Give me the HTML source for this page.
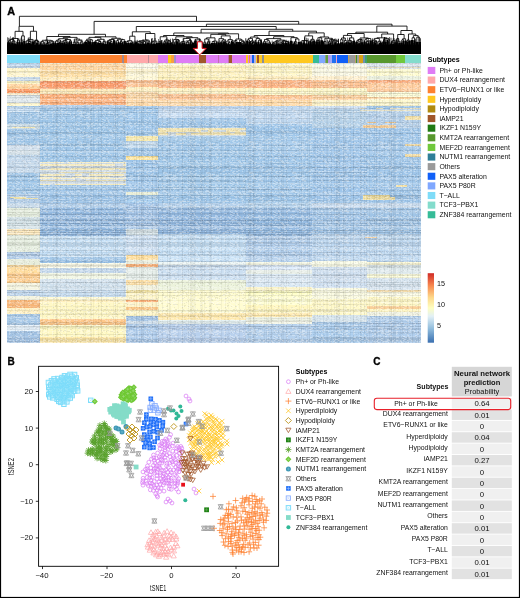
<!DOCTYPE html><html><head><meta charset="utf-8"><style>html,body{margin:0;padding:0;background:#fff}svg{display:block}</style></head><body>
<svg width="520" height="598" viewBox="0 0 520 598">
<defs>
<symbol id="s_ph" overflow="visible"><circle r="1.9" fill="none" stroke="#d878f4" stroke-width="0.7"/></symbol>
<symbol id="s_dux" overflow="visible"><path d="M0,-2.6L2.6,2L-2.6,2Z" fill="none" stroke="#ffa6a8" stroke-width="0.7"/></symbol>
<symbol id="s_etv" overflow="visible"><path d="M-3,0H3M0,-3V3" stroke="#fd8232" stroke-width="0.75"/></symbol>
<symbol id="s_hyp" overflow="visible"><path d="M-2.3,-2.3L2.3,2.3M-2.3,2.3L2.3,-2.3" stroke="#ffc41e" stroke-width="0.75"/></symbol>
<symbol id="s_hypo" overflow="visible"><path d="M0,-3L3,0L0,3L-3,0Z" fill="none" stroke="#be961e" stroke-width="0.9"/></symbol>
<symbol id="s_iamp" overflow="visible"><path d="M-2.6,-2H2.6L0,2.4Z" fill="none" stroke="#a0562a" stroke-width="0.75"/></symbol>
<symbol id="s_ikz" overflow="visible"><rect x="-2.4" y="-2.4" width="4.8" height="4.8" fill="#1e8214"/><path d="M0,-1.6V1.6M-1.6,0H1.6" stroke="#6cb060" stroke-width="0.6"/></symbol>
<symbol id="s_kmt" overflow="visible"><path d="M-3,0H3M0,-3V3M-2.1,-2.1L2.1,2.1M-2.1,2.1L2.1,-2.1" stroke="#58a02c" stroke-width="0.85"/></symbol>
<symbol id="s_mef" overflow="visible"><path d="M0,-3L3,0L0,3L-3,0Z" fill="#6ec832"/><path d="M0,-1.5V1.5M-1.5,0H1.5" stroke="#a8e090" stroke-width="0.5"/></symbol>
<symbol id="s_nut" overflow="visible"><circle r="2.5" fill="#3c96b4"/><path d="M0,-1.5V1.5M-1.5,0H1.5" stroke="#80c0d8" stroke-width="0.5"/></symbol>
<symbol id="s_oth" overflow="visible"><path d="M-2.5,-2.2H2.5L0,2.2ZM-2.5,2.2H2.5L0,-2.2Z" fill="none" stroke="#999" stroke-width="0.8"/></symbol>
<symbol id="s_pax" overflow="visible"><rect x="-2.3" y="-2.3" width="4.6" height="4.6" fill="#1e6ef8"/><path d="M0,-1.8V1.8M-1.8,0H1.8" stroke="#a8c8ff" stroke-width="0.6"/></symbol>
<symbol id="s_p80" overflow="visible"><rect x="-2.2" y="-2.2" width="4.4" height="4.4" fill="none" stroke="#80a8ff" stroke-width="0.8"/><path d="M-2,-2L2,2M-2,2L2,-2" stroke="#a8c4ff" stroke-width="0.5"/></symbol>
<symbol id="s_tall" overflow="visible"><rect x="-2.2" y="-2.2" width="4.4" height="4.4" fill="none" stroke="#7ddcfa" stroke-width="1.0"/><path d="M-2,-2L2,2M-2,2L2,-2" stroke="#a0e6fa" stroke-width="0.5"/></symbol>
<symbol id="s_tcf" overflow="visible"><rect x="-2.4" y="-2.4" width="4.8" height="4.8" fill="#84dcc8"/></symbol>
<symbol id="s_znf" overflow="visible"><circle r="2.0" fill="#30b896"/></symbol>
</defs>
<rect width="520" height="598" fill="#fff"/>
<text x="7.3" y="14.6" font-size="10.8" font-weight="bold" stroke="#000" stroke-width="0.35" font-family="Liberation Sans, sans-serif">A</text>
<text x="7.5" y="364.7" font-size="10" font-weight="bold" stroke="#000" stroke-width="0.3" font-family="Liberation Sans, sans-serif">B</text>
<text x="373.3" y="365.2" font-size="10" font-weight="bold" stroke="#000" stroke-width="0.3" font-family="Liberation Sans, sans-serif">C</text>
<path d="M8.57 42.22V46.00M11.05 42.01V46.00M8.57 42.22V40.87M8.57 40.87H11.05V42.01M12.72 42.39V46.00M14.86 42.50V46.00M12.72 42.39V40.94M12.72 40.94H14.86V42.50M9.81 40.87V39.44M9.81 39.44H13.79V40.94M17.40 41.62V46.00M19.38 41.31V46.00M17.40 41.62V40.15M17.40 40.15H19.38V41.31M11.80 39.44V38.48M11.80 38.48H18.39V40.15M21.65 41.70V46.00M24.33 40.61V46.00M21.65 41.70V35.89M21.65 35.89H24.33V40.61M15.09 38.48V31.33M15.09 31.33H22.99V35.89M26.27 42.29V46.00M28.60 42.24V46.00M30.78 42.74V46.00M28.60 42.24V41.41M28.60 41.41H30.78V42.74M26.27 42.29V40.78M26.27 40.78H29.69V41.41M32.82 40.53V46.00M27.98 40.78V39.43M27.98 39.43H32.82V40.53M35.10 41.67V46.00M37.01 42.13V46.00M39.03 41.84V46.00M37.01 42.13V41.35M37.01 41.35H39.03V41.84M35.10 41.67V40.54M35.10 40.54H38.02V41.35M30.40 39.43V31.25M30.40 31.25H36.56V40.54M19.04 31.33V26.30M19.04 26.30H33.48V31.25M40.75 42.11V46.00M42.90 44.43V46.00M44.83 44.00V46.00M42.90 44.43V43.08M42.90 43.08H44.83V44.00M40.75 42.11V41.67M40.75 41.67H43.86V43.08M46.29 45.06V46.00M48.41 44.51V46.00M46.29 45.06V43.51M46.29 43.51H48.41V44.51M50.93 43.34V46.00M47.35 43.51V42.76M47.35 42.76H50.93V43.34M53.40 42.17V46.00M49.14 42.76V41.19M49.14 41.19H53.40V42.17M42.30 41.67V40.28M42.30 40.28H51.27V41.19M55.49 42.07V46.00M57.97 42.30V46.00M55.49 42.07V41.12M55.49 41.12H57.97V42.30M60.47 42.89V46.00M56.73 41.12V40.02M56.73 40.02H60.47V42.89M62.32 42.54V46.00M64.15 41.88V46.00M62.32 42.54V41.28M62.32 41.28H64.15V41.88M66.08 43.37V46.00M67.85 42.64V46.00M66.08 43.37V42.20M66.08 42.20H67.85V42.64M63.23 41.28V40.68M63.23 40.68H66.96V42.20M69.66 41.45V46.00M71.43 41.72V46.00M69.66 41.45V41.00M69.66 41.00H71.43V41.72M65.10 40.68V39.45M65.10 39.45H70.54V41.00M58.60 40.02V38.70M58.60 38.70H67.82V39.45M73.26 43.67V46.00M75.32 43.07V46.00M73.26 43.67V42.19M73.26 42.19H75.32V43.07M76.96 43.92V46.00M78.66 43.27V46.00M76.96 43.92V42.37M76.96 42.37H78.66V43.27M80.83 43.45V46.00M83.01 43.03V46.00M80.83 43.45V41.90M80.83 41.90H83.01V43.03M77.81 42.37V40.21M77.81 40.21H81.92V41.90M74.29 42.19V39.08M74.29 39.08H79.87V40.21M63.21 38.70V37.39M63.21 37.39H77.08V39.08M46.79 40.28V36.50M46.79 36.50H70.14V37.39M85.60 41.58V46.00M87.75 42.33V46.00M85.60 41.58V40.68M85.60 40.68H87.75V42.33M89.85 41.06V46.00M92.60 41.29V46.00M89.85 41.06V39.89M89.85 39.89H92.60V41.29M86.67 40.68V39.18M86.67 39.18H91.22V39.89M95.40 41.40V46.00M98.53 42.59V46.00M100.97 42.31V46.00M98.53 42.59V41.55M98.53 41.55H100.97V42.31M95.40 41.40V40.43M95.40 40.43H99.75V41.55M103.10 42.63V46.00M105.36 43.14V46.00M103.10 42.63V41.64M103.10 41.64H105.36V43.14M97.57 40.43V39.31M97.57 39.31H104.23V41.64M88.95 39.18V37.37M88.95 37.37H100.90V39.31M107.66 40.87V46.00M110.18 42.19V46.00M112.11 42.68V46.00M110.18 42.19V41.62M110.18 41.62H112.11V42.68M107.66 40.87V40.39M107.66 40.39H111.14V41.62M114.14 40.16V46.00M109.40 40.39V39.52M109.40 39.52H114.14V40.16M116.66 42.20V46.00M118.58 41.06V46.00M116.66 42.20V40.60M116.66 40.60H118.58V41.06M120.45 42.43V46.00M122.47 42.29V46.00M120.45 42.43V41.84M120.45 41.84H122.47V42.29M124.69 40.26V46.00M121.46 41.84V39.68M121.46 39.68H124.69V40.26M117.62 40.60V39.25M117.62 39.25H123.07V39.68M111.77 39.52V38.27M111.77 38.27H120.34V39.25M94.92 37.37V36.80M94.92 36.80H116.06V38.27M58.47 36.50V34.30M58.47 34.30H105.49V36.80M126.61 42.57V46.00M128.49 42.63V46.00M126.61 42.57V41.56M126.61 41.56H128.49V42.63M130.95 42.54V46.00M132.86 42.83V46.00M130.95 42.54V41.98M130.95 41.98H132.86V42.83M127.55 41.56V40.71M127.55 40.71H131.91V41.98M134.08 41.66V46.00M135.79 42.26V46.00M134.08 41.66V41.15M134.08 41.15H135.79V42.26M129.73 40.71V36.20M129.73 36.20H134.94V41.15M138.06 42.50V46.00M140.16 43.15V46.00M141.98 43.25V46.00M140.16 43.15V42.23M140.16 42.23H141.98V43.25M138.06 42.50V41.36M138.06 41.36H141.07V42.23M143.37 42.97V46.00M145.44 43.09V46.00M143.37 42.97V41.62M143.37 41.62H145.44V43.09M139.56 41.36V40.80M139.56 40.80H144.40V41.62M148.18 42.70V46.00M150.04 42.30V46.00M148.18 42.70V41.79M148.18 41.79H150.04V42.30M141.98 40.80V40.13M141.98 40.13H149.11V41.79M151.62 42.81V46.00M154.17 43.34V46.00M151.62 42.81V41.83M151.62 41.83H154.17V43.34M156.86 41.73V46.00M152.89 41.83V41.13M152.89 41.13H156.86V41.73M145.55 40.13V33.50M145.55 33.50H154.87V41.13M132.33 36.20V31.80M132.33 31.80H150.21V33.50M159.04 42.15V46.00M161.34 42.28V46.00M159.04 42.15V41.31M159.04 41.31H161.34V42.28M163.88 42.63V46.00M165.60 42.47V46.00M163.88 42.63V41.58M163.88 41.58H165.60V42.47M167.54 41.48V46.00M170.47 42.45V46.00M167.54 41.48V40.97M167.54 40.97H170.47V42.45M164.74 41.58V40.05M164.74 40.05H169.00V40.97M160.19 41.31V36.73M160.19 36.73H166.87V40.05M172.77 43.24V46.00M174.50 42.98V46.00M172.77 43.24V42.21M172.77 42.21H174.50V42.98M176.76 40.70V46.00M179.31 42.67V46.00M176.76 40.70V40.04M176.76 40.04H179.31V42.67M173.63 42.21V39.43M173.63 39.43H178.03V40.04M180.94 43.19V46.00M182.59 42.58V46.00M180.94 43.19V42.10M180.94 42.10H182.59V42.58M184.61 42.68V46.00M181.77 42.10V41.55M181.77 41.55H184.61V42.68M186.63 43.23V46.00M188.66 43.52V46.00M186.63 43.23V42.14M186.63 42.14H188.66V43.52M190.43 43.17V46.00M192.81 42.79V46.00M190.43 43.17V42.31M190.43 42.31H192.81V42.79M187.65 42.14V40.83M187.65 40.83H191.62V42.31M183.19 41.55V38.43M183.19 38.43H189.63V40.83M195.50 40.21V46.00M197.65 43.17V46.00M199.78 44.14V46.00M197.65 43.17V42.75M197.65 42.75H199.78V44.14M202.00 42.53V46.00M198.72 42.75V41.62M198.72 41.62H202.00V42.53M195.50 40.21V39.14M195.50 39.14H200.36V41.62M186.41 38.43V37.66M186.41 37.66H197.93V39.14M175.83 39.43V36.78M175.83 36.78H192.17V37.66M163.53 36.73V35.50M163.53 35.50H184.00V36.78M203.87 43.05V46.00M205.63 42.91V46.00M203.87 43.05V42.18M203.87 42.18H205.63V42.91M207.30 42.78V46.00M209.37 43.49V46.00M207.30 42.78V42.09M207.30 42.09H209.37V43.49M204.75 42.18V38.95M204.75 38.95H208.33V42.09M212.13 42.17V46.00M214.52 42.32V46.00M212.13 42.17V41.53M212.13 41.53H214.52V42.32M216.66 42.14V46.00M213.33 41.53V41.09M213.33 41.09H216.66V42.14M206.54 38.95V37.84M206.54 37.84H214.99V41.09M218.93 41.78V46.00M221.28 42.25V46.00M223.25 42.16V46.00M221.28 42.25V41.13M221.28 41.13H223.25V42.16M224.96 40.95V46.00M222.27 41.13V39.90M222.27 39.90H224.96V40.95M218.93 41.78V38.66M218.93 38.66H223.62V39.90M226.68 42.34V46.00M228.43 43.26V46.00M230.16 44.09V46.00M228.43 43.26V42.61M228.43 42.61H230.16V44.09M226.68 42.34V41.14M226.68 41.14H229.29V42.61M232.37 41.52V46.00M227.99 41.14V39.62M227.99 39.62H232.37V41.52M221.27 38.66V35.87M221.27 35.87H230.18V39.62M210.77 37.84V34.34M210.77 34.34H225.73V35.87M234.84 42.56V46.00M236.88 41.78V46.00M234.84 42.56V40.52M234.84 40.52H236.88V41.78M239.55 41.65V46.00M241.78 42.76V46.00M243.38 43.40V46.00M245.14 43.76V46.00M243.38 43.40V42.64M243.38 42.64H245.14V43.76M241.78 42.76V41.36M241.78 41.36H244.26V42.64M239.55 41.65V40.18M239.55 40.18H243.02V41.36M235.86 40.52V39.04M235.86 39.04H241.28V40.18M218.25 34.34V33.80M218.25 33.80H238.57V39.04M173.77 35.50V33.00M173.77 33.00H228.41V33.80M247.28 40.57V46.00M249.52 41.31V46.00M247.28 40.57V39.90M247.28 39.90H249.52V41.31M251.16 42.68V46.00M252.91 43.81V46.00M254.53 43.45V46.00M252.91 43.81V42.30M252.91 42.30H254.53V43.45M251.16 42.68V40.99M251.16 40.99H253.72V42.30M248.40 39.90V38.35M248.40 38.35H252.44V40.99M256.16 42.20V46.00M258.44 41.06V46.00M261.14 42.21V46.00M258.44 41.06V40.21M258.44 40.21H261.14V42.21M256.16 42.20V38.43M256.16 38.43H259.79V40.21M250.42 38.35V37.06M250.42 37.06H257.97V38.43M263.61 42.19V46.00M265.45 42.41V46.00M263.61 42.19V41.38M263.61 41.38H265.45V42.41M266.96 42.35V46.00M268.82 43.20V46.00M270.48 42.78V46.00M268.82 43.20V42.37M268.82 42.37H270.48V42.78M266.96 42.35V40.79M266.96 40.79H269.65V42.37M264.53 41.38V39.44M264.53 39.44H268.31V40.79M272.48 44.23V46.00M274.88 44.29V46.00M272.48 44.23V43.12M272.48 43.12H274.88V44.29M276.65 42.98V46.00M273.68 43.12V42.11M273.68 42.11H276.65V42.98M278.72 42.51V46.00M275.17 42.11V41.14M275.17 41.14H278.72V42.51M281.27 43.87V46.00M283.40 42.96V46.00M281.27 43.87V42.30M281.27 42.30H283.40V42.96M285.76 42.18V46.00M288.49 42.06V46.00M285.76 42.18V41.57M285.76 41.57H288.49V42.06M282.34 42.30V41.00M282.34 41.00H287.13V41.57M276.94 41.14V40.12M276.94 40.12H284.73V41.00M266.42 39.44V38.62M266.42 38.62H280.84V40.12M290.97 39.94V46.00M293.59 43.72V46.00M295.32 44.38V46.00M293.59 43.72V43.21M293.59 43.21H295.32V44.38M296.81 42.90V46.00M294.46 43.21V41.88M294.46 41.88H296.81V42.90M298.92 41.49V46.00M295.63 41.88V38.95M295.63 38.95H298.92V41.49M290.97 39.94V37.65M290.97 37.65H297.28V38.95M273.63 38.62V36.70M273.63 36.70H294.12V37.65M254.20 37.06V35.50M254.20 35.50H283.88V36.70M301.13 41.42V46.00M303.69 41.94V46.00M301.13 41.42V41.00M301.13 41.00H303.69V41.94M306.35 42.51V46.00M308.40 41.74V46.00M306.35 42.51V40.97M306.35 40.97H308.40V41.74M302.41 41.00V40.53M302.41 40.53H307.37V40.97M310.19 40.75V46.00M312.06 41.49V46.00M310.19 40.75V40.19M310.19 40.19H312.06V41.49M314.10 40.08V46.00M311.12 40.19V39.32M311.12 39.32H314.10V40.08M304.89 40.53V35.87M304.89 35.87H312.61V39.32M316.66 41.34V46.00M319.13 41.36V46.00M316.66 41.34V40.43M316.66 40.43H319.13V41.36M321.71 39.79V46.00M317.89 40.43V37.69M317.89 37.69H321.71V39.79M323.80 42.14V46.00M325.94 42.73V46.00M323.80 42.14V41.60M323.80 41.60H325.94V42.73M328.42 43.13V46.00M330.33 42.14V46.00M328.42 43.13V41.66M328.42 41.66H330.33V42.14M332.47 41.50V46.00M334.12 42.42V46.00M332.47 41.50V40.92M332.47 40.92H334.12V42.42M335.76 42.17V46.00M338.45 42.44V46.00M335.76 42.17V41.26M335.76 41.26H338.45V42.44M333.30 40.92V40.24M333.30 40.24H337.11V41.26M329.37 41.66V39.76M329.37 39.76H335.20V40.24M324.87 41.60V38.31M324.87 38.31H332.29V39.76M319.80 37.69V36.97M319.80 36.97H328.58V38.31M308.75 35.87V32.90M308.75 32.90H324.19V36.97M269.04 35.50V31.20M269.04 31.20H316.47V32.90M201.09 33.00V29.30M201.09 29.30H292.75V31.20M136.30 31.80V26.50M136.30 26.50H276.20V29.30M340.66 41.69V46.00M342.39 41.49V46.00M340.66 41.69V39.42M340.66 39.42H342.39V41.49M344.31 42.29V46.00M346.35 41.59V46.00M344.31 42.29V40.49M344.31 40.49H346.35V41.59M341.52 39.42V38.01M341.52 38.01H345.33V40.49M348.19 41.30V46.00M350.06 42.35V46.00M351.73 41.54V46.00M350.06 42.35V40.88M350.06 40.88H351.73V41.54M348.19 41.30V40.40M348.19 40.40H350.89V40.88M353.68 40.84V46.00M349.54 40.40V37.88M349.54 37.88H353.68V40.84M343.43 38.01V35.40M343.43 35.40H351.61V37.88M356.56 41.54V46.00M359.27 42.38V46.00M356.56 41.54V40.81M356.56 40.81H359.27V42.38M362.12 41.73V46.00M357.91 40.81V39.49M357.91 39.49H362.12V41.73M364.49 40.81V46.00M366.15 42.06V46.00M368.28 42.66V46.00M366.15 42.06V41.35M366.15 41.35H368.28V42.66M364.49 40.81V39.85M364.49 39.85H367.21V41.35M370.79 40.38V46.00M365.85 39.85V38.48M365.85 38.48H370.79V40.38M360.02 39.49V37.96M360.02 37.96H368.32V38.48M347.52 35.40V33.50M347.52 33.50H364.17V37.96M372.85 40.97V46.00M375.02 42.13V46.00M376.89 41.89V46.00M375.02 42.13V41.33M375.02 41.33H376.89V41.89M372.85 40.97V40.17M372.85 40.17H375.96V41.33M378.16 42.65V46.00M380.47 41.74V46.00M378.16 42.65V41.34M378.16 41.34H380.47V41.74M374.40 40.17V38.42M374.40 38.42H379.32V41.34M383.47 41.01V46.00M385.77 41.12V46.00M383.47 41.01V39.76M383.47 39.76H385.77V41.12M387.71 39.73V46.00M389.37 41.21V46.00M387.71 39.73V39.28M387.71 39.28H389.37V41.21M384.62 39.76V38.35M384.62 38.35H388.54V39.28M376.86 38.42V37.83M376.86 37.83H386.58V38.35M391.14 42.87V46.00M393.18 43.33V46.00M391.14 42.87V42.14M391.14 42.14H393.18V43.33M395.02 41.61V46.00M392.16 42.14V40.75M392.16 40.75H395.02V41.61M381.72 37.83V34.00M381.72 34.00H393.59V40.75M355.84 33.50V32.20M355.84 32.20H387.65V34.00M396.67 41.91V46.00M397.87 42.17V46.00M399.60 42.22V46.00M397.87 42.17V41.24M397.87 41.24H399.60V42.22M396.67 41.91V38.68M396.67 38.68H398.73V41.24M401.77 42.39V46.00M403.51 40.57V46.00M401.77 42.39V39.93M401.77 39.93H403.51V40.57M405.64 40.21V46.00M402.64 39.93V38.79M402.64 38.79H405.64V40.21M397.70 38.68V34.50M397.70 34.50H404.14V38.79M407.59 41.52V46.00M409.35 40.70V46.00M407.59 41.52V40.04M407.59 40.04H409.35V40.70M412.10 39.28V46.00M414.61 39.73V46.00M412.10 39.28V37.78M412.10 37.78H414.61V39.73M416.82 41.46V46.00M419.55 41.08V46.00M416.82 41.46V37.10M416.82 37.10H419.55V41.08M413.36 37.78V35.60M413.36 35.60H418.19V37.10M408.47 40.04V34.00M408.47 34.00H415.77V35.60M400.92 34.50V30.50M400.92 30.50H412.12V34.00M376.80 32.20V26.10M376.80 26.10H407.00V30.50M206.40 26.50V24.20M206.40 24.20H392.00V26.10M94.10 34.30V21.40M94.10 21.40H298.70V24.20M19.40 26.30V16.30M19.40 16.30H196.50V21.40" fill="none" stroke="#000" stroke-width="0.85"/>
<path d="M7.10 42.22H10.04V46.00H7.10ZM10.24 42.22H11.86V46.00H10.24ZM12.06 43.07H13.38V46.00H12.06ZM13.58 43.44H16.13V46.00H13.58ZM16.33 41.76H18.48V46.00H16.33ZM18.68 41.61H20.08V46.00H18.68ZM20.28 42.18H23.03V46.00H20.28ZM23.23 41.09H25.43V46.00H23.23ZM25.63 43.22H26.92V46.00H25.63ZM27.12 42.99H30.07V46.00H27.12ZM30.27 43.60H31.29V46.00H30.27ZM31.49 41.47H34.14V46.00H31.49ZM36.05 42.82H37.96V46.00H36.05ZM40.10 42.84H41.39V46.00H40.10ZM41.59 45.27H44.20V46.00H41.59ZM44.40 44.45H45.27V46.00H44.40ZM45.47 45.15H47.12V46.00H45.47ZM47.32 45.29H49.50V46.00H47.32ZM49.70 43.70H52.15V46.00H49.70ZM52.35 42.95H54.45V46.00H52.35ZM54.65 42.42H56.32V46.00H54.65ZM56.52 43.03H59.42V46.00H56.52ZM59.62 43.24H61.32V46.00H59.62ZM61.52 43.12H63.11V46.00H61.52ZM63.31 42.30H64.99V46.00H63.31ZM65.19 43.81H66.97V46.00H65.19ZM67.17 42.85H68.52V46.00H67.17ZM68.72 41.58H70.61V46.00H68.72ZM70.81 41.90H72.04V46.00H70.81ZM72.24 44.08H74.28V46.00H72.24ZM74.48 43.90H76.15V46.00H74.48ZM76.35 44.56H77.57V46.00H76.35ZM77.77 43.41H79.54V46.00H77.77ZM79.74 44.35H81.93V46.00H79.74ZM82.13 43.14H83.90V46.00H82.13ZM84.10 41.86H87.09V46.00H84.10ZM87.29 42.45H88.21V46.00H87.29ZM88.41 41.59H91.29V46.00H88.41ZM91.49 42.22H93.70V46.00H91.49ZM93.90 41.52H96.90V46.00H93.90ZM97.10 43.06H99.97V46.00H97.10ZM100.17 43.05H101.77V46.00H100.17ZM101.97 43.18H104.23V46.00H101.97ZM104.43 43.92H106.28V46.00H104.43ZM106.48 41.16H108.84V46.00H106.48ZM109.04 42.53H111.32V46.00H109.04ZM111.52 43.27H112.71V46.00H111.52ZM112.91 40.22H115.38V46.00H112.91ZM115.58 42.42H117.73V46.00H115.58ZM117.93 42.01H119.22V46.00H117.93ZM119.42 42.81H121.47V46.00H119.42ZM121.67 42.35H123.27V46.00H121.67ZM123.47 41.00H125.90V46.00H123.47ZM126.10 42.83H127.12V46.00H126.10ZM127.32 42.88H129.65V46.00H127.32ZM129.85 42.72H132.05V46.00H129.85ZM132.25 43.48H133.48V46.00H132.25ZM133.68 42.54H134.48V46.00H133.68ZM134.68 42.59H136.90V46.00H134.68ZM137.10 43.33H139.02V46.00H137.10ZM139.22 43.72H141.11V46.00H139.22ZM141.31 43.64H142.66V46.00H141.31ZM142.86 43.73H143.89V46.00H142.86ZM144.09 43.56H146.78V46.00H144.09ZM146.98 42.86H149.37V46.00H146.98ZM149.57 42.69H150.51V46.00H149.57ZM150.71 43.75H152.52V46.00H150.71ZM152.72 44.02H155.61V46.00H152.72ZM155.81 42.68H157.90V46.00H155.81ZM158.10 42.88H159.98V46.00H158.10ZM160.18 42.44H162.51V46.00H160.18ZM162.71 43.18H165.05V46.00H162.71ZM166.15 42.42H168.93V46.00H166.15ZM169.13 42.69H171.80V46.00H169.13ZM172.00 43.78H173.54V46.00H172.00ZM175.45 41.27H178.06V46.00H175.45ZM178.26 43.30H180.36V46.00H178.26ZM180.56 43.24H181.33V46.00H180.56ZM181.53 42.86H183.66V46.00H181.53ZM183.86 42.78H185.36V46.00H183.86ZM185.56 44.18H187.70V46.00H185.56ZM187.90 44.22H189.42V46.00H187.90ZM189.62 43.43H191.24V46.00H189.62ZM191.44 43.07H194.17V46.00H191.44ZM194.37 40.57H196.63V46.00H194.37ZM196.83 43.26H198.47V46.00H196.83ZM198.67 44.31H200.89V46.00H198.67ZM201.09 42.98H202.90V46.00H201.09ZM203.10 43.61H204.63V46.00H203.10ZM204.83 43.66H206.43V46.00H204.83ZM206.63 43.40H207.96V46.00H206.63ZM208.16 43.64H210.57V46.00H208.16ZM210.77 43.04H213.49V46.00H210.77ZM213.69 43.12H215.36V46.00H213.69ZM215.56 42.15H217.76V46.00H215.56ZM217.96 42.76H219.90V46.00H217.96ZM220.10 42.32H222.46V46.00H220.10ZM222.66 42.52H223.84V46.00H222.66ZM224.04 41.71H225.89V46.00H224.04ZM226.09 43.18H227.27V46.00H226.09ZM227.47 44.24H229.40V46.00H227.47ZM229.60 44.48H230.71V46.00H229.60ZM230.91 41.91H233.83V46.00H230.91ZM234.03 43.44H235.64V46.00H234.03ZM235.84 42.08H237.92V46.00H235.84ZM238.12 41.88H240.98V46.00H238.12ZM241.18 43.18H242.37V46.00H241.18ZM244.38 43.79H245.90V46.00H244.38ZM246.10 40.67H248.46V46.00H246.10ZM248.66 41.46H250.38V46.00H248.66ZM250.58 43.50H251.75V46.00H250.58ZM254.06 43.55H255.00V46.00H254.06ZM255.20 42.29H257.12V46.00H255.20ZM257.32 41.75H259.56V46.00H257.32ZM259.76 43.17H262.52V46.00H259.76ZM262.72 42.61H264.50V46.00H262.72ZM264.70 43.07H266.19V46.00H264.70ZM266.39 42.74H267.53V46.00H266.39ZM267.73 43.56H269.91V46.00H267.73ZM270.11 43.03H270.85V46.00H270.11ZM271.05 44.27H273.92V46.00H271.05ZM274.12 45.06H275.65V46.00H274.12ZM275.85 43.85H277.45V46.00H275.85ZM277.65 43.42H279.80V46.00H277.65ZM280.00 44.14H282.54V46.00H280.00ZM282.74 43.25H284.07V46.00H282.74ZM284.27 43.08H287.25V46.00H284.27ZM287.45 42.26H289.53V46.00H287.45ZM289.73 40.86H292.22V46.00H289.73ZM292.42 44.09H294.77V46.00H292.42ZM294.97 44.97H295.68V46.00H294.97ZM297.94 42.06H299.90V46.00H297.94ZM300.10 42.35H302.16V46.00H300.10ZM302.36 42.47H305.01V46.00H302.36ZM305.21 43.45H307.49V46.00H305.21ZM307.69 42.18H309.10V46.00H307.69ZM309.30 40.96H311.07V46.00H309.30ZM311.27 41.55H312.85V46.00H311.27ZM313.05 40.42H315.16V46.00H313.05ZM315.36 41.52H317.95V46.00H315.36ZM318.15 41.41H320.10V46.00H318.15ZM320.30 40.35H323.12V46.00H320.30ZM323.32 42.36H324.28V46.00H323.32ZM327.60 43.97H329.23V46.00H327.60ZM329.43 42.89H331.22V46.00H329.43ZM333.73 42.50H334.51V46.00H333.73ZM334.71 42.31H336.81V46.00H334.71ZM337.01 43.13H339.90V46.00H337.01ZM340.10 42.65H341.21V46.00H340.10ZM341.41 42.26H343.36V46.00H341.41ZM343.56 43.26H345.06V46.00H343.56ZM345.26 42.23H347.43V46.00H345.26ZM347.63 41.48H348.75V46.00H347.63ZM348.95 42.58H351.16V46.00H348.95ZM351.36 42.11H352.10V46.00H351.36ZM352.30 40.95H355.05V46.00H352.30ZM355.25 41.75H357.87V46.00H355.25ZM358.07 43.30H360.46V46.00H358.07ZM360.66 42.37H363.57V46.00H360.66ZM363.77 41.31H365.21V46.00H363.77ZM365.41 42.20H366.88V46.00H365.41ZM367.08 43.36H369.48V46.00H367.08ZM369.68 40.48H371.90V46.00H369.68ZM372.10 41.84H373.59V46.00H372.10ZM373.79 42.55H376.25V46.00H373.79ZM378.99 42.59H381.96V46.00H378.99ZM382.16 41.51H384.79V46.00H382.16ZM384.99 41.91H386.55V46.00H384.99ZM386.75 39.94H388.66V46.00H386.75ZM390.07 43.61H392.20V46.00H390.07ZM392.40 43.76H393.95V46.00H392.40ZM394.15 42.34H395.90V46.00H394.15ZM396.10 42.67H397.25V46.00H396.10ZM397.45 42.20H398.29V46.00H397.45ZM398.49 42.98H400.70V46.00H398.49ZM400.90 42.73H402.65V46.00H400.90ZM402.85 40.94H404.18V46.00H402.85ZM404.38 40.44H406.90V46.00H404.38ZM407.10 41.97H408.07V46.00H407.10ZM408.27 40.73H410.42V46.00H408.27ZM410.62 39.94H413.58V46.00H410.62ZM413.78 40.45H415.43V46.00H413.78ZM415.63 41.65H418.01V46.00H415.63ZM418.21 41.92H420.90V46.00H418.21Z" fill="#000"/>
<rect x="7" y="44.3" width="414" height="9.7" fill="#000"/>
<path d="M7.20 37.29h0.55V44.5h-0.55ZM8.38 37.80h0.55V44.5h-0.55ZM9.31 37.85h0.35V44.5h-0.35ZM10.36 36.14h0.41V44.5h-0.41ZM11.50 43.35h0.88V44.5h-0.88ZM12.46 37.13h0.86V44.5h-0.86ZM13.28 36.88h0.35V44.5h-0.35ZM14.46 40.71h0.77V44.5h-0.77ZM15.80 43.94h0.60V44.5h-0.60ZM16.99 38.07h0.65V44.5h-0.65ZM18.03 43.27h0.59V44.5h-0.59ZM18.91 43.23h0.51V44.5h-0.51ZM19.67 38.53h0.65V44.5h-0.65ZM20.90 37.29h0.68V44.5h-0.68ZM22.18 39.42h0.57V44.5h-0.57ZM23.57 39.33h0.78V44.5h-0.78ZM24.81 41.03h0.42V44.5h-0.42ZM25.58 43.92h0.70V44.5h-0.70ZM26.79 40.98h0.37V44.5h-0.37ZM27.86 37.87h0.59V44.5h-0.59ZM28.79 37.03h0.60V44.5h-0.60ZM30.03 39.16h0.48V44.5h-0.48ZM30.80 44.03h0.52V44.5h-0.52ZM31.73 39.63h0.40V44.5h-0.40ZM33.19 39.61h0.40V44.5h-0.40ZM34.05 40.58h0.72V44.5h-0.72ZM34.83 39.49h0.82V44.5h-0.82ZM36.08 43.62h0.60V44.5h-0.60ZM36.83 39.12h0.48V44.5h-0.48ZM37.74 40.90h0.80V44.5h-0.80ZM38.72 43.43h0.63V44.5h-0.63ZM39.87 42.07h0.60V44.5h-0.60ZM41.07 41.53h0.57V44.5h-0.57ZM41.87 43.91h0.59V44.5h-0.59ZM42.82 42.50h0.55V44.5h-0.55ZM43.99 41.64h0.45V44.5h-0.45ZM45.27 39.52h0.37V44.5h-0.37ZM46.58 39.19h0.85V44.5h-0.85ZM47.34 40.70h0.69V44.5h-0.69ZM48.57 41.70h0.37V44.5h-0.37ZM49.40 42.98h0.53V44.5h-0.53ZM50.51 43.73h0.82V44.5h-0.82ZM51.70 40.00h0.82V44.5h-0.82ZM52.78 42.62h0.53V44.5h-0.53ZM53.57 41.21h0.84V44.5h-0.84ZM54.90 44.21h0.87V44.5h-0.87ZM55.91 44.49h0.82V44.5h-0.82ZM56.71 43.15h0.76V44.5h-0.76ZM57.78 39.98h0.50V44.5h-0.50ZM58.81 41.39h0.86V44.5h-0.86ZM59.71 41.60h0.69V44.5h-0.69ZM60.91 40.71h0.60V44.5h-0.60ZM61.63 42.80h0.80V44.5h-0.80ZM62.53 42.39h0.62V44.5h-0.62ZM63.63 43.41h0.85V44.5h-0.85ZM64.58 42.55h0.54V44.5h-0.54ZM65.41 39.01h0.86V44.5h-0.86ZM66.51 42.09h0.50V44.5h-0.50ZM67.24 44.45h0.47V44.5h-0.47ZM68.57 41.70h0.47V44.5h-0.47ZM69.30 40.10h0.42V44.5h-0.42ZM70.79 40.46h0.52V44.5h-0.52ZM71.54 44.48h0.41V44.5h-0.41ZM72.83 43.70h0.86V44.5h-0.86ZM74.16 39.95h0.49V44.5h-0.49ZM75.07 39.99h0.39V44.5h-0.39ZM76.35 38.66h0.62V44.5h-0.62ZM77.29 43.77h0.82V44.5h-0.82ZM78.58 44.07h0.75V44.5h-0.75ZM79.72 42.34h0.56V44.5h-0.56ZM80.65 40.54h0.37V44.5h-0.37ZM81.71 39.30h0.42V44.5h-0.42ZM82.61 44.29h0.55V44.5h-0.55ZM83.70 43.24h0.81V44.5h-0.81ZM84.88 41.34h0.53V44.5h-0.53ZM85.83 43.79h0.70V44.5h-0.70ZM87.16 39.81h0.51V44.5h-0.51ZM87.87 40.34h0.67V44.5h-0.67ZM88.57 40.34h0.52V44.5h-0.52ZM89.44 42.40h0.72V44.5h-0.72ZM90.36 40.20h0.75V44.5h-0.75ZM91.80 42.44h0.42V44.5h-0.42ZM93.06 41.88h0.75V44.5h-0.75ZM94.46 42.96h0.70V44.5h-0.70ZM95.22 41.76h0.45V44.5h-0.45ZM96.36 43.22h0.40V44.5h-0.40ZM97.34 42.07h0.61V44.5h-0.61ZM98.71 42.27h0.52V44.5h-0.52ZM99.89 40.86h0.71V44.5h-0.71ZM100.82 42.49h0.61V44.5h-0.61ZM102.03 41.65h0.42V44.5h-0.42ZM103.18 39.47h0.46V44.5h-0.46ZM104.62 41.94h0.36V44.5h-0.36ZM105.56 40.60h0.37V44.5h-0.37ZM106.39 44.06h0.57V44.5h-0.57ZM107.15 42.98h0.54V44.5h-0.54ZM108.35 40.34h0.36V44.5h-0.36ZM109.28 41.62h0.84V44.5h-0.84ZM110.18 41.86h0.61V44.5h-0.61ZM111.00 43.12h0.72V44.5h-0.72ZM112.08 43.37h0.65V44.5h-0.65ZM113.55 39.00h0.69V44.5h-0.69ZM114.65 40.98h0.71V44.5h-0.71ZM115.90 42.57h0.55V44.5h-0.55ZM117.09 44.14h0.72V44.5h-0.72ZM118.36 43.03h0.74V44.5h-0.74ZM119.24 42.60h0.69V44.5h-0.69ZM119.99 40.33h0.76V44.5h-0.76ZM121.08 43.12h0.64V44.5h-0.64ZM122.40 44.21h0.61V44.5h-0.61ZM123.45 44.46h0.66V44.5h-0.66ZM124.41 44.29h0.74V44.5h-0.74ZM125.18 42.76h0.78V44.5h-0.78ZM126.31 43.76h0.78V44.5h-0.78ZM127.13 42.41h0.62V44.5h-0.62ZM128.39 43.45h0.88V44.5h-0.88ZM129.75 41.29h0.39V44.5h-0.39ZM131.18 43.20h0.87V44.5h-0.87ZM132.15 41.92h0.77V44.5h-0.77ZM133.38 43.79h0.70V44.5h-0.70ZM134.65 41.69h0.88V44.5h-0.88ZM135.75 42.10h0.71V44.5h-0.71ZM136.49 40.60h0.88V44.5h-0.88ZM137.59 39.72h0.37V44.5h-0.37ZM139.03 40.47h0.50V44.5h-0.50ZM140.38 42.70h0.48V44.5h-0.48ZM141.53 41.59h0.84V44.5h-0.84ZM142.50 40.89h0.49V44.5h-0.49ZM143.20 39.42h0.42V44.5h-0.42ZM144.15 44.20h0.77V44.5h-0.77ZM145.13 40.44h0.49V44.5h-0.49ZM146.33 39.17h0.61V44.5h-0.61ZM147.45 39.38h0.50V44.5h-0.50ZM148.78 41.37h0.41V44.5h-0.41ZM150.09 43.83h0.65V44.5h-0.65ZM151.05 38.53h0.87V44.5h-0.87ZM152.46 38.06h0.58V44.5h-0.58ZM153.37 42.98h0.89V44.5h-0.89ZM154.66 38.11h0.80V44.5h-0.80ZM155.61 44.02h0.61V44.5h-0.61ZM157.03 44.43h0.43V44.5h-0.43ZM158.18 38.88h0.52V44.5h-0.52ZM159.22 41.45h0.64V44.5h-0.64ZM160.17 41.59h0.87V44.5h-0.87ZM161.11 40.10h0.78V44.5h-0.78ZM162.15 40.06h0.41V44.5h-0.41ZM163.65 41.87h0.69V44.5h-0.69ZM164.89 41.86h0.72V44.5h-0.72ZM165.88 38.39h0.43V44.5h-0.43ZM166.68 38.17h0.57V44.5h-0.57ZM167.92 40.03h0.54V44.5h-0.54ZM168.87 39.86h0.62V44.5h-0.62ZM170.25 38.76h0.62V44.5h-0.62ZM171.02 42.19h0.84V44.5h-0.84ZM171.95 38.55h0.74V44.5h-0.74ZM173.36 42.69h0.87V44.5h-0.87ZM174.10 43.64h0.58V44.5h-0.58ZM175.28 40.04h0.46V44.5h-0.46ZM176.03 39.66h0.64V44.5h-0.64ZM177.08 43.98h0.84V44.5h-0.84ZM178.18 39.30h0.78V44.5h-0.78ZM179.64 41.63h0.83V44.5h-0.83ZM181.05 44.40h0.51V44.5h-0.51ZM182.00 43.64h0.86V44.5h-0.86ZM183.45 38.80h0.75V44.5h-0.75ZM184.37 44.02h0.71V44.5h-0.71ZM185.62 40.79h0.37V44.5h-0.37ZM186.60 39.97h0.44V44.5h-0.44ZM187.71 40.26h0.56V44.5h-0.56ZM188.74 42.30h0.87V44.5h-0.87ZM190.04 38.40h0.86V44.5h-0.86ZM191.44 39.77h0.40V44.5h-0.40ZM192.74 42.40h0.76V44.5h-0.76ZM193.82 41.30h0.75V44.5h-0.75ZM194.67 39.13h0.47V44.5h-0.47ZM195.40 44.24h0.87V44.5h-0.87ZM196.38 40.34h0.58V44.5h-0.58ZM197.71 39.58h0.62V44.5h-0.62ZM199.11 38.56h0.86V44.5h-0.86ZM200.18 42.54h0.47V44.5h-0.47ZM201.17 40.50h0.51V44.5h-0.51ZM202.35 41.66h0.63V44.5h-0.63ZM203.60 44.22h0.61V44.5h-0.61ZM204.65 44.14h0.79V44.5h-0.79ZM205.85 43.38h0.67V44.5h-0.67ZM207.11 41.23h0.46V44.5h-0.46ZM207.94 42.82h0.36V44.5h-0.36ZM208.90 38.35h0.49V44.5h-0.49ZM209.62 40.86h0.72V44.5h-0.72ZM210.67 44.01h0.72V44.5h-0.72ZM211.93 44.44h0.47V44.5h-0.47ZM212.78 42.57h0.67V44.5h-0.67ZM213.71 42.38h0.84V44.5h-0.84ZM214.98 43.61h0.43V44.5h-0.43ZM215.91 43.09h0.69V44.5h-0.69ZM216.86 40.68h0.50V44.5h-0.50ZM218.35 41.56h0.71V44.5h-0.71ZM219.50 40.23h0.71V44.5h-0.71ZM220.26 42.22h0.41V44.5h-0.41ZM221.44 42.44h0.89V44.5h-0.89ZM222.82 41.71h0.89V44.5h-0.89ZM223.86 40.94h0.61V44.5h-0.61ZM225.16 39.21h0.67V44.5h-0.67ZM226.63 43.16h0.64V44.5h-0.64ZM227.77 42.18h0.67V44.5h-0.67ZM228.56 43.06h0.42V44.5h-0.42ZM229.54 43.52h0.42V44.5h-0.42ZM230.84 41.04h0.77V44.5h-0.77ZM231.64 39.90h0.77V44.5h-0.77ZM232.88 40.30h0.73V44.5h-0.73ZM233.58 43.38h0.67V44.5h-0.67ZM234.75 40.00h0.89V44.5h-0.89ZM236.03 42.21h0.59V44.5h-0.59ZM236.97 42.02h0.48V44.5h-0.48ZM238.16 42.34h0.85V44.5h-0.85ZM239.26 42.48h0.71V44.5h-0.71ZM240.29 42.79h0.50V44.5h-0.50ZM241.30 39.57h0.37V44.5h-0.37ZM242.28 42.64h0.73V44.5h-0.73ZM243.38 40.65h0.80V44.5h-0.80ZM244.36 42.77h0.76V44.5h-0.76ZM245.40 38.35h0.84V44.5h-0.84ZM246.53 43.86h0.82V44.5h-0.82ZM247.38 41.93h0.79V44.5h-0.79ZM248.83 42.69h0.53V44.5h-0.53ZM250.04 41.03h0.89V44.5h-0.89ZM251.05 42.93h0.42V44.5h-0.42ZM251.81 39.79h0.82V44.5h-0.82ZM252.66 41.94h0.87V44.5h-0.87ZM253.97 40.43h0.54V44.5h-0.54ZM254.96 40.10h0.89V44.5h-0.89ZM256.38 42.91h0.84V44.5h-0.84ZM257.30 44.04h0.75V44.5h-0.75ZM258.47 42.54h0.47V44.5h-0.47ZM259.94 39.81h0.67V44.5h-0.67ZM260.80 39.03h0.70V44.5h-0.70ZM261.50 40.53h0.56V44.5h-0.56ZM262.59 42.27h0.39V44.5h-0.39ZM263.84 42.39h0.52V44.5h-0.52ZM264.96 42.36h0.78V44.5h-0.78ZM266.17 43.63h0.66V44.5h-0.66ZM266.94 43.85h0.41V44.5h-0.41ZM268.31 43.99h0.35V44.5h-0.35ZM269.50 43.02h0.82V44.5h-0.82ZM270.50 43.34h0.41V44.5h-0.41ZM271.77 40.61h0.61V44.5h-0.61ZM272.76 41.74h0.86V44.5h-0.86ZM273.63 44.40h0.89V44.5h-0.89ZM274.47 43.16h0.46V44.5h-0.46ZM275.48 42.93h0.61V44.5h-0.61ZM276.40 40.18h0.68V44.5h-0.68ZM277.27 41.54h0.65V44.5h-0.65ZM278.69 44.09h0.43V44.5h-0.43ZM279.60 39.50h0.54V44.5h-0.54ZM280.55 41.16h0.89V44.5h-0.89ZM281.92 42.99h0.89V44.5h-0.89ZM282.77 39.93h0.59V44.5h-0.59ZM283.67 39.93h0.53V44.5h-0.53ZM284.91 40.73h0.64V44.5h-0.64ZM285.82 39.56h0.43V44.5h-0.43ZM286.87 42.07h0.39V44.5h-0.39ZM287.77 40.59h0.77V44.5h-0.77ZM289.16 44.16h0.87V44.5h-0.87ZM290.04 41.79h0.86V44.5h-0.86ZM291.45 42.17h0.61V44.5h-0.61ZM292.35 41.20h0.77V44.5h-0.77ZM293.76 41.55h0.74V44.5h-0.74ZM294.48 41.48h0.50V44.5h-0.50ZM295.48 38.59h0.67V44.5h-0.67ZM296.55 44.27h0.84V44.5h-0.84ZM297.81 42.50h0.73V44.5h-0.73ZM299.30 41.72h0.78V44.5h-0.78ZM300.40 41.47h0.87V44.5h-0.87ZM301.58 42.27h0.52V44.5h-0.52ZM302.67 44.50h0.87V44.5h-0.87ZM304.17 37.15h0.87V44.5h-0.87ZM304.93 43.37h0.54V44.5h-0.54ZM306.07 37.77h0.49V44.5h-0.49ZM306.97 38.19h0.42V44.5h-0.42ZM308.27 38.41h0.46V44.5h-0.46ZM309.46 43.41h0.42V44.5h-0.42ZM310.68 42.69h0.83V44.5h-0.83ZM311.97 40.52h0.50V44.5h-0.50ZM312.97 43.93h0.57V44.5h-0.57ZM314.02 42.03h0.79V44.5h-0.79ZM314.79 41.66h0.47V44.5h-0.47ZM316.12 39.14h0.48V44.5h-0.48ZM317.12 40.50h0.60V44.5h-0.60ZM318.56 39.37h0.68V44.5h-0.68ZM319.54 38.35h0.63V44.5h-0.63ZM320.55 42.21h0.39V44.5h-0.39ZM321.94 41.80h0.84V44.5h-0.84ZM322.95 41.50h0.66V44.5h-0.66ZM323.79 41.07h0.65V44.5h-0.65ZM324.65 43.43h0.59V44.5h-0.59ZM325.86 39.04h0.53V44.5h-0.53ZM327.07 39.54h0.65V44.5h-0.65ZM328.14 42.01h0.57V44.5h-0.57ZM329.55 41.37h0.56V44.5h-0.56ZM330.70 39.08h0.72V44.5h-0.72ZM331.59 38.21h0.86V44.5h-0.86ZM332.84 41.03h0.49V44.5h-0.49ZM333.90 38.49h0.48V44.5h-0.48ZM335.37 38.18h0.37V44.5h-0.37ZM336.66 38.66h0.55V44.5h-0.55ZM337.98 38.77h0.89V44.5h-0.89ZM339.24 44.49h0.57V44.5h-0.57ZM340.42 42.26h0.84V44.5h-0.84ZM341.23 42.55h0.59V44.5h-0.59ZM342.05 44.44h0.40V44.5h-0.40ZM343.49 37.38h0.71V44.5h-0.71ZM344.75 43.07h0.89V44.5h-0.89ZM346.02 42.04h0.59V44.5h-0.59ZM347.46 37.50h0.62V44.5h-0.62ZM348.28 42.58h0.87V44.5h-0.87ZM349.73 37.82h0.43V44.5h-0.43ZM350.97 40.82h0.59V44.5h-0.59ZM351.86 43.07h0.77V44.5h-0.77ZM353.14 41.03h0.59V44.5h-0.59ZM354.16 39.76h0.61V44.5h-0.61ZM355.23 43.20h0.88V44.5h-0.88ZM356.04 43.32h0.72V44.5h-0.72ZM357.02 44.12h0.84V44.5h-0.84ZM357.77 40.19h0.69V44.5h-0.69ZM358.85 43.59h0.65V44.5h-0.65ZM360.05 39.13h0.84V44.5h-0.84ZM361.39 38.55h0.57V44.5h-0.57ZM362.73 38.93h0.67V44.5h-0.67ZM364.14 42.33h0.62V44.5h-0.62ZM365.63 41.41h0.53V44.5h-0.53ZM366.77 41.34h0.51V44.5h-0.51ZM368.24 39.27h0.73V44.5h-0.73ZM369.49 40.10h0.69V44.5h-0.69ZM370.73 43.07h0.56V44.5h-0.56ZM371.74 39.53h0.80V44.5h-0.80ZM372.57 38.02h0.53V44.5h-0.53ZM373.97 40.47h0.90V44.5h-0.90ZM374.87 43.53h0.84V44.5h-0.84ZM375.76 41.08h0.52V44.5h-0.52ZM376.57 40.32h0.47V44.5h-0.47ZM377.36 41.85h0.43V44.5h-0.43ZM378.30 44.25h0.85V44.5h-0.85ZM379.54 42.92h0.50V44.5h-0.50ZM380.51 40.52h0.83V44.5h-0.83ZM381.76 42.53h0.76V44.5h-0.76ZM383.07 38.27h0.54V44.5h-0.54ZM384.06 37.07h0.88V44.5h-0.88ZM384.99 40.65h0.52V44.5h-0.52ZM386.38 37.81h0.44V44.5h-0.44ZM387.10 42.70h0.54V44.5h-0.54ZM388.16 41.19h0.71V44.5h-0.71ZM389.15 37.12h0.57V44.5h-0.57ZM390.61 37.74h0.75V44.5h-0.75ZM391.47 41.15h0.78V44.5h-0.78ZM392.77 38.21h0.76V44.5h-0.76ZM394.13 38.14h0.46V44.5h-0.46ZM395.43 39.58h0.80V44.5h-0.80ZM396.44 39.51h0.75V44.5h-0.75ZM397.49 38.06h0.90V44.5h-0.90ZM398.95 44.48h0.84V44.5h-0.84ZM399.84 40.63h0.46V44.5h-0.46ZM400.68 41.61h0.86V44.5h-0.86ZM402.05 41.08h0.62V44.5h-0.62ZM403.52 38.93h0.42V44.5h-0.42ZM404.90 43.07h0.67V44.5h-0.67ZM406.40 41.89h0.77V44.5h-0.77ZM407.70 38.87h0.64V44.5h-0.64ZM408.66 41.29h0.86V44.5h-0.86ZM409.38 44.46h0.70V44.5h-0.70ZM410.59 40.77h0.62V44.5h-0.62ZM411.79 41.01h0.69V44.5h-0.69ZM413.21 43.07h0.84V44.5h-0.84ZM414.49 38.68h0.75V44.5h-0.75ZM415.59 38.75h0.50V44.5h-0.50ZM417.05 43.29h0.48V44.5h-0.48ZM418.41 36.91h0.57V44.5h-0.57ZM419.25 42.58h0.70V44.5h-0.70ZM420.24 38.37h0.68V44.5h-0.68Z" fill="#000"/>
<g shape-rendering="crispEdges">
<rect x="7" y="55" width="33" height="8" fill="#7fdcf8"/>
<rect x="40" y="55" width="82" height="8" fill="#fd8230"/>
<rect x="122" y="55" width="1.5" height="8" fill="#a08890"/>
<rect x="123.5" y="55" width="3" height="8" fill="#fd8230"/>
<rect x="126.5" y="55" width="21.5" height="8" fill="#ffa8aa"/>
<rect x="148" y="55" width="1" height="8" fill="#c09098"/>
<rect x="149" y="55" width="9" height="8" fill="#ffa8aa"/>
<rect x="158" y="55" width="10" height="8" fill="#df7cf5"/>
<rect x="168" y="55" width="3" height="8" fill="#ffc820"/>
<rect x="171" y="55" width="2.5" height="8" fill="#f8a040"/>
<rect x="173.5" y="55" width="2" height="8" fill="#a090c8"/>
<rect x="175.5" y="55" width="23.5" height="8" fill="#df7cf5"/>
<rect x="199" y="55" width="7" height="8" fill="#a0562a"/>
<rect x="206" y="55" width="12" height="8" fill="#df7cf5"/>
<rect x="218" y="55" width="1" height="8" fill="#c070b0"/>
<rect x="219" y="55" width="9" height="8" fill="#df7cf5"/>
<rect x="228" y="55" width="1" height="8" fill="#c070b0"/>
<rect x="229" y="55" width="3" height="8" fill="#a0562a"/>
<rect x="232" y="55" width="14" height="8" fill="#df7cf5"/>
<rect x="246" y="55" width="1.5" height="8" fill="#ffc820"/>
<rect x="247.5" y="55" width="1.5" height="8" fill="#df7cf5"/>
<rect x="249" y="55" width="1" height="8" fill="#f89040"/>
<rect x="250" y="55" width="2" height="8" fill="#c0a8f0"/>
<rect x="252" y="55" width="2" height="8" fill="#1060f0"/>
<rect x="254" y="55" width="2" height="8" fill="#b0b0e0"/>
<rect x="256" y="55" width="1" height="8" fill="#ffc820"/>
<rect x="257" y="55" width="2" height="8" fill="#a0562a"/>
<rect x="259" y="55" width="3.3" height="8" fill="#ffc820"/>
<rect x="262.3" y="55" width="1.2" height="8" fill="#909090"/>
<rect x="263.5" y="55" width="49" height="8" fill="#ffc820"/>
<rect x="312.5" y="55" width="6.25" height="8" fill="#36bc98"/>
<rect x="318.75" y="55" width="5.75" height="8" fill="#80a8ff"/>
<rect x="324.5" y="55" width="1.5" height="8" fill="#8ca080"/>
<rect x="326" y="55" width="1.5" height="8" fill="#60a040"/>
<rect x="327.5" y="55" width="2.5" height="8" fill="#b090f0"/>
<rect x="330" y="55" width="1.5" height="8" fill="#a0a8f8"/>
<rect x="331.5" y="55" width="4.5" height="8" fill="#2070f0"/>
<rect x="336" y="55" width="1" height="8" fill="#f0a0c0"/>
<rect x="337" y="55" width="10.5" height="8" fill="#1060f8"/>
<rect x="347.5" y="55" width="1" height="8" fill="#c0a060"/>
<rect x="348.5" y="55" width="6.5" height="8" fill="#9a9a9a"/>
<rect x="355" y="55" width="1" height="8" fill="#c0a060"/>
<rect x="356" y="55" width="1" height="8" fill="#409030"/>
<rect x="357" y="55" width="2" height="8" fill="#a0a0a0"/>
<rect x="359" y="55" width="4" height="8" fill="#d8a018"/>
<rect x="363" y="55" width="2" height="8" fill="#7090b0"/>
<rect x="365" y="55" width="2" height="8" fill="#40a070"/>
<rect x="367" y="55" width="28.6" height="8" fill="#58982e"/>
<rect x="395.6" y="55" width="9.8" height="8" fill="#70c83c"/>
<rect x="405.4" y="55" width="15.6" height="8" fill="#84dccc"/>
</g>
<g shape-rendering="crispEdges">
<rect x="7" y="63" width="33" height="5.4" fill="#bed6ed"/>
<rect x="7" y="68.4" width="33" height="8.3" fill="#fff6cc"/>
<rect x="7" y="76.7" width="33" height="4.3" fill="#c9dced"/>
<rect x="7" y="81" width="33" height="3" fill="#fff6c3"/>
<rect x="7" y="84" width="33" height="5" fill="#ffd299"/>
<rect x="7" y="89" width="33" height="3.5" fill="#fc975f"/>
<rect x="7" y="92.5" width="33" height="2.5" fill="#fff0ce"/>
<rect x="7" y="95" width="33" height="7.7" fill="#dce6eb"/>
<rect x="7" y="102.7" width="33" height="2.9" fill="#fff9ce"/>
<rect x="7" y="105.6" width="33" height="1.4" fill="#99c0e3"/>
<rect x="7" y="107" width="33" height="5" fill="#c1dcf5"/>
<rect x="7" y="112" width="33" height="12" fill="#9cc3e5"/>
<rect x="7" y="124" width="33" height="5" fill="#c4d8e4"/>
<rect x="7" y="129" width="33" height="16" fill="#9bc3e6"/>
<rect x="7" y="145" width="33" height="5" fill="#ccdceb"/>
<rect x="7" y="150" width="33" height="5" fill="#ccdbe4"/>
<rect x="7" y="155" width="33" height="5" fill="#bdd5eb"/>
<rect x="7" y="160" width="33" height="13" fill="#c2d7eb"/>
<rect x="7" y="173" width="33" height="21" fill="#9cc4e7"/>
<rect x="7" y="194" width="33" height="9" fill="#adc9e5"/>
<rect x="7" y="203" width="33" height="5" fill="#c5d9ea"/>
<rect x="7" y="208" width="33" height="9" fill="#e3ecdc"/>
<rect x="7" y="217" width="33" height="12" fill="#cfdfe5"/>
<rect x="7" y="229" width="33" height="6" fill="#ffeabd"/>
<rect x="7" y="235" width="33" height="17" fill="#e4edde"/>
<rect x="7" y="252" width="33" height="7" fill="#b1cdea"/>
<rect x="7" y="259" width="33" height="6" fill="#e7eddb"/>
<rect x="7" y="265" width="33" height="8" fill="#ffdd9e"/>
<rect x="7" y="273" width="33" height="9.7" fill="#fecd8c"/>
<rect x="7" y="282.7" width="33" height="7.7" fill="#f5f5df"/>
<rect x="7" y="290.4" width="33" height="5.6" fill="#bed6ed"/>
<rect x="7" y="296" width="33" height="4" fill="#f4f4df"/>
<rect x="7" y="300" width="33" height="7.7" fill="#f6b476"/>
<rect x="7" y="307.7" width="33" height="5.8" fill="#fff1c1"/>
<rect x="7" y="313.5" width="33" height="11.5" fill="#a5c7e7"/>
<rect x="7" y="325" width="33" height="5.8" fill="#e6f3fd"/>
<rect x="7" y="330.8" width="33" height="12.2" fill="#a3c3e4"/>
<rect x="40" y="63" width="86" height="1.2" fill="#fff6d8"/>
<rect x="40" y="64.2" width="86" height="5.8" fill="#ffd8a2"/>
<rect x="40" y="70" width="86" height="1.3" fill="#fee3b3"/>
<rect x="40" y="71.3" width="86" height="5.4" fill="#ffdfa3"/>
<rect x="40" y="76.7" width="86" height="4.3" fill="#ffebb8"/>
<rect x="40" y="81" width="86" height="5.8" fill="#ff9f6f"/>
<rect x="40" y="86.8" width="86" height="2.2" fill="#ffae7d"/>
<rect x="40" y="89" width="86" height="5.3" fill="#ffeab8"/>
<rect x="40" y="94.3" width="86" height="11.1" fill="#ffb27d"/>
<rect x="40" y="105.4" width="86" height="2.6" fill="#b5d1ed"/>
<rect x="40" y="108" width="86" height="53.5" fill="#9ec6e9"/>
<rect x="40" y="161.5" width="86" height="23.5" fill="#ccdae4"/>
<rect x="40" y="185" width="86" height="18" fill="#9ec5e9"/>
<rect x="40" y="203" width="86" height="5" fill="#afcdea"/>
<rect x="40" y="208" width="86" height="28" fill="#94bbe3"/>
<rect x="40" y="236" width="86" height="21" fill="#c5e0f7"/>
<rect x="40" y="257" width="86" height="5.5" fill="#97c0e6"/>
<rect x="40" y="262.5" width="86" height="5" fill="#ffffec"/>
<rect x="40" y="267.5" width="86" height="5.5" fill="#bdd3e9"/>
<rect x="40" y="273" width="86" height="5.8" fill="#f3f8e5"/>
<rect x="40" y="278.8" width="86" height="11.6" fill="#d1e2ef"/>
<rect x="40" y="290.4" width="86" height="6.6" fill="#c8def1"/>
<rect x="40" y="297" width="86" height="3" fill="#fffad0"/>
<rect x="40" y="300" width="86" height="2" fill="#ffefbb"/>
<rect x="40" y="302" width="86" height="17" fill="#fff8c4"/>
<rect x="40" y="319" width="86" height="6" fill="#ffc88a"/>
<rect x="40" y="325" width="86" height="11.5" fill="#fff9c3"/>
<rect x="40" y="336.5" width="86" height="6.5" fill="#ffeaaa"/>
<rect x="126" y="63" width="32" height="5.7" fill="#fdfceb"/>
<rect x="126" y="68.7" width="32" height="2.8" fill="#fcf2ca"/>
<rect x="126" y="71.5" width="32" height="8.7" fill="#fff9d6"/>
<rect x="126" y="80.2" width="32" height="2.8" fill="#ffc291"/>
<rect x="126" y="83" width="32" height="4.1" fill="#fdc596"/>
<rect x="126" y="87.1" width="32" height="5.2" fill="#fff2c3"/>
<rect x="126" y="92.3" width="32" height="13.2" fill="#ffdbaa"/>
<rect x="126" y="105.5" width="32" height="30" fill="#a0c8ec"/>
<rect x="126" y="135.5" width="32" height="5" fill="#f7e7a1"/>
<rect x="126" y="140.5" width="32" height="7" fill="#bdd7ed"/>
<rect x="126" y="147.5" width="32" height="8" fill="#98c1e6"/>
<rect x="126" y="155.5" width="32" height="4.5" fill="#fee599"/>
<rect x="126" y="160" width="32" height="32" fill="#9ec6eb"/>
<rect x="126" y="192" width="32" height="3" fill="#e6ecd2"/>
<rect x="126" y="195" width="32" height="8" fill="#a8cff1"/>
<rect x="126" y="203" width="32" height="26" fill="#a4c5e8"/>
<rect x="126" y="229" width="32" height="6" fill="#d9e7ec"/>
<rect x="126" y="235" width="32" height="20" fill="#cee2f6"/>
<rect x="126" y="255" width="32" height="4.6" fill="#ffdc92"/>
<rect x="126" y="259.6" width="32" height="4.6" fill="#fcffef"/>
<rect x="126" y="264.2" width="32" height="2.3" fill="#ffb77f"/>
<rect x="126" y="266.5" width="32" height="13.9" fill="#e4ede8"/>
<rect x="126" y="280.4" width="32" height="4.6" fill="#ffe2a9"/>
<rect x="126" y="285" width="32" height="4.6" fill="#f2f2dc"/>
<rect x="126" y="289.6" width="32" height="3.4" fill="#ffefab"/>
<rect x="126" y="293" width="32" height="7" fill="#fff7c9"/>
<rect x="126" y="300" width="32" height="2.3" fill="#ffb177"/>
<rect x="126" y="302.3" width="32" height="4.7" fill="#fef3c4"/>
<rect x="126" y="307" width="32" height="3.4" fill="#fbc889"/>
<rect x="126" y="310.4" width="32" height="5.8" fill="#fff7c8"/>
<rect x="126" y="316.2" width="32" height="4.6" fill="#a5c5e6"/>
<rect x="126" y="320.8" width="32" height="3.5" fill="#ddeefd"/>
<rect x="126" y="324.3" width="32" height="18.7" fill="#afcded"/>
<rect x="158" y="63" width="88" height="2.2" fill="#ffffec"/>
<rect x="158" y="65.2" width="88" height="8.6" fill="#fff2bd"/>
<rect x="158" y="73.8" width="88" height="6.4" fill="#fff3bb"/>
<rect x="158" y="80.2" width="88" height="7.5" fill="#ffbc8c"/>
<rect x="158" y="87.7" width="88" height="6.3" fill="#fff3c5"/>
<rect x="158" y="94" width="88" height="5.8" fill="#ffc696"/>
<rect x="158" y="99.8" width="88" height="5.7" fill="#ffdbaa"/>
<rect x="158" y="105.5" width="88" height="2.5" fill="#b1cce9"/>
<rect x="158" y="108" width="88" height="10" fill="#c6ddf4"/>
<rect x="158" y="118" width="88" height="9.5" fill="#9dc4e7"/>
<rect x="158" y="127.5" width="88" height="8" fill="#ccd8de"/>
<rect x="158" y="135.5" width="88" height="67.5" fill="#9ec6e9"/>
<rect x="158" y="203" width="88" height="5" fill="#b5d1ec"/>
<rect x="158" y="208" width="88" height="25.5" fill="#93b9e1"/>
<rect x="158" y="233.5" width="88" height="28.5" fill="#c5e0f7"/>
<rect x="158" y="262" width="88" height="3.4" fill="#eef7f7"/>
<rect x="158" y="265.4" width="88" height="15" fill="#cbdff2"/>
<rect x="158" y="280.4" width="88" height="9.2" fill="#ecf3db"/>
<rect x="158" y="289.6" width="88" height="23.1" fill="#fffcd0"/>
<rect x="158" y="312.7" width="88" height="7" fill="#ffeaad"/>
<rect x="158" y="319.7" width="88" height="4.6" fill="#e6f3f5"/>
<rect x="158" y="324.3" width="88" height="18.7" fill="#b8d0ed"/>
<rect x="246" y="63" width="66" height="2.2" fill="#fffce6"/>
<rect x="246" y="65.2" width="66" height="10.9" fill="#fff7c7"/>
<rect x="246" y="76.1" width="66" height="4.1" fill="#ffedba"/>
<rect x="246" y="80.2" width="66" height="7.5" fill="#ffb889"/>
<rect x="246" y="87.7" width="66" height="6.9" fill="#fff9c7"/>
<rect x="246" y="94.6" width="66" height="5.8" fill="#ffc796"/>
<rect x="246" y="100.4" width="66" height="5.1" fill="#ffd9a4"/>
<rect x="246" y="105.5" width="66" height="18.5" fill="#bfd8f0"/>
<rect x="246" y="124" width="66" height="79" fill="#a0c7ea"/>
<rect x="246" y="203" width="66" height="5" fill="#b7d6f1"/>
<rect x="246" y="208" width="66" height="28" fill="#96bce3"/>
<rect x="246" y="236" width="66" height="25.7" fill="#b2cfed"/>
<rect x="246" y="261.7" width="66" height="2.9" fill="#f8fae8"/>
<rect x="246" y="264.6" width="66" height="5.8" fill="#deedfd"/>
<rect x="246" y="270.4" width="66" height="3.8" fill="#e4ece4"/>
<rect x="246" y="274.2" width="66" height="12.5" fill="#d9e8f4"/>
<rect x="246" y="286.7" width="66" height="3.9" fill="#faf3c6"/>
<rect x="246" y="290.6" width="66" height="2.9" fill="#ffffc5"/>
<rect x="246" y="293.5" width="66" height="11.5" fill="#fffecf"/>
<rect x="246" y="305" width="66" height="7.7" fill="#fff7c0"/>
<rect x="246" y="312.7" width="66" height="3.8" fill="#ffebb1"/>
<rect x="246" y="316.5" width="66" height="4.8" fill="#eef3e4"/>
<rect x="246" y="321.3" width="66" height="2.9" fill="#f4f6e8"/>
<rect x="246" y="324.2" width="66" height="18.8" fill="#b5d1ee"/>
<rect x="312" y="63" width="55" height="2.2" fill="#f1f6f1"/>
<rect x="312" y="65.2" width="55" height="10.9" fill="#fcfae4"/>
<rect x="312" y="76.1" width="55" height="4.1" fill="#fff1cf"/>
<rect x="312" y="80.2" width="55" height="7.5" fill="#ffc494"/>
<rect x="312" y="87.7" width="55" height="6.9" fill="#fff8c5"/>
<rect x="312" y="94.6" width="55" height="5.8" fill="#ffd29f"/>
<rect x="312" y="100.4" width="55" height="5.1" fill="#fff5cb"/>
<rect x="312" y="105.5" width="55" height="3.5" fill="#cfe2f6"/>
<rect x="312" y="109" width="55" height="18.5" fill="#b3d0e9"/>
<rect x="312" y="127.5" width="55" height="75.5" fill="#9fc6eb"/>
<rect x="312" y="203" width="55" height="5" fill="#cde1f5"/>
<rect x="312" y="208" width="55" height="25.5" fill="#a1c5e8"/>
<rect x="312" y="233.5" width="55" height="27.3" fill="#bdd8f2"/>
<rect x="312" y="260.8" width="55" height="5.7" fill="#fafce8"/>
<rect x="312" y="266.5" width="55" height="21.2" fill="#d0e1f2"/>
<rect x="312" y="287.7" width="55" height="11.5" fill="#fbfbe1"/>
<rect x="312" y="299.2" width="55" height="15.4" fill="#fff9c8"/>
<rect x="312" y="314.6" width="55" height="7.4" fill="#d5e4ed"/>
<rect x="312" y="322" width="55" height="21" fill="#acceef"/>
<rect x="367" y="63" width="54" height="3.9" fill="#dfe9f2"/>
<rect x="367" y="66.9" width="54" height="0.6" fill="#fbf0cc"/>
<rect x="367" y="67.5" width="54" height="1.7" fill="#edf9ff"/>
<rect x="367" y="69.2" width="54" height="6.9" fill="#fffccf"/>
<rect x="367" y="76.1" width="54" height="4.1" fill="#ebf0dd"/>
<rect x="367" y="80.2" width="54" height="2.8" fill="#fcaf81"/>
<rect x="367" y="83" width="54" height="9.3" fill="#ffcea0"/>
<rect x="367" y="92.3" width="54" height="4.6" fill="#ffffda"/>
<rect x="367" y="96.9" width="54" height="2.3" fill="#ffd6a2"/>
<rect x="367" y="99.2" width="54" height="6.3" fill="#fffacf"/>
<rect x="367" y="105.5" width="54" height="3.5" fill="#96c0e5"/>
<rect x="367" y="109" width="54" height="18.5" fill="#b4cfe9"/>
<rect x="367" y="127.5" width="54" height="75.5" fill="#9fc6ea"/>
<rect x="367" y="203" width="54" height="5" fill="#c6d9ec"/>
<rect x="367" y="208" width="54" height="25.5" fill="#a0c4e6"/>
<rect x="367" y="233.5" width="54" height="28.4" fill="#bdd8f1"/>
<rect x="367" y="261.9" width="54" height="3.5" fill="#fffcdb"/>
<rect x="367" y="265.4" width="54" height="8.6" fill="#dde9ec"/>
<rect x="367" y="274" width="54" height="3.5" fill="#ffffdf"/>
<rect x="367" y="277.5" width="54" height="12.1" fill="#d5e4f0"/>
<rect x="367" y="289.6" width="54" height="2.6" fill="#ffe6b3"/>
<rect x="367" y="292.2" width="54" height="4.3" fill="#fefee8"/>
<rect x="367" y="296.5" width="54" height="9.5" fill="#fff8c4"/>
<rect x="367" y="306" width="54" height="2.6" fill="#f9cf98"/>
<rect x="367" y="308.6" width="54" height="3.4" fill="#fff7c6"/>
<rect x="367" y="312" width="54" height="3.5" fill="#f1f3e2"/>
<rect x="367" y="315.5" width="54" height="27.5" fill="#b1cfee"/>
<rect x="367.4" y="121.5" width="8.2" height="1" fill="#f6cc94"/>
<rect x="385.3" y="121.5" width="8.2" height="1" fill="#f6cc94"/>
<rect x="393.5" y="121.5" width="2.5" height="1" fill="#f6cc94"/>
<rect x="363.0" y="124.5" width="12.5" height="1" fill="#f6cc94"/>
<rect x="380.1" y="124.5" width="7.3" height="1" fill="#f6cc94"/>
<rect x="387.4" y="124.5" width="8.6" height="1" fill="#f6cc94"/>
<rect x="363.0" y="125.5" width="11.6" height="2" fill="#f6cc94"/>
<rect x="374.6" y="125.5" width="6.0" height="2" fill="#f6cc94"/>
<rect x="380.5" y="125.5" width="13.1" height="2" fill="#f6cc94"/>
<rect x="393.7" y="125.5" width="2.3" height="2" fill="#f6cc94"/>
<rect x="405.0" y="144" width="8.4" height="1" fill="#f6e0a8"/>
<rect x="413.4" y="144" width="7.6" height="1" fill="#f6e0a8"/>
<rect x="405.0" y="145" width="12.2" height="1" fill="#f6e0a8"/>
<rect x="417.2" y="145" width="3.8" height="1" fill="#f6e0a8"/>
<rect x="405.0" y="154" width="10.9" height="2" fill="#f6e0a8"/>
<rect x="415.9" y="154" width="5.1" height="2" fill="#f6e0a8"/>
<rect x="405.0" y="156" width="8.3" height="1" fill="#f6e0a8"/>
<rect x="413.3" y="156" width="7.7" height="1" fill="#f6e0a8"/>
<rect x="360.0" y="108" width="4.7" height="1" fill="#ece6c8"/>
<rect x="376.1" y="108" width="3.5" height="1" fill="#ece6c8"/>
<rect x="379.6" y="108" width="3.5" height="1" fill="#ece6c8"/>
<rect x="389.7" y="108" width="13.8" height="1" fill="#ece6c8"/>
<rect x="403.5" y="108" width="14.0" height="1" fill="#ece6c8"/>
<rect x="417.5" y="108" width="3.5" height="1" fill="#ece6c8"/>
<rect x="360.0" y="110" width="5.9" height="1" fill="#ece6c8"/>
<rect x="365.9" y="110" width="13.8" height="1" fill="#ece6c8"/>
<rect x="379.7" y="110" width="7.0" height="1" fill="#ece6c8"/>
<rect x="386.6" y="110" width="12.5" height="1" fill="#ece6c8"/>
<rect x="399.1" y="110" width="12.6" height="1" fill="#ece6c8"/>
<rect x="411.7" y="110" width="9.3" height="1" fill="#ece6c8"/>
<rect x="405.0" y="116" width="10.0" height="2" fill="#f4e2a8"/>
<rect x="415.0" y="116" width="6.0" height="2" fill="#f4e2a8"/>
<rect x="405.0" y="118" width="9.0" height="1" fill="#f4e2a8"/>
<rect x="414.0" y="118" width="7.0" height="1" fill="#f4e2a8"/>
<rect x="405.0" y="119" width="9.5" height="1" fill="#f4e2a8"/>
<rect x="414.5" y="119" width="6.5" height="1" fill="#f4e2a8"/>
<rect x="158.0" y="127.5" width="6.9" height="1" fill="#f2e4b0"/>
<rect x="164.9" y="127.5" width="11.1" height="1" fill="#f2e4b0"/>
<rect x="176.0" y="127.5" width="3.7" height="1" fill="#f2e4b0"/>
<rect x="179.7" y="127.5" width="13.6" height="1" fill="#f2e4b0"/>
<rect x="193.3" y="127.5" width="8.0" height="1" fill="#f2e4b0"/>
<rect x="201.3" y="127.5" width="6.5" height="1" fill="#f2e4b0"/>
<rect x="207.8" y="127.5" width="6.4" height="1" fill="#f2e4b0"/>
<rect x="214.2" y="127.5" width="9.6" height="1" fill="#f2e4b0"/>
<rect x="223.8" y="127.5" width="7.1" height="1" fill="#f2e4b0"/>
<rect x="230.9" y="127.5" width="3.3" height="1" fill="#f2e4b0"/>
<rect x="234.2" y="127.5" width="11.1" height="1" fill="#f2e4b0"/>
<rect x="245.3" y="127.5" width="0.7" height="1" fill="#f2e4b0"/>
<rect x="158.0" y="128.5" width="10.5" height="1" fill="#f2e4b0"/>
<rect x="168.5" y="128.5" width="4.1" height="1" fill="#f2e4b0"/>
<rect x="172.5" y="128.5" width="13.4" height="1" fill="#f2e4b0"/>
<rect x="186.0" y="128.5" width="5.5" height="1" fill="#f2e4b0"/>
<rect x="191.4" y="128.5" width="13.6" height="1" fill="#f2e4b0"/>
<rect x="205.0" y="128.5" width="11.2" height="1" fill="#f2e4b0"/>
<rect x="216.2" y="128.5" width="9.3" height="1" fill="#f2e4b0"/>
<rect x="225.4" y="128.5" width="11.7" height="1" fill="#f2e4b0"/>
<rect x="237.1" y="128.5" width="8.9" height="1" fill="#f2e4b0"/>
<rect x="158.0" y="129.5" width="6.1" height="2" fill="#f2e4b0"/>
<rect x="164.1" y="129.5" width="10.1" height="2" fill="#f2e4b0"/>
<rect x="174.1" y="129.5" width="6.8" height="2" fill="#f2e4b0"/>
<rect x="180.9" y="129.5" width="6.2" height="2" fill="#f2e4b0"/>
<rect x="187.1" y="129.5" width="6.0" height="2" fill="#f2e4b0"/>
<rect x="193.1" y="129.5" width="7.6" height="2" fill="#f2e4b0"/>
<rect x="208.2" y="129.5" width="4.7" height="2" fill="#f2e4b0"/>
<rect x="226.3" y="129.5" width="13.9" height="2" fill="#f2e4b0"/>
<rect x="158.0" y="131.5" width="8.0" height="1" fill="#f2e4b0"/>
<rect x="198.7" y="131.5" width="13.7" height="1" fill="#f2e4b0"/>
<rect x="212.4" y="131.5" width="5.7" height="1" fill="#f2e4b0"/>
<rect x="218.1" y="131.5" width="11.8" height="1" fill="#f2e4b0"/>
<rect x="235.1" y="131.5" width="7.7" height="1" fill="#f2e4b0"/>
<rect x="242.8" y="131.5" width="3.2" height="1" fill="#f2e4b0"/>
<rect x="158.0" y="132.5" width="10.3" height="2" fill="#f2e4b0"/>
<rect x="175.8" y="132.5" width="9.7" height="2" fill="#f2e4b0"/>
<rect x="191.4" y="132.5" width="8.2" height="2" fill="#f2e4b0"/>
<rect x="199.6" y="132.5" width="6.9" height="2" fill="#f2e4b0"/>
<rect x="206.5" y="132.5" width="8.9" height="2" fill="#f2e4b0"/>
<rect x="215.4" y="132.5" width="4.9" height="2" fill="#f2e4b0"/>
<rect x="220.2" y="132.5" width="13.1" height="2" fill="#f2e4b0"/>
<rect x="233.4" y="132.5" width="12.1" height="2" fill="#f2e4b0"/>
<rect x="40.0" y="161.5" width="8.8" height="1" fill="#f4eabc"/>
<rect x="48.8" y="161.5" width="8.2" height="1" fill="#f4eabc"/>
<rect x="57.0" y="161.5" width="3.0" height="1" fill="#f4eabc"/>
<rect x="60.0" y="161.5" width="4.4" height="1" fill="#f4eabc"/>
<rect x="68.2" y="161.5" width="12.4" height="1" fill="#f4eabc"/>
<rect x="80.6" y="161.5" width="8.5" height="1" fill="#f4eabc"/>
<rect x="89.1" y="161.5" width="6.5" height="1" fill="#f4eabc"/>
<rect x="95.6" y="161.5" width="10.1" height="1" fill="#f4eabc"/>
<rect x="105.7" y="161.5" width="7.0" height="1" fill="#f4eabc"/>
<rect x="112.6" y="161.5" width="6.6" height="1" fill="#f4eabc"/>
<rect x="119.3" y="161.5" width="6.7" height="1" fill="#f4eabc"/>
<rect x="40.0" y="163.5" width="7.1" height="2" fill="#f4eabc"/>
<rect x="47.1" y="163.5" width="11.6" height="2" fill="#f4eabc"/>
<rect x="58.7" y="163.5" width="11.8" height="2" fill="#f4eabc"/>
<rect x="70.5" y="163.5" width="7.7" height="2" fill="#f4eabc"/>
<rect x="78.3" y="163.5" width="8.5" height="2" fill="#f4eabc"/>
<rect x="86.7" y="163.5" width="7.6" height="2" fill="#f4eabc"/>
<rect x="94.4" y="163.5" width="8.1" height="2" fill="#f4eabc"/>
<rect x="102.4" y="163.5" width="8.9" height="2" fill="#f4eabc"/>
<rect x="111.3" y="163.5" width="3.8" height="2" fill="#f4eabc"/>
<rect x="122.8" y="163.5" width="3.2" height="2" fill="#f4eabc"/>
<rect x="50.6" y="167.5" width="11.0" height="1" fill="#f4eabc"/>
<rect x="61.6" y="167.5" width="8.8" height="1" fill="#f4eabc"/>
<rect x="70.5" y="167.5" width="4.2" height="1" fill="#f4eabc"/>
<rect x="74.7" y="167.5" width="8.9" height="1" fill="#f4eabc"/>
<rect x="83.5" y="167.5" width="10.9" height="1" fill="#f4eabc"/>
<rect x="94.4" y="167.5" width="5.6" height="1" fill="#f4eabc"/>
<rect x="100.0" y="167.5" width="8.8" height="1" fill="#f4eabc"/>
<rect x="108.8" y="167.5" width="10.3" height="1" fill="#f4eabc"/>
<rect x="119.1" y="167.5" width="6.9" height="1" fill="#f4eabc"/>
<rect x="40.0" y="168.5" width="4.3" height="1" fill="#f4eabc"/>
<rect x="44.3" y="168.5" width="10.7" height="1" fill="#f4eabc"/>
<rect x="54.9" y="168.5" width="6.3" height="1" fill="#f4eabc"/>
<rect x="61.2" y="168.5" width="14.0" height="1" fill="#f4eabc"/>
<rect x="75.2" y="168.5" width="8.8" height="1" fill="#f4eabc"/>
<rect x="84.0" y="168.5" width="9.1" height="1" fill="#f4eabc"/>
<rect x="93.1" y="168.5" width="9.1" height="1" fill="#f4eabc"/>
<rect x="102.2" y="168.5" width="12.6" height="1" fill="#f4eabc"/>
<rect x="118.6" y="168.5" width="7.4" height="1" fill="#f4eabc"/>
<rect x="58.7" y="171.5" width="7.1" height="1" fill="#f4eabc"/>
<rect x="65.8" y="171.5" width="13.2" height="1" fill="#f4eabc"/>
<rect x="79.1" y="171.5" width="13.6" height="1" fill="#f4eabc"/>
<rect x="92.7" y="171.5" width="9.3" height="1" fill="#f4eabc"/>
<rect x="102.0" y="171.5" width="13.2" height="1" fill="#f4eabc"/>
<rect x="115.1" y="171.5" width="4.7" height="1" fill="#f4eabc"/>
<rect x="119.8" y="171.5" width="6.2" height="1" fill="#f4eabc"/>
<rect x="40.0" y="173.5" width="7.9" height="2" fill="#f4eabc"/>
<rect x="47.9" y="173.5" width="5.0" height="2" fill="#f4eabc"/>
<rect x="52.9" y="173.5" width="5.2" height="2" fill="#f4eabc"/>
<rect x="58.1" y="173.5" width="6.5" height="2" fill="#f4eabc"/>
<rect x="75.2" y="173.5" width="6.3" height="2" fill="#f4eabc"/>
<rect x="89.0" y="173.5" width="9.4" height="2" fill="#f4eabc"/>
<rect x="98.4" y="173.5" width="5.4" height="2" fill="#f4eabc"/>
<rect x="103.8" y="173.5" width="8.3" height="2" fill="#f4eabc"/>
<rect x="112.1" y="173.5" width="4.9" height="2" fill="#f4eabc"/>
<rect x="117.0" y="173.5" width="6.5" height="2" fill="#f4eabc"/>
<rect x="40.0" y="176.5" width="12.2" height="1" fill="#f4eabc"/>
<rect x="52.2" y="176.5" width="9.1" height="1" fill="#f4eabc"/>
<rect x="72.2" y="176.5" width="7.4" height="1" fill="#f4eabc"/>
<rect x="79.6" y="176.5" width="13.6" height="1" fill="#f4eabc"/>
<rect x="93.2" y="176.5" width="5.5" height="1" fill="#f4eabc"/>
<rect x="98.7" y="176.5" width="10.9" height="1" fill="#f4eabc"/>
<rect x="123.2" y="176.5" width="2.8" height="1" fill="#f4eabc"/>
<rect x="40.0" y="177.5" width="9.8" height="1" fill="#f4eabc"/>
<rect x="53.2" y="177.5" width="4.9" height="1" fill="#f4eabc"/>
<rect x="58.1" y="177.5" width="5.0" height="1" fill="#f4eabc"/>
<rect x="63.1" y="177.5" width="11.8" height="1" fill="#f4eabc"/>
<rect x="80.8" y="177.5" width="3.4" height="1" fill="#f4eabc"/>
<rect x="84.2" y="177.5" width="11.1" height="1" fill="#f4eabc"/>
<rect x="95.3" y="177.5" width="3.3" height="1" fill="#f4eabc"/>
<rect x="98.6" y="177.5" width="7.2" height="1" fill="#f4eabc"/>
<rect x="105.8" y="177.5" width="10.1" height="1" fill="#f4eabc"/>
<rect x="115.9" y="177.5" width="8.4" height="1" fill="#f4eabc"/>
<rect x="40.0" y="179.5" width="8.8" height="1" fill="#f4eabc"/>
<rect x="48.8" y="179.5" width="8.8" height="1" fill="#f4eabc"/>
<rect x="57.6" y="179.5" width="10.5" height="1" fill="#f4eabc"/>
<rect x="68.1" y="179.5" width="8.0" height="1" fill="#f4eabc"/>
<rect x="86.4" y="179.5" width="12.0" height="1" fill="#f4eabc"/>
<rect x="98.4" y="179.5" width="13.4" height="1" fill="#f4eabc"/>
<rect x="111.8" y="179.5" width="9.2" height="1" fill="#f4eabc"/>
<rect x="121.0" y="179.5" width="5.0" height="1" fill="#f4eabc"/>
<rect x="40.0" y="183.5" width="10.1" height="1.5" fill="#f4eabc"/>
<rect x="55.1" y="183.5" width="10.2" height="1.5" fill="#f4eabc"/>
<rect x="65.3" y="183.5" width="13.3" height="1.5" fill="#f4eabc"/>
<rect x="78.5" y="183.5" width="6.6" height="1.5" fill="#f4eabc"/>
<rect x="85.2" y="183.5" width="9.6" height="1.5" fill="#f4eabc"/>
<rect x="94.8" y="183.5" width="10.1" height="1.5" fill="#f4eabc"/>
<rect x="104.9" y="183.5" width="6.4" height="1.5" fill="#f4eabc"/>
<rect x="111.3" y="183.5" width="3.8" height="1.5" fill="#f4eabc"/>
<rect x="115.1" y="183.5" width="10.9" height="1.5" fill="#f4eabc"/>
<rect x="363.0" y="195" width="4.1" height="2" fill="#f4e2a0"/>
<rect x="367.1" y="195" width="3.6" height="2" fill="#f4e2a0"/>
<rect x="370.7" y="195" width="8.3" height="2" fill="#f4e2a0"/>
<rect x="379.0" y="195" width="10.6" height="2" fill="#f4e2a0"/>
<rect x="363.0" y="197" width="11.5" height="1" fill="#f4e2a0"/>
<rect x="374.5" y="197" width="12.3" height="1" fill="#f4e2a0"/>
<rect x="386.8" y="197" width="6.0" height="1" fill="#f4e2a0"/>
<rect x="392.8" y="197" width="2.2" height="1" fill="#f4e2a0"/>
<rect x="363.0" y="198" width="10.7" height="2" fill="#f4e2a0"/>
<rect x="373.7" y="198" width="10.4" height="2" fill="#f4e2a0"/>
<rect x="384.1" y="198" width="10.9" height="2" fill="#f4e2a0"/>
<rect x="396.0" y="184.5" width="7.4" height="2" fill="#f4e0a0"/>
<rect x="403.4" y="184.5" width="3.6" height="2" fill="#f4e0a0"/>
<rect x="365.0" y="237" width="12.0" height="0.5" fill="#f4c890"/>
<rect x="12.0" y="127" width="9.6" height="1" fill="#f2e4a8"/>
<rect x="21.6" y="127" width="3.0" height="1" fill="#f2e4a8"/>
<rect x="24.6" y="127" width="10.3" height="1" fill="#f2e4a8"/>
<rect x="34.9" y="127" width="0.1" height="1" fill="#f2e4a8"/>
<rect x="10.0" y="197" width="8.5" height="1" fill="#f2e4a8"/>
<rect x="18.5" y="197" width="7.9" height="1" fill="#f2e4a8"/>
<rect x="14.0" y="198" width="3.3" height="1" fill="#f2e4a8"/>
<rect x="17.3" y="198" width="8.6" height="1" fill="#f2e4a8"/>
<rect x="25.8" y="198" width="3.2" height="1" fill="#f2e4a8"/>
<rect x="29.0" y="198" width="6.6" height="1" fill="#f2e4a8"/>
<rect x="35.6" y="198" width="2.4" height="1" fill="#f2e4a8"/>
</g>
<g shape-rendering="crispEdges">
<path fill="#fff" fill-opacity="0.07" d="M7 88h33v1h-33zM7 89h33v1h-33zM7 106h33v1h-33zM7 118h33v1h-33zM7 121h33v1h-33zM7 123h33v1h-33zM7 135h33v1h-33zM7 142h33v1h-33zM7 148h33v1h-33zM7 153h33v1h-33zM7 160h33v1h-33zM7 179h33v1h-33zM7 185h33v1h-33zM7 199h33v1h-33zM7 200h33v1h-33zM7 205h33v1h-33zM7 206h33v1h-33zM7 229h33v1h-33zM7 253h33v1h-33zM7 270h33v1h-33zM7 276h33v1h-33zM7 284h33v1h-33zM7 289h33v1h-33zM7 313h33v1h-33zM7 319h33v1h-33zM7 320h33v1h-33zM7 331h33v1h-33zM40 89h86v1h-86zM40 100h86v1h-86zM40 109h86v1h-86zM40 130h86v1h-86zM40 138h86v1h-86zM40 160h86v1h-86zM40 182h86v1h-86zM40 206h86v1h-86zM40 216h86v1h-86zM40 236h86v1h-86zM40 260h86v1h-86zM40 283h86v1h-86zM40 288h86v1h-86zM40 289h86v1h-86zM40 291h86v1h-86zM40 304h86v1h-86zM40 316h86v1h-86zM126 89h32v1h-32zM126 90h32v1h-32zM126 101h32v1h-32zM126 106h32v1h-32zM126 127h32v1h-32zM126 128h32v1h-32zM126 130h32v1h-32zM126 137h32v1h-32zM126 142h32v1h-32zM126 148h32v1h-32zM126 149h32v1h-32zM126 154h32v1h-32zM126 165h32v1h-32zM126 174h32v1h-32zM126 204h32v1h-32zM126 205h32v1h-32zM126 251h32v1h-32zM126 271h32v1h-32zM126 283h32v1h-32zM126 287h32v1h-32zM126 297h32v1h-32zM126 298h32v1h-32zM126 301h32v1h-32zM126 302h32v1h-32zM126 304h32v1h-32zM126 305h32v1h-32zM126 313h32v1h-32zM126 320h32v1h-32zM126 332h32v1h-32zM126 333h32v1h-32zM158 69h88v1h-88zM158 70h88v1h-88zM158 80h88v1h-88zM158 86h88v1h-88zM158 117h88v1h-88zM158 129h88v1h-88zM158 141h88v1h-88zM158 155h88v1h-88zM158 159h88v1h-88zM158 175h88v1h-88zM158 185h88v1h-88zM158 218h88v1h-88zM158 241h88v1h-88zM158 250h88v1h-88zM158 281h88v1h-88zM158 289h88v1h-88zM158 303h88v1h-88zM158 306h88v1h-88zM158 307h88v1h-88zM158 314h88v1h-88zM158 325h88v1h-88zM158 332h88v1h-88zM246 64h66v1h-66zM246 70h66v1h-66zM246 90h66v1h-66zM246 98h66v1h-66zM246 109h66v1h-66zM246 113h66v1h-66zM246 115h66v1h-66zM246 119h66v1h-66zM246 137h66v1h-66zM246 138h66v1h-66zM246 147h66v1h-66zM246 161h66v1h-66zM246 169h66v1h-66zM246 174h66v1h-66zM246 177h66v1h-66zM246 182h66v1h-66zM246 184h66v1h-66zM246 185h66v1h-66zM246 201h66v1h-66zM246 233h66v1h-66zM246 260h66v1h-66zM246 288h66v1h-66zM246 325h66v1h-66zM312 69h55v1h-55zM312 76h55v1h-55zM312 86h55v1h-55zM312 96h55v1h-55zM312 101h55v1h-55zM312 106h55v1h-55zM312 109h55v1h-55zM312 113h55v1h-55zM312 121h55v1h-55zM312 134h55v1h-55zM312 137h55v1h-55zM312 138h55v1h-55zM312 140h55v1h-55zM312 149h55v1h-55zM312 158h55v1h-55zM312 173h55v1h-55zM312 174h55v1h-55zM312 179h55v1h-55zM312 184h55v1h-55zM312 185h55v1h-55zM312 199h55v1h-55zM312 202h55v1h-55zM312 213h55v1h-55zM312 215h55v1h-55zM312 224h55v1h-55zM312 227h55v1h-55zM312 228h55v1h-55zM312 233h55v1h-55zM312 240h55v1h-55zM312 248h55v1h-55zM312 250h55v1h-55zM312 256h55v1h-55zM312 259h55v1h-55zM312 268h55v1h-55zM312 270h55v1h-55zM312 289h55v1h-55zM312 306h55v1h-55zM312 333h55v1h-55zM312 335h55v1h-55zM312 342h55v1h-55zM367 69h54v1h-54zM367 73h54v1h-54zM367 96h54v1h-54zM367 104h54v1h-54zM367 127h54v1h-54zM367 138h54v1h-54zM367 154h54v1h-54zM367 182h54v1h-54zM367 193h54v1h-54zM367 204h54v1h-54zM367 213h54v1h-54zM367 228h54v1h-54zM367 229h54v1h-54zM367 241h54v1h-54zM367 248h54v1h-54zM367 287h54v1h-54zM367 294h54v1h-54zM367 314h54v1h-54zM367 317h54v1h-54zM367 320h54v1h-54zM367 325h54v1h-54z"/>
<path fill="#fff" fill-opacity="0.13" d="M7 73h33v1h-33zM7 76h33v1h-33zM7 84h33v1h-33zM7 85h33v1h-33zM7 90h33v1h-33zM7 101h33v1h-33zM7 104h33v1h-33zM7 109h33v1h-33zM7 113h33v1h-33zM7 115h33v1h-33zM7 117h33v1h-33zM7 119h33v1h-33zM7 124h33v1h-33zM7 127h33v1h-33zM7 128h33v1h-33zM7 129h33v1h-33zM7 136h33v1h-33zM7 138h33v1h-33zM7 140h33v1h-33zM7 147h33v1h-33zM7 149h33v1h-33zM7 158h33v1h-33zM7 159h33v1h-33zM7 162h33v1h-33zM7 164h33v1h-33zM7 165h33v1h-33zM7 169h33v1h-33zM7 170h33v1h-33zM7 174h33v1h-33zM7 182h33v1h-33zM7 186h33v1h-33zM7 191h33v1h-33zM7 192h33v1h-33zM7 194h33v1h-33zM7 196h33v1h-33zM7 201h33v1h-33zM7 211h33v1h-33zM7 217h33v1h-33zM7 221h33v1h-33zM7 227h33v1h-33zM7 228h33v1h-33zM7 236h33v1h-33zM7 237h33v1h-33zM7 240h33v1h-33zM7 241h33v1h-33zM7 247h33v1h-33zM7 257h33v1h-33zM7 259h33v1h-33zM7 273h33v1h-33zM7 279h33v1h-33zM7 280h33v1h-33zM7 283h33v1h-33zM7 303h33v1h-33zM7 306h33v1h-33zM7 325h33v1h-33zM7 336h33v1h-33zM40 70h86v1h-86zM40 75h86v1h-86zM40 77h86v1h-86zM40 88h86v1h-86zM40 101h86v1h-86zM40 104h86v1h-86zM40 112h86v1h-86zM40 115h86v1h-86zM40 117h86v1h-86zM40 119h86v1h-86zM40 123h86v1h-86zM40 124h86v1h-86zM40 125h86v1h-86zM40 128h86v1h-86zM40 135h86v1h-86zM40 136h86v1h-86zM40 137h86v1h-86zM40 140h86v1h-86zM40 143h86v1h-86zM40 154h86v1h-86zM40 159h86v1h-86zM40 164h86v1h-86zM40 165h86v1h-86zM40 170h86v1h-86zM40 171h86v1h-86zM40 175h86v1h-86zM40 177h86v1h-86zM40 179h86v1h-86zM40 191h86v1h-86zM40 193h86v1h-86zM40 199h86v1h-86zM40 201h86v1h-86zM40 205h86v1h-86zM40 210h86v1h-86zM40 215h86v1h-86zM40 218h86v1h-86zM40 222h86v1h-86zM40 233h86v1h-86zM40 247h86v1h-86zM40 248h86v1h-86zM40 258h86v1h-86zM40 272h86v1h-86zM40 273h86v1h-86zM40 276h86v1h-86zM40 281h86v1h-86zM40 312h86v1h-86zM40 317h86v1h-86zM40 319h86v1h-86zM40 325h86v1h-86zM40 331h86v1h-86zM40 336h86v1h-86zM126 64h32v1h-32zM126 65h32v1h-32zM126 74h32v1h-32zM126 92h32v1h-32zM126 109h32v1h-32zM126 113h32v1h-32zM126 115h32v1h-32zM126 117h32v1h-32zM126 123h32v1h-32zM126 125h32v1h-32zM126 131h32v1h-32zM126 135h32v1h-32zM126 139h32v1h-32zM126 140h32v1h-32zM126 147h32v1h-32zM126 153h32v1h-32zM126 159h32v1h-32zM126 166h32v1h-32zM126 169h32v1h-32zM126 178h32v1h-32zM126 179h32v1h-32zM126 182h32v1h-32zM126 191h32v1h-32zM126 192h32v1h-32zM126 201h32v1h-32zM126 206h32v1h-32zM126 211h32v1h-32zM126 221h32v1h-32zM126 241h32v1h-32zM126 248h32v1h-32zM126 249h32v1h-32zM126 256h32v1h-32zM126 257h32v1h-32zM126 258h32v1h-32zM126 272h32v1h-32zM126 273h32v1h-32zM126 276h32v1h-32zM126 278h32v1h-32zM126 279h32v1h-32zM126 288h32v1h-32zM126 303h32v1h-32zM126 306h32v1h-32zM126 312h32v1h-32zM126 331h32v1h-32zM126 337h32v1h-32zM126 342h32v1h-32zM158 65h88v1h-88zM158 73h88v1h-88zM158 74h88v1h-88zM158 76h88v1h-88zM158 101h88v1h-88zM158 104h88v1h-88zM158 106h88v1h-88zM158 111h88v1h-88zM158 113h88v1h-88zM158 119h88v1h-88zM158 121h88v1h-88zM158 127h88v1h-88zM158 128h88v1h-88zM158 135h88v1h-88zM158 137h88v1h-88zM158 138h88v1h-88zM158 139h88v1h-88zM158 140h88v1h-88zM158 148h88v1h-88zM158 154h88v1h-88zM158 160h88v1h-88zM158 162h88v1h-88zM158 163h88v1h-88zM158 164h88v1h-88zM158 165h88v1h-88zM158 174h88v1h-88zM158 177h88v1h-88zM158 179h88v1h-88zM158 182h88v1h-88zM158 186h88v1h-88zM158 191h88v1h-88zM158 193h88v1h-88zM158 194h88v1h-88zM158 206h88v1h-88zM158 221h88v1h-88zM158 228h88v1h-88zM158 236h88v1h-88zM158 237h88v1h-88zM158 240h88v1h-88zM158 247h88v1h-88zM158 248h88v1h-88zM158 256h88v1h-88zM158 257h88v1h-88zM158 258h88v1h-88zM158 268h88v1h-88zM158 273h88v1h-88zM158 276h88v1h-88zM158 278h88v1h-88zM158 287h88v1h-88zM158 288h88v1h-88zM158 298h88v1h-88zM158 313h88v1h-88zM158 319h88v1h-88zM158 336h88v1h-88zM158 342h88v1h-88zM246 74h66v1h-66zM246 75h66v1h-66zM246 89h66v1h-66zM246 92h66v1h-66zM246 101h66v1h-66zM246 123h66v1h-66zM246 136h66v1h-66zM246 141h66v1h-66zM246 142h66v1h-66zM246 148h66v1h-66zM246 149h66v1h-66zM246 154h66v1h-66zM246 158h66v1h-66zM246 162h66v1h-66zM246 165h66v1h-66zM246 171h66v1h-66zM246 179h66v1h-66zM246 186h66v1h-66zM246 191h66v1h-66zM246 202h66v1h-66zM246 203h66v1h-66zM246 206h66v1h-66zM246 216h66v1h-66zM246 236h66v1h-66zM246 237h66v1h-66zM246 240h66v1h-66zM246 258h66v1h-66zM246 259h66v1h-66zM246 268h66v1h-66zM246 271h66v1h-66zM246 276h66v1h-66zM246 278h66v1h-66zM246 281h66v1h-66zM246 283h66v1h-66zM246 289h66v1h-66zM246 297h66v1h-66zM246 302h66v1h-66zM246 303h66v1h-66zM246 312h66v1h-66zM246 313h66v1h-66zM246 331h66v1h-66zM246 342h66v1h-66zM312 64h55v1h-55zM312 90h55v1h-55zM312 92h55v1h-55zM312 117h55v1h-55zM312 119h55v1h-55zM312 120h55v1h-55zM312 124h55v1h-55zM312 125h55v1h-55zM312 130h55v1h-55zM312 139h55v1h-55zM312 148h55v1h-55zM312 152h55v1h-55zM312 154h55v1h-55zM312 162h55v1h-55zM312 164h55v1h-55zM312 181h55v1h-55zM312 186h55v1h-55zM312 193h55v1h-55zM312 201h55v1h-55zM312 217h55v1h-55zM312 221h55v1h-55zM312 222h55v1h-55zM312 236h55v1h-55zM312 241h55v1h-55zM312 247h55v1h-55zM312 257h55v1h-55zM312 271h55v1h-55zM312 276h55v1h-55zM312 278h55v1h-55zM312 280h55v1h-55zM312 287h55v1h-55zM312 288h55v1h-55zM312 294h55v1h-55zM312 330h55v1h-55zM312 331h55v1h-55zM312 336h55v1h-55zM367 65h54v1h-54zM367 70h54v1h-54zM367 75h54v1h-54zM367 76h54v1h-54zM367 92h54v1h-54zM367 106h54v1h-54zM367 107h54v1h-54zM367 109h54v1h-54zM367 113h54v1h-54zM367 123h54v1h-54zM367 125h54v1h-54zM367 128h54v1h-54zM367 131h54v1h-54zM367 139h54v1h-54zM367 142h54v1h-54zM367 147h54v1h-54zM367 148h54v1h-54zM367 153h54v1h-54zM367 159h54v1h-54zM367 160h54v1h-54zM367 162h54v1h-54zM367 169h54v1h-54zM367 171h54v1h-54zM367 179h54v1h-54zM367 184h54v1h-54zM367 192h54v1h-54zM367 202h54v1h-54zM367 206h54v1h-54zM367 210h54v1h-54zM367 212h54v1h-54zM367 236h54v1h-54zM367 237h54v1h-54zM367 240h54v1h-54zM367 253h54v1h-54zM367 270h54v1h-54zM367 271h54v1h-54zM367 273h54v1h-54zM367 278h54v1h-54zM367 281h54v1h-54zM367 283h54v1h-54zM367 288h54v1h-54zM367 303h54v1h-54zM367 306h54v1h-54zM367 319h54v1h-54zM367 327h54v1h-54zM367 331h54v1h-54zM367 336h54v1h-54zM367 342h54v1h-54z"/>
<path fill="#fff" fill-opacity="0.19" d="M7 65h33v1h-33zM7 75h33v1h-33zM7 125h33v1h-33zM7 137h33v1h-33zM7 143h33v1h-33zM7 146h33v1h-33zM7 152h33v1h-33zM7 171h33v1h-33zM7 183h33v1h-33zM7 188h33v1h-33zM7 210h33v1h-33zM7 233h33v1h-33zM7 249h33v1h-33zM7 278h33v1h-33zM7 302h33v1h-33zM7 312h33v1h-33zM7 317h33v1h-33zM7 342h33v1h-33zM40 65h86v1h-86zM40 111h86v1h-86zM40 113h86v1h-86zM40 162h86v1h-86zM40 178h86v1h-86zM40 186h86v1h-86zM40 188h86v1h-86zM40 192h86v1h-86zM40 211h86v1h-86zM40 221h86v1h-86zM40 227h86v1h-86zM40 237h86v1h-86zM40 241h86v1h-86zM40 249h86v1h-86zM40 256h86v1h-86zM40 257h86v1h-86zM40 259h86v1h-86zM40 270h86v1h-86zM40 278h86v1h-86zM40 280h86v1h-86zM40 302h86v1h-86zM40 342h86v1h-86zM126 70h32v1h-32zM126 75h32v1h-32zM126 83h32v1h-32zM126 111h32v1h-32zM126 119h32v1h-32zM126 136h32v1h-32zM126 138h32v1h-32zM126 143h32v1h-32zM126 158h32v1h-32zM126 162h32v1h-32zM126 170h32v1h-32zM126 177h32v1h-32zM126 183h32v1h-32zM126 184h32v1h-32zM126 186h32v1h-32zM126 188h32v1h-32zM126 193h32v1h-32zM126 210h32v1h-32zM126 227h32v1h-32zM126 236h32v1h-32zM126 237h32v1h-32zM126 247h32v1h-32zM126 270h32v1h-32zM126 294h32v1h-32zM126 336h32v1h-32zM158 75h88v1h-88zM158 79h88v1h-88zM158 115h88v1h-88zM158 120h88v1h-88zM158 125h88v1h-88zM158 136h88v1h-88zM158 143h88v1h-88zM158 146h88v1h-88zM158 152h88v1h-88zM158 192h88v1h-88zM158 201h88v1h-88zM158 210h88v1h-88zM158 211h88v1h-88zM158 217h88v1h-88zM158 227h88v1h-88zM158 249h88v1h-88zM158 259h88v1h-88zM158 280h88v1h-88zM158 302h88v1h-88zM158 331h88v1h-88zM246 76h66v1h-66zM246 104h66v1h-66zM246 111h66v1h-66zM246 117h66v1h-66zM246 125h66v1h-66zM246 139h66v1h-66zM246 143h66v1h-66zM246 151h66v1h-66zM246 152h66v1h-66zM246 178h66v1h-66zM246 188h66v1h-66zM246 210h66v1h-66zM246 211h66v1h-66zM246 227h66v1h-66zM246 247h66v1h-66zM246 257h66v1h-66zM246 270h66v1h-66zM246 272h66v1h-66zM246 280h66v1h-66zM246 298h66v1h-66zM312 65h55v1h-55zM312 70h55v1h-55zM312 75h55v1h-55zM312 115h55v1h-55zM312 143h55v1h-55zM312 146h55v1h-55zM312 151h55v1h-55zM312 159h55v1h-55zM312 165h55v1h-55zM312 192h55v1h-55zM312 194h55v1h-55zM312 206h55v1h-55zM312 210h55v1h-55zM312 237h55v1h-55zM312 258h55v1h-55zM312 302h55v1h-55zM312 312h55v1h-55zM312 325h55v1h-55zM367 88h54v1h-54zM367 111h54v1h-54zM367 119h54v1h-54zM367 136h54v1h-54zM367 143h54v1h-54zM367 151h54v1h-54zM367 152h54v1h-54zM367 165h54v1h-54zM367 178h54v1h-54zM367 186h54v1h-54zM367 188h54v1h-54zM367 199h54v1h-54zM367 211h54v1h-54zM367 221h54v1h-54zM367 227h54v1h-54zM367 247h54v1h-54zM367 257h54v1h-54zM367 259h54v1h-54zM367 289h54v1h-54zM367 298h54v1h-54zM367 312h54v1h-54z"/>
<path fill="#fff" fill-opacity="0.25" d="M7 79h33v1h-33zM7 111h33v1h-33zM7 151h33v1h-33zM7 178h33v1h-33zM40 79h86v1h-86zM40 146h86v1h-86zM40 152h86v1h-86zM40 217h86v1h-86zM40 298h86v1h-86zM126 79h32v1h-32zM126 146h32v1h-32zM126 151h32v1h-32zM126 152h32v1h-32zM126 171h32v1h-32zM126 217h32v1h-32zM126 259h32v1h-32zM126 289h32v1h-32zM158 99h88v1h-88zM158 151h88v1h-88zM158 178h88v1h-88zM158 183h88v1h-88zM158 188h88v1h-88zM158 312h88v1h-88zM246 146h66v1h-66zM246 183h66v1h-66zM246 192h66v1h-66zM246 217h66v1h-66zM246 249h66v1h-66zM312 79h55v1h-55zM312 89h55v1h-55zM312 99h55v1h-55zM312 111h55v1h-55zM312 136h55v1h-55zM312 171h55v1h-55zM312 178h55v1h-55zM312 183h55v1h-55zM312 211h55v1h-55zM312 249h55v1h-55zM367 79h54v1h-54zM367 99h54v1h-54zM367 146h54v1h-54zM367 183h54v1h-54zM367 217h54v1h-54zM367 249h54v1h-54zM367 302h54v1h-54z"/>
<path fill="#fff" fill-opacity="0.31" d="M7 99h33v1h-33zM7 226h33v1h-33zM40 99h86v1h-86zM40 151h86v1h-86zM40 183h86v1h-86zM40 226h86v1h-86zM126 99h32v1h-32zM126 226h32v1h-32zM158 226h88v1h-88zM246 79h66v1h-66zM246 99h66v1h-66zM246 226h66v1h-66zM312 226h55v1h-55zM367 226h54v1h-54z"/>
<path fill="#f4f4f4" style="mix-blend-mode:multiply" d="M7 78h33v1h-33zM7 87h33v1h-33zM7 107h33v1h-33zM7 112h33v1h-33zM7 132h33v1h-33zM7 134h33v1h-33zM7 144h33v1h-33zM7 150h33v1h-33zM7 163h33v1h-33zM7 166h33v1h-33zM7 172h33v1h-33zM7 175h33v1h-33zM7 189h33v1h-33zM7 198h33v1h-33zM7 215h33v1h-33zM7 219h33v1h-33zM7 238h33v1h-33zM7 295h33v1h-33zM7 328h33v1h-33zM7 332h33v1h-33zM7 339h33v1h-33zM40 66h86v1h-86zM40 73h86v1h-86zM40 85h86v1h-86zM40 87h86v1h-86zM40 103h86v1h-86zM40 107h86v1h-86zM40 114h86v1h-86zM40 116h86v1h-86zM40 126h86v1h-86zM40 168h86v1h-86zM40 181h86v1h-86zM40 200h86v1h-86zM40 213h86v1h-86zM40 235h86v1h-86zM40 252h86v1h-86zM40 261h86v1h-86zM40 286h86v1h-86zM40 287h86v1h-86zM40 306h86v1h-86zM40 309h86v1h-86zM40 313h86v1h-86zM40 323h86v1h-86zM40 328h86v1h-86zM126 73h32v1h-32zM126 80h32v1h-32zM126 121h32v1h-32zM126 124h32v1h-32zM126 132h32v1h-32zM126 141h32v1h-32zM126 150h32v1h-32zM126 173h32v1h-32zM126 175h32v1h-32zM126 190h32v1h-32zM126 213h32v1h-32zM126 224h32v1h-32zM126 229h32v1h-32zM126 243h32v1h-32zM126 252h32v1h-32zM126 253h32v1h-32zM126 260h32v1h-32zM126 264h32v1h-32zM126 266h32v1h-32zM126 284h32v1h-32zM126 295h32v1h-32zM126 315h32v1h-32zM126 318h32v1h-32zM126 324h32v1h-32zM158 72h88v1h-88zM158 83h88v1h-88zM158 116h88v1h-88zM158 126h88v1h-88zM158 153h88v1h-88zM158 168h88v1h-88zM158 172h88v1h-88zM158 197h88v1h-88zM158 207h88v1h-88zM158 208h88v1h-88zM158 214h88v1h-88zM158 222h88v1h-88zM158 229h88v1h-88zM158 235h88v1h-88zM158 251h88v1h-88zM158 252h88v1h-88zM158 300h88v1h-88zM158 311h88v1h-88zM158 324h88v1h-88zM158 329h88v1h-88zM158 341h88v1h-88zM246 66h66v1h-66zM246 69h66v1h-66zM246 71h66v1h-66zM246 80h66v1h-66zM246 82h66v1h-66zM246 83h66v1h-66zM246 85h66v1h-66zM246 114h66v1h-66zM246 133h66v1h-66zM246 166h66v1h-66zM246 168h66v1h-66zM246 181h66v1h-66zM246 205h66v1h-66zM246 207h66v1h-66zM246 208h66v1h-66zM246 214h66v1h-66zM246 219h66v1h-66zM246 224h66v1h-66zM246 263h66v1h-66zM246 309h66v1h-66zM246 332h66v1h-66zM246 334h66v1h-66zM312 68h55v1h-55zM312 71h55v1h-55zM312 87h55v1h-55zM312 110h55v1h-55zM312 116h55v1h-55zM312 118h55v1h-55zM312 127h55v1h-55zM312 157h55v1h-55zM312 161h55v1h-55zM312 175h55v1h-55zM312 187h55v1h-55zM312 200h55v1h-55zM312 204h55v1h-55zM312 207h55v1h-55zM312 254h55v1h-55zM312 260h55v1h-55zM312 266h55v1h-55zM312 277h55v1h-55zM312 291h55v1h-55zM312 301h55v1h-55zM312 332h55v1h-55zM312 341h55v1h-55zM367 80h54v1h-54zM367 95h54v1h-54zM367 108h54v1h-54zM367 126h54v1h-54zM367 144h54v1h-54zM367 163h54v1h-54zM367 180h54v1h-54zM367 197h54v1h-54zM367 244h54v1h-54zM367 246h54v1h-54zM367 251h54v1h-54zM367 255h54v1h-54zM367 285h54v1h-54zM367 291h54v1h-54zM367 293h54v1h-54zM367 299h54v1h-54zM367 300h54v1h-54zM367 304h54v1h-54zM367 311h54v1h-54zM367 316h54v1h-54zM367 321h54v1h-54zM367 333h54v1h-54zM367 341h54v1h-54z"/>
<path fill="#ececec" style="mix-blend-mode:multiply" d="M7 63h33v1h-33zM7 66h33v1h-33zM7 67h33v1h-33zM7 72h33v1h-33zM7 80h33v1h-33zM7 81h33v1h-33zM7 91h33v1h-33zM7 93h33v1h-33zM7 97h33v1h-33zM7 103h33v1h-33zM7 108h33v1h-33zM7 110h33v1h-33zM7 122h33v1h-33zM7 126h33v1h-33zM7 145h33v1h-33zM7 156h33v1h-33zM7 180h33v1h-33zM7 190h33v1h-33zM7 195h33v1h-33zM7 207h33v1h-33zM7 209h33v1h-33zM7 212h33v1h-33zM7 214h33v1h-33zM7 242h33v1h-33zM7 243h33v1h-33zM7 245h33v1h-33zM7 252h33v1h-33zM7 274h33v1h-33zM7 277h33v1h-33zM7 285h33v1h-33zM7 286h33v1h-33zM7 299h33v1h-33zM7 310h33v1h-33zM7 315h33v1h-33zM7 323h33v1h-33zM7 324h33v1h-33zM7 327h33v1h-33zM7 329h33v1h-33zM7 338h33v1h-33zM40 63h86v1h-86zM40 71h86v1h-86zM40 72h86v1h-86zM40 81h86v1h-86zM40 93h86v1h-86zM40 94h86v1h-86zM40 97h86v1h-86zM40 108h86v1h-86zM40 110h86v1h-86zM40 122h86v1h-86zM40 133h86v1h-86zM40 145h86v1h-86zM40 150h86v1h-86zM40 156h86v1h-86zM40 166h86v1h-86zM40 172h86v1h-86zM40 180h86v1h-86zM40 189h86v1h-86zM40 195h86v1h-86zM40 196h86v1h-86zM40 203h86v1h-86zM40 219h86v1h-86zM40 229h86v1h-86zM40 239h86v1h-86zM40 242h86v1h-86zM40 243h86v1h-86zM40 244h86v1h-86zM40 245h86v1h-86zM40 246h86v1h-86zM40 254h86v1h-86zM40 264h86v1h-86zM40 274h86v1h-86zM40 295h86v1h-86zM40 299h86v1h-86zM40 300h86v1h-86zM40 310h86v1h-86zM40 314h86v1h-86zM40 324h86v1h-86zM40 327h86v1h-86zM40 334h86v1h-86zM40 338h86v1h-86zM40 340h86v1h-86zM40 341h86v1h-86zM126 63h32v1h-32zM126 71h32v1h-32zM126 72h32v1h-32zM126 81h32v1h-32zM126 82h32v1h-32zM126 95h32v1h-32zM126 97h32v1h-32zM126 112h32v1h-32zM126 122h32v1h-32zM126 133h32v1h-32zM126 134h32v1h-32zM126 144h32v1h-32zM126 163h32v1h-32zM126 189h32v1h-32zM126 196h32v1h-32zM126 197h32v1h-32zM126 198h32v1h-32zM126 207h32v1h-32zM126 214h32v1h-32zM126 219h32v1h-32zM126 231h32v1h-32zM126 238h32v1h-32zM126 244h32v1h-32zM126 245h32v1h-32zM126 246h32v1h-32zM126 254h32v1h-32zM126 261h32v1h-32zM126 262h32v1h-32zM126 263h32v1h-32zM126 265h32v1h-32zM126 267h32v1h-32zM126 274h32v1h-32zM126 277h32v1h-32zM126 291h32v1h-32zM126 299h32v1h-32zM126 300h32v1h-32zM126 316h32v1h-32zM126 321h32v1h-32zM126 322h32v1h-32zM126 323h32v1h-32zM126 327h32v1h-32zM126 334h32v1h-32zM126 340h32v1h-32zM158 67h88v1h-88zM158 71h88v1h-88zM158 77h88v1h-88zM158 81h88v1h-88zM158 82h88v1h-88zM158 85h88v1h-88zM158 93h88v1h-88zM158 95h88v1h-88zM158 97h88v1h-88zM158 108h88v1h-88zM158 110h88v1h-88zM158 112h88v1h-88zM158 132h88v1h-88zM158 133h88v1h-88zM158 145h88v1h-88zM158 150h88v1h-88zM158 156h88v1h-88zM158 166h88v1h-88zM158 180h88v1h-88zM158 181h88v1h-88zM158 187h88v1h-88zM158 189h88v1h-88zM158 209h88v1h-88zM158 213h88v1h-88zM158 223h88v1h-88zM158 230h88v1h-88zM158 238h88v1h-88zM158 242h88v1h-88zM158 243h88v1h-88zM158 244h88v1h-88zM158 245h88v1h-88zM158 246h88v1h-88zM158 264h88v1h-88zM158 269h88v1h-88zM158 274h88v1h-88zM158 290h88v1h-88zM158 295h88v1h-88zM158 315h88v1h-88zM158 316h88v1h-88zM158 321h88v1h-88zM158 322h88v1h-88zM158 323h88v1h-88zM158 326h88v1h-88zM158 328h88v1h-88zM158 338h88v1h-88zM158 339h88v1h-88zM158 340h88v1h-88zM246 63h66v1h-66zM246 72h66v1h-66zM246 78h66v1h-66zM246 95h66v1h-66zM246 110h66v1h-66zM246 112h66v1h-66zM246 118h66v1h-66zM246 122h66v1h-66zM246 131h66v1h-66zM246 132h66v1h-66zM246 145h66v1h-66zM246 150h66v1h-66zM246 163h66v1h-66zM246 172h66v1h-66zM246 196h66v1h-66zM246 200h66v1h-66zM246 204h66v1h-66zM246 209h66v1h-66zM246 213h66v1h-66zM246 223h66v1h-66zM246 235h66v1h-66zM246 238h66v1h-66zM246 243h66v1h-66zM246 245h66v1h-66zM246 252h66v1h-66zM246 264h66v1h-66zM246 269h66v1h-66zM246 277h66v1h-66zM246 291h66v1h-66zM246 295h66v1h-66zM246 299h66v1h-66zM246 300h66v1h-66zM246 301h66v1h-66zM246 311h66v1h-66zM246 318h66v1h-66zM246 320h66v1h-66zM246 328h66v1h-66zM246 340h66v1h-66zM246 341h66v1h-66zM312 63h55v1h-55zM312 67h55v1h-55zM312 85h55v1h-55zM312 93h55v1h-55zM312 94h55v1h-55zM312 95h55v1h-55zM312 97h55v1h-55zM312 103h55v1h-55zM312 112h55v1h-55zM312 133h55v1h-55zM312 145h55v1h-55zM312 147h55v1h-55zM312 156h55v1h-55zM312 203h55v1h-55zM312 208h55v1h-55zM312 209h55v1h-55zM312 223h55v1h-55zM312 225h55v1h-55zM312 232h55v1h-55zM312 235h55v1h-55zM312 238h55v1h-55zM312 239h55v1h-55zM312 242h55v1h-55zM312 243h55v1h-55zM312 255h55v1h-55zM312 264h55v1h-55zM312 265h55v1h-55zM312 269h55v1h-55zM312 274h55v1h-55zM312 295h55v1h-55zM312 300h55v1h-55zM312 304h55v1h-55zM312 309h55v1h-55zM312 311h55v1h-55zM312 322h55v1h-55zM312 323h55v1h-55zM312 328h55v1h-55zM312 329h55v1h-55zM312 339h55v1h-55zM312 340h55v1h-55zM367 63h54v1h-54zM367 66h54v1h-54zM367 68h54v1h-54zM367 71h54v1h-54zM367 97h54v1h-54zM367 103h54v1h-54zM367 105h54v1h-54zM367 116h54v1h-54zM367 122h54v1h-54zM367 145h54v1h-54zM367 150h54v1h-54zM367 156h54v1h-54zM367 166h54v1h-54zM367 168h54v1h-54zM367 190h54v1h-54zM367 198h54v1h-54zM367 219h54v1h-54zM367 223h54v1h-54zM367 235h54v1h-54zM367 238h54v1h-54zM367 242h54v1h-54zM367 243h54v1h-54zM367 261h54v1h-54zM367 263h54v1h-54zM367 265h54v1h-54zM367 267h54v1h-54zM367 274h54v1h-54zM367 277h54v1h-54zM367 286h54v1h-54zM367 295h54v1h-54zM367 301h54v1h-54zM367 318h54v1h-54zM367 328h54v1h-54zM367 329h54v1h-54zM367 332h54v1h-54zM367 337h54v1h-54zM367 340h54v1h-54z"/>
<path fill="#e4e4e4" style="mix-blend-mode:multiply" d="M7 71h33v1h-33zM7 82h33v1h-33zM7 102h33v1h-33zM7 133h33v1h-33zM7 167h33v1h-33zM7 220h33v1h-33zM7 223h33v1h-33zM7 225h33v1h-33zM7 232h33v1h-33zM7 234h33v1h-33zM7 235h33v1h-33zM7 239h33v1h-33zM7 244h33v1h-33zM7 254h33v1h-33zM7 255h33v1h-33zM7 265h33v1h-33zM7 275h33v1h-33zM7 290h33v1h-33zM7 341h33v1h-33zM40 82h86v1h-86zM40 91h86v1h-86zM40 102h86v1h-86zM40 132h86v1h-86zM40 144h86v1h-86zM40 167h86v1h-86zM40 209h86v1h-86zM40 225h86v1h-86zM40 230h86v1h-86zM40 238h86v1h-86zM40 250h86v1h-86zM40 255h86v1h-86zM40 266h86v1h-86zM40 275h86v1h-86zM40 290h86v1h-86zM40 292h86v1h-86zM40 322h86v1h-86zM40 339h86v1h-86zM126 67h32v1h-32zM126 91h32v1h-32zM126 93h32v1h-32zM126 102h32v1h-32zM126 108h32v1h-32zM126 156h32v1h-32zM126 167h32v1h-32zM126 180h32v1h-32zM126 195h32v1h-32zM126 209h32v1h-32zM126 223h32v1h-32zM126 230h32v1h-32zM126 232h32v1h-32zM126 234h32v1h-32zM126 235h32v1h-32zM126 239h32v1h-32zM126 242h32v1h-32zM126 255h32v1h-32zM126 275h32v1h-32zM126 282h32v1h-32zM126 290h32v1h-32zM126 310h32v1h-32zM126 339h32v1h-32zM126 341h32v1h-32zM158 63h88v1h-88zM158 91h88v1h-88zM158 102h88v1h-88zM158 167h88v1h-88zM158 195h88v1h-88zM158 225h88v1h-88zM158 232h88v1h-88zM158 234h88v1h-88zM158 239h88v1h-88zM158 254h88v1h-88zM158 255h88v1h-88zM158 261h88v1h-88zM158 265h88v1h-88zM158 282h88v1h-88zM158 292h88v1h-88zM158 310h88v1h-88zM246 67h66v1h-66zM246 91h66v1h-66zM246 93h66v1h-66zM246 102h66v1h-66zM246 156h66v1h-66zM246 167h66v1h-66zM246 195h66v1h-66zM246 230h66v1h-66zM246 232h66v1h-66zM246 239h66v1h-66zM246 242h66v1h-66zM246 254h66v1h-66zM246 255h66v1h-66zM246 266h66v1h-66zM246 275h66v1h-66zM246 282h66v1h-66zM246 290h66v1h-66zM246 310h66v1h-66zM246 315h66v1h-66zM246 321h66v1h-66zM246 339h66v1h-66zM312 72h55v1h-55zM312 82h55v1h-55zM312 91h55v1h-55zM312 102h55v1h-55zM312 108h55v1h-55zM312 172h55v1h-55zM312 176h55v1h-55zM312 180h55v1h-55zM312 195h55v1h-55zM312 214h55v1h-55zM312 220h55v1h-55zM312 234h55v1h-55zM312 246h55v1h-55zM312 252h55v1h-55zM312 282h55v1h-55zM312 290h55v1h-55zM312 292h55v1h-55zM312 310h55v1h-55zM312 326h55v1h-55zM312 337h55v1h-55zM312 338h55v1h-55zM367 67h54v1h-54zM367 72h54v1h-54zM367 91h54v1h-54zM367 133h54v1h-54zM367 167h54v1h-54zM367 176h54v1h-54zM367 196h54v1h-54zM367 209h54v1h-54zM367 225h54v1h-54zM367 230h54v1h-54zM367 232h54v1h-54zM367 234h54v1h-54zM367 239h54v1h-54zM367 245h54v1h-54zM367 254h54v1h-54zM367 264h54v1h-54zM367 266h54v1h-54zM367 275h54v1h-54zM367 282h54v1h-54zM367 284h54v1h-54zM367 290h54v1h-54zM367 292h54v1h-54zM367 326h54v1h-54zM367 338h54v1h-54zM367 339h54v1h-54z"/>
<path fill="#dcdcdc" style="mix-blend-mode:multiply" d="M7 95h33v1h-33zM7 176h33v1h-33zM7 266h33v1h-33zM7 282h33v1h-33zM7 292h33v1h-33zM7 326h33v1h-33zM40 176h86v1h-86zM40 214h86v1h-86zM40 220h86v1h-86zM40 223h86v1h-86zM40 232h86v1h-86zM40 234h86v1h-86zM40 265h86v1h-86zM40 282h86v1h-86zM40 326h86v1h-86zM126 176h32v1h-32zM126 220h32v1h-32zM126 292h32v1h-32zM158 176h88v1h-88zM158 220h88v1h-88zM158 266h88v1h-88zM158 275h88v1h-88zM246 176h66v1h-66zM246 189h66v1h-66zM246 220h66v1h-66zM246 225h66v1h-66zM246 234h66v1h-66zM246 265h66v1h-66zM246 326h66v1h-66zM312 167h55v1h-55zM312 230h55v1h-55zM312 275h55v1h-55zM367 93h54v1h-54zM367 102h54v1h-54zM367 195h54v1h-54zM367 220h54v1h-54zM367 323h54v1h-54z"/>
<path fill="#d4d4d4" style="mix-blend-mode:multiply" d="M7 230h33v1h-33zM126 225h32v1h-32zM126 326h32v1h-32zM246 292h66v1h-66z"/>
<path fill="#fff" fill-opacity="0.03" d="M19 63h1v280h-1zM52 63h1v280h-1zM55 63h1v280h-1zM59 63h1v280h-1zM69 63h1v280h-1zM81 63h1v280h-1zM92 63h1v280h-1zM95 63h1v280h-1zM126 63h1v280h-1zM150 63h1v280h-1zM179 63h1v280h-1zM196 63h1v280h-1zM206 63h1v280h-1zM213 63h1v280h-1zM220 63h1v280h-1zM246 63h1v280h-1zM251 63h1v280h-1zM259 63h1v280h-1zM275 63h1v280h-1zM279 63h1v280h-1zM280 63h1v280h-1zM303 63h1v280h-1zM355 63h1v280h-1zM381 63h1v280h-1zM397 63h1v280h-1zM410 63h1v280h-1zM414 63h1v280h-1z"/>
<path fill="#fff" fill-opacity="0.05" d="M17 63h1v280h-1zM18 63h1v280h-1zM21 63h1v280h-1zM22 63h1v280h-1zM23 63h1v280h-1zM25 63h1v280h-1zM37 63h1v280h-1zM38 63h1v280h-1zM49 63h1v280h-1zM61 63h1v280h-1zM70 63h1v280h-1zM79 63h1v280h-1zM88 63h1v280h-1zM89 63h1v280h-1zM109 63h1v280h-1zM111 63h1v280h-1zM112 63h1v280h-1zM114 63h1v280h-1zM119 63h1v280h-1zM122 63h1v280h-1zM125 63h1v280h-1zM129 63h1v280h-1zM135 63h1v280h-1zM151 63h1v280h-1zM165 63h1v280h-1zM168 63h1v280h-1zM171 63h1v280h-1zM173 63h1v280h-1zM180 63h1v280h-1zM187 63h1v280h-1zM208 63h1v280h-1zM215 63h1v280h-1zM230 63h1v280h-1zM232 63h1v280h-1zM236 63h1v280h-1zM237 63h1v280h-1zM242 63h1v280h-1zM260 63h1v280h-1zM284 63h1v280h-1zM287 63h1v280h-1zM293 63h1v280h-1zM310 63h1v280h-1zM316 63h1v280h-1zM325 63h1v280h-1zM328 63h1v280h-1zM332 63h1v280h-1zM346 63h1v280h-1zM347 63h1v280h-1zM357 63h1v280h-1zM359 63h1v280h-1zM362 63h1v280h-1zM378 63h1v280h-1zM382 63h1v280h-1zM383 63h1v280h-1zM396 63h1v280h-1zM404 63h1v280h-1zM408 63h1v280h-1zM420 63h1v280h-1z"/>
<path fill="#fff" fill-opacity="0.07" d="M12 63h1v280h-1zM13 63h1v280h-1zM16 63h1v280h-1zM48 63h1v280h-1zM62 63h1v280h-1zM74 63h1v280h-1zM97 63h1v280h-1zM138 63h1v280h-1zM146 63h1v280h-1zM153 63h1v280h-1zM164 63h1v280h-1zM175 63h1v280h-1zM176 63h1v280h-1zM212 63h1v280h-1zM217 63h1v280h-1zM223 63h1v280h-1zM262 63h1v280h-1zM297 63h1v280h-1zM306 63h1v280h-1zM312 63h1v280h-1zM322 63h1v280h-1zM329 63h1v280h-1zM342 63h1v280h-1zM354 63h1v280h-1zM356 63h1v280h-1zM368 63h1v280h-1zM386 63h1v280h-1zM411 63h1v280h-1z"/>
<path fill="#fff" fill-opacity="0.09" d="M30 63h1v280h-1zM302 63h1v280h-1z"/>
<path fill="#f8f8f8" style="mix-blend-mode:multiply" d="M47 63h1v280h-1zM53 63h1v280h-1zM77 63h1v280h-1zM83 63h1v280h-1zM84 63h1v280h-1zM98 63h1v280h-1zM106 63h1v280h-1zM113 63h1v280h-1zM123 63h1v280h-1zM134 63h1v280h-1zM155 63h1v280h-1zM178 63h1v280h-1zM193 63h1v280h-1zM195 63h1v280h-1zM200 63h1v280h-1zM228 63h1v280h-1zM235 63h1v280h-1zM255 63h1v280h-1zM282 63h1v280h-1zM315 63h1v280h-1zM319 63h1v280h-1zM320 63h1v280h-1zM326 63h1v280h-1zM344 63h1v280h-1zM390 63h1v280h-1z"/>
<path fill="#f4f4f4" style="mix-blend-mode:multiply" d="M15 63h1v280h-1zM24 63h1v280h-1zM39 63h1v280h-1zM42 63h1v280h-1zM57 63h1v280h-1zM60 63h1v280h-1zM66 63h1v280h-1zM75 63h1v280h-1zM85 63h1v280h-1zM90 63h1v280h-1zM91 63h1v280h-1zM93 63h1v280h-1zM117 63h1v280h-1zM124 63h1v280h-1zM127 63h1v280h-1zM139 63h1v280h-1zM142 63h1v280h-1zM143 63h1v280h-1zM147 63h1v280h-1zM162 63h1v280h-1zM167 63h1v280h-1zM170 63h1v280h-1zM188 63h1v280h-1zM192 63h1v280h-1zM194 63h1v280h-1zM201 63h1v280h-1zM202 63h1v280h-1zM204 63h1v280h-1zM209 63h1v280h-1zM211 63h1v280h-1zM221 63h1v280h-1zM225 63h1v280h-1zM239 63h1v280h-1zM245 63h1v280h-1zM248 63h1v280h-1zM249 63h1v280h-1zM254 63h1v280h-1zM264 63h1v280h-1zM266 63h1v280h-1zM268 63h1v280h-1zM278 63h1v280h-1zM281 63h1v280h-1zM283 63h1v280h-1zM286 63h1v280h-1zM299 63h1v280h-1zM301 63h1v280h-1zM307 63h1v280h-1zM314 63h1v280h-1zM317 63h1v280h-1zM323 63h1v280h-1zM327 63h1v280h-1zM331 63h1v280h-1zM334 63h1v280h-1zM337 63h1v280h-1zM338 63h1v280h-1zM339 63h1v280h-1zM345 63h1v280h-1zM350 63h1v280h-1zM361 63h1v280h-1zM366 63h1v280h-1zM369 63h1v280h-1zM374 63h1v280h-1zM379 63h1v280h-1zM384 63h1v280h-1zM389 63h1v280h-1zM394 63h1v280h-1zM395 63h1v280h-1zM400 63h1v280h-1zM402 63h1v280h-1zM407 63h1v280h-1z"/>
<path fill="#f0f0f0" style="mix-blend-mode:multiply" d="M115 63h1v280h-1zM136 63h1v280h-1zM141 63h1v280h-1zM152 63h1v280h-1zM156 63h1v280h-1zM158 63h1v280h-1zM169 63h1v280h-1zM190 63h1v280h-1zM191 63h1v280h-1zM210 63h1v280h-1zM250 63h1v280h-1zM309 63h1v280h-1zM360 63h1v280h-1zM364 63h1v280h-1zM393 63h1v280h-1zM412 63h1v280h-1zM418 63h1v280h-1z"/>
<path fill="#ececec" style="mix-blend-mode:multiply" d="M56 63h1v280h-1zM101 63h1v280h-1zM182 63h1v280h-1zM253 63h1v280h-1zM271 63h1v280h-1zM336 63h1v280h-1zM343 63h1v280h-1zM353 63h1v280h-1zM376 63h1v280h-1zM391 63h1v280h-1z"/>
</g>
<defs><pattern id="spk" patternUnits="userSpaceOnUse" x="7" y="63" width="43" height="31">
<path fill="#fff" fill-opacity="0.3" d="M37 0h2v1h-2zM21 6h3v1h-3zM23 22h2v1h-2zM21 25h1v1h-1zM30 22h2v1h-2zM1 14h3v1h-3zM18 19h3v1h-3zM22 7h3v1h-3zM14 19h3v1h-3zM20 4h2v1h-2zM28 28h2v1h-2zM11 26h1v1h-1zM37 21h1v1h-1zM30 11h3v1h-3zM22 6h2v1h-2zM14 15h2v1h-2zM3 7h2v1h-2zM42 1h1v1h-1zM34 30h3v1h-3zM1 3h2v1h-2zM2 18h2v1h-2zM31 19h3v1h-3zM24 2h1v1h-1zM26 0h3v1h-3zM11 17h2v1h-2zM2 21h1v1h-1zM20 1h2v1h-2zM18 7h3v1h-3zM1 11h1v1h-1zM23 0h1v1h-1zM18 9h2v1h-2zM0 0h2v1h-2zM19 13h3v1h-3zM11 8h1v1h-1zM7 5h1v1h-1zM30 21h3v1h-3zM12 9h3v1h-3zM39 25h2v1h-2zM32 7h2v1h-2zM24 11h3v1h-3zM16 14h2v1h-2zM33 18h3v1h-3zM14 9h1v1h-1zM18 9h2v1h-2zM2 20h1v1h-1zM39 14h2v1h-2zM33 6h2v1h-2zM35 21h2v1h-2zM23 23h2v1h-2zM5 12h3v1h-3zM35 7h3v1h-3zM41 29h1v1h-1zM4 3h1v1h-1zM34 10h3v1h-3zM27 16h3v1h-3zM19 1h2v1h-2zM33 11h1v1h-1zM34 3h1v1h-1zM9 25h2v1h-2zM40 24h1v1h-1zM28 17h2v1h-2zM37 24h3v1h-3zM37 1h3v1h-3zM11 2h2v1h-2zM15 21h2v1h-2zM13 29h2v1h-2zM41 17h2v1h-2zM36 29h3v1h-3zM1 0h1v1h-1zM42 29h1v1h-1zM38 2h1v1h-1zM19 10h1v1h-1zM35 16h1v1h-1zM40 5h2v1h-2zM12 26h1v1h-1zM10 1h2v1h-2zM2 23h1v1h-1zM12 20h1v1h-1zM10 28h2v1h-2zM41 30h2v1h-2zM16 28h1v1h-1zM20 20h1v1h-1zM39 0h1v1h-1zM36 9h2v1h-2zM42 8h2v1h-2zM41 5h2v1h-2zM31 20h1v1h-1zM15 18h2v1h-2zM17 29h1v1h-1zM5 2h2v1h-2zM11 22h1v1h-1zM24 9h1v1h-1zM40 21h2v1h-2zM20 15h1v1h-1zM3 13h2v1h-2zM37 12h1v1h-1zM33 8h1v1h-1zM7 0h2v1h-2zM38 11h3v1h-3zM21 12h1v1h-1zM37 20h3v1h-3zM11 6h3v1h-3zM0 15h3v1h-3zM40 7h2v1h-2zM12 15h1v1h-1zM4 17h1v1h-1zM8 6h2v1h-2zM29 7h2v1h-2zM39 12h1v1h-1zM23 23h1v1h-1zM22 26h1v1h-1zM9 8h1v1h-1zM39 1h1v1h-1zM15 28h2v1h-2zM9 2h1v1h-1zM8 27h2v1h-2zM38 29h1v1h-1zM37 3h1v1h-1zM18 5h1v1h-1zM28 3h2v1h-2zM12 2h3v1h-3zM10 2h1v1h-1zM34 25h2v1h-2zM26 4h2v1h-2zM36 23h3v1h-3zM6 12h1v1h-1zM30 9h1v1h-1zM39 0h1v1h-1zM21 29h1v1h-1zM27 28h3v1h-3zM25 9h3v1h-3zM18 30h1v1h-1zM10 12h2v1h-2zM6 29h1v1h-1zM16 9h2v1h-2zM18 7h1v1h-1zM41 5h2v1h-2zM21 24h2v1h-2zM7 17h1v1h-1zM26 27h2v1h-2zM37 19h3v1h-3zM36 28h2v1h-2zM14 26h2v1h-2zM41 8h3v1h-3zM9 8h2v1h-2zM31 18h1v1h-1zM8 24h1v1h-1zM27 20h3v1h-3zM17 6h2v1h-2zM38 12h1v1h-1zM17 14h1v1h-1zM16 5h2v1h-2zM32 22h3v1h-3zM12 17h2v1h-2zM12 12h3v1h-3zM38 10h1v1h-1zM7 0h1v1h-1zM40 10h2v1h-2zM30 16h1v1h-1zM4 13h1v1h-1zM30 5h2v1h-2zM30 29h2v1h-2zM17 10h3v1h-3zM25 7h2v1h-2zM29 17h3v1h-3zM9 29h1v1h-1zM8 19h3v1h-3zM10 21h1v1h-1zM26 13h1v1h-1zM34 23h1v1h-1zM36 21h2v1h-2zM41 1h2v1h-2zM6 29h1v1h-1zM8 14h2v1h-2zM16 17h2v1h-2zM23 30h1v1h-1zM3 20h1v1h-1zM30 7h1v1h-1zM1 18h1v1h-1zM4 5h3v1h-3zM22 4h1v1h-1zM38 22h2v1h-2zM7 11h2v1h-2zM27 17h3v1h-3zM15 27h1v1h-1zM34 10h2v1h-2zM28 24h2v1h-2zM40 13h2v1h-2zM13 0h2v1h-2zM30 27h2v1h-2zM30 19h3v1h-3zM10 16h2v1h-2zM3 17h1v1h-1zM23 19h2v1h-2zM6 30h2v1h-2zM4 14h3v1h-3zM32 13h2v1h-2zM25 30h2v1h-2zM25 21h2v1h-2zM22 2h1v1h-1zM2 22h2v1h-2zM34 2h1v1h-1zM28 4h3v1h-3zM27 3h3v1h-3zM14 24h1v1h-1zM28 20h2v1h-2zM19 11h2v1h-2zM13 23h1v1h-1zM0 28h1v1h-1zM30 4h1v1h-1zM10 4h1v1h-1zM4 18h1v1h-1zM13 10h2v1h-2zM11 19h1v1h-1zM18 29h1v1h-1zM21 22h1v1h-1zM27 24h1v1h-1zM6 17h1v1h-1zM41 10h2v1h-2zM25 28h1v1h-1zM2 29h3v1h-3zM11 15h2v1h-2zM19 9h2v1h-2zM13 24h1v1h-1zM26 29h1v1h-1zM29 19h1v1h-1zM20 1h2v1h-2zM2 26h3v1h-3zM15 4h3v1h-3zM32 30h3v1h-3z"/>
<path fill="#000" fill-opacity="0.07" d="M18 7h1v1h-1zM35 16h1v1h-1zM10 19h2v1h-2zM16 24h1v1h-1zM21 21h1v1h-1zM14 14h1v1h-1zM7 16h1v1h-1zM14 5h1v1h-1zM26 15h2v1h-2zM31 11h1v1h-1zM23 2h1v1h-1zM14 19h2v1h-2zM15 4h1v1h-1zM32 19h2v1h-2zM39 24h2v1h-2zM27 13h1v1h-1zM41 11h1v1h-1zM23 3h2v1h-2zM16 11h1v1h-1zM22 17h1v1h-1zM9 26h1v1h-1zM24 21h2v1h-2zM2 8h1v1h-1zM20 18h1v1h-1zM11 29h1v1h-1zM37 12h2v1h-2zM7 22h1v1h-1zM40 16h2v1h-2zM5 17h1v1h-1zM31 7h1v1h-1zM4 11h2v1h-2zM30 30h1v1h-1zM18 29h1v1h-1zM17 9h2v1h-2zM30 0h1v1h-1zM40 18h1v1h-1zM31 6h1v1h-1zM7 13h1v1h-1zM5 25h2v1h-2zM38 17h1v1h-1zM15 14h1v1h-1zM38 15h1v1h-1zM20 1h2v1h-2zM26 14h1v1h-1zM16 4h1v1h-1zM39 29h2v1h-2zM36 3h1v1h-1zM21 25h2v1h-2zM5 5h2v1h-2zM41 3h2v1h-2zM5 5h1v1h-1zM39 5h1v1h-1zM20 18h1v1h-1zM18 30h1v1h-1zM29 20h1v1h-1zM30 4h1v1h-1zM42 3h1v1h-1zM33 16h1v1h-1zM32 23h2v1h-2zM38 18h1v1h-1zM5 26h1v1h-1zM3 27h1v1h-1zM19 3h1v1h-1zM8 14h1v1h-1zM36 18h1v1h-1zM40 24h2v1h-2zM21 3h1v1h-1zM26 0h1v1h-1zM35 12h1v1h-1zM13 2h1v1h-1zM17 20h2v1h-2zM37 24h2v1h-2zM11 13h1v1h-1zM33 20h1v1h-1zM27 14h1v1h-1zM16 1h2v1h-2zM29 3h2v1h-2zM8 19h1v1h-1zM36 17h2v1h-2zM37 15h1v1h-1zM13 26h2v1h-2zM24 20h1v1h-1zM30 26h2v1h-2zM28 5h2v1h-2zM31 29h2v1h-2zM13 20h1v1h-1zM23 5h1v1h-1zM14 29h1v1h-1zM0 15h1v1h-1zM22 2h1v1h-1zM18 20h2v1h-2zM34 24h1v1h-1zM27 30h1v1h-1zM1 14h1v1h-1zM29 16h2v1h-2zM20 18h2v1h-2zM9 4h1v1h-1zM33 12h2v1h-2zM22 29h1v1h-1zM35 2h1v1h-1zM42 30h1v1h-1zM22 0h1v1h-1zM20 7h1v1h-1zM7 9h1v1h-1zM3 18h2v1h-2zM39 12h1v1h-1zM11 5h1v1h-1zM21 0h1v1h-1zM14 5h2v1h-2zM5 6h1v1h-1zM24 10h1v1h-1zM5 23h1v1h-1zM2 14h1v1h-1zM22 2h1v1h-1zM6 25h1v1h-1zM4 29h1v1h-1zM38 10h2v1h-2zM6 5h1v1h-1zM12 29h1v1h-1zM7 14h1v1h-1zM28 2h2v1h-2zM20 6h1v1h-1zM26 27h2v1h-2zM2 1h1v1h-1zM18 29h1v1h-1zM26 12h1v1h-1zM38 27h1v1h-1zM4 13h1v1h-1zM25 23h2v1h-2zM21 14h1v1h-1zM31 2h1v1h-1zM19 13h1v1h-1zM34 9h1v1h-1zM36 17h1v1h-1zM23 0h1v1h-1zM2 10h2v1h-2zM31 25h1v1h-1zM5 8h2v1h-2zM3 0h1v1h-1zM19 5h1v1h-1zM15 0h1v1h-1zM38 0h2v1h-2zM1 11h1v1h-1zM28 17h2v1h-2zM10 0h1v1h-1zM6 12h2v1h-2zM41 15h1v1h-1zM22 12h1v1h-1zM32 12h2v1h-2zM9 21h1v1h-1z"/>
</pattern></defs>
<rect x="7" y="63" width="414" height="280" fill="url(#spk)" shape-rendering="crispEdges"/>
<path d="M197.4,41.8H202.1V48.4H206.2L199.7,54.9L193.2,48.4H197.4Z" fill="#fff" stroke="#e0141e" stroke-width="1"/>
<text x="427.7" y="61.6" font-size="7.1" font-weight="bold" font-family="Liberation Sans, sans-serif">Subtypes</text>
<rect x="427.7" y="66.90" width="7.6" height="7.1" fill="#df7cf5"/>
<text x="439.4" y="72.70" font-size="6.9" fill="#111" font-family="Liberation Sans, sans-serif">Ph+ or Ph-like</text>
<rect x="427.7" y="76.52" width="7.6" height="7.1" fill="#ffa8aa"/>
<text x="439.4" y="82.32" font-size="6.9" fill="#111" font-family="Liberation Sans, sans-serif">DUX4 rearrangement</text>
<rect x="427.7" y="86.14" width="7.6" height="7.1" fill="#fd8230"/>
<text x="439.4" y="91.94" font-size="6.9" fill="#111" font-family="Liberation Sans, sans-serif">ETV6−RUNX1 or like</text>
<rect x="427.7" y="95.76" width="7.6" height="7.1" fill="#ffc820"/>
<text x="439.4" y="101.56" font-size="6.9" fill="#111" font-family="Liberation Sans, sans-serif">Hyperdiploidy</text>
<rect x="427.7" y="105.38" width="7.6" height="7.1" fill="#b08a10"/>
<text x="439.4" y="111.18" font-size="6.9" fill="#111" font-family="Liberation Sans, sans-serif">Hypodiploidy</text>
<rect x="427.7" y="115.00" width="7.6" height="7.1" fill="#a0562a"/>
<text x="439.4" y="120.80" font-size="6.9" fill="#111" font-family="Liberation Sans, sans-serif">iAMP21</text>
<rect x="427.7" y="124.62" width="7.6" height="7.1" fill="#217a14"/>
<text x="439.4" y="130.42" font-size="6.9" fill="#111" font-family="Liberation Sans, sans-serif">IKZF1 N159Y</text>
<rect x="427.7" y="134.24" width="7.6" height="7.1" fill="#58982e"/>
<text x="439.4" y="140.04" font-size="6.9" fill="#111" font-family="Liberation Sans, sans-serif">KMT2A rearrangement</text>
<rect x="427.7" y="143.86" width="7.6" height="7.1" fill="#70c83c"/>
<text x="439.4" y="149.66" font-size="6.9" fill="#111" font-family="Liberation Sans, sans-serif">MEF2D rearrangement</text>
<rect x="427.7" y="153.48" width="7.6" height="7.1" fill="#2f7f98"/>
<text x="439.4" y="159.28" font-size="6.9" fill="#111" font-family="Liberation Sans, sans-serif">NUTM1 rearrangement</text>
<rect x="427.7" y="163.10" width="7.6" height="7.1" fill="#9a9a9a"/>
<text x="439.4" y="168.90" font-size="6.9" fill="#111" font-family="Liberation Sans, sans-serif">Others</text>
<rect x="427.7" y="172.72" width="7.6" height="7.1" fill="#1060f8"/>
<text x="439.4" y="178.52" font-size="6.9" fill="#111" font-family="Liberation Sans, sans-serif">PAX5 alteration</text>
<rect x="427.7" y="182.34" width="7.6" height="7.1" fill="#80a8ff"/>
<text x="439.4" y="188.14" font-size="6.9" fill="#111" font-family="Liberation Sans, sans-serif">PAX5 P80R</text>
<rect x="427.7" y="191.96" width="7.6" height="7.1" fill="#7fdcf8"/>
<text x="439.4" y="197.76" font-size="6.9" fill="#111" font-family="Liberation Sans, sans-serif">T−ALL</text>
<rect x="427.7" y="201.58" width="7.6" height="7.1" fill="#84dccc"/>
<text x="439.4" y="207.38" font-size="6.9" fill="#111" font-family="Liberation Sans, sans-serif">TCF3−PBX1</text>
<rect x="427.7" y="211.20" width="7.6" height="7.1" fill="#36bc98"/>
<text x="439.4" y="217.00" font-size="6.9" fill="#111" font-family="Liberation Sans, sans-serif">ZNF384 rearrangement</text>
<defs><linearGradient id="cs" x1="0" y1="1" x2="0" y2="0"><stop offset="0" stop-color="#3a6fb0"/><stop offset="0.2" stop-color="#90bcdc"/><stop offset="0.38" stop-color="#e2f0f6"/><stop offset="0.5" stop-color="#fefec0"/><stop offset="0.65" stop-color="#fdd88a"/><stop offset="0.82" stop-color="#f88a50"/><stop offset="1" stop-color="#d02a26"/></linearGradient></defs>
<rect x="427.7" y="273.2" width="6.3" height="69.5" fill="url(#cs)"/>
<text x="437" y="285.5" font-size="7.2" fill="#111" font-family="Liberation Sans, sans-serif">15</text>
<text x="437" y="306.5" font-size="7.2" fill="#111" font-family="Liberation Sans, sans-serif">10</text>
<text x="437" y="327.6" font-size="7.2" fill="#111" font-family="Liberation Sans, sans-serif">5</text>
<rect x="38.6" y="366.3" width="240" height="200" fill="none" stroke="#000" stroke-width="0.9"/>
<line x1="35.8" y1="391.5" x2="38.6" y2="391.5" stroke="#000" stroke-width="0.8"/>
<text x="33.1" y="393.9" font-size="6.9" text-anchor="end" fill="#111" textLength="8.6" lengthAdjust="spacingAndGlyphs" font-family="Liberation Sans, sans-serif">20</text>
<line x1="35.8" y1="428.1" x2="38.6" y2="428.1" stroke="#000" stroke-width="0.8"/>
<text x="33.1" y="430.5" font-size="6.9" text-anchor="end" fill="#111" textLength="8.6" lengthAdjust="spacingAndGlyphs" font-family="Liberation Sans, sans-serif">10</text>
<line x1="35.8" y1="464.7" x2="38.6" y2="464.7" stroke="#000" stroke-width="0.8"/>
<text x="33.1" y="467.1" font-size="6.9" text-anchor="end" fill="#111" textLength="4.3" lengthAdjust="spacingAndGlyphs" font-family="Liberation Sans, sans-serif">0</text>
<line x1="35.8" y1="501.3" x2="38.6" y2="501.3" stroke="#000" stroke-width="0.8"/>
<text x="33.1" y="503.7" font-size="6.9" text-anchor="end" fill="#111" textLength="13.0" lengthAdjust="spacingAndGlyphs" font-family="Liberation Sans, sans-serif">−10</text>
<line x1="35.8" y1="537.9" x2="38.6" y2="537.9" stroke="#000" stroke-width="0.8"/>
<text x="33.1" y="540.3" font-size="6.9" text-anchor="end" fill="#111" textLength="13.0" lengthAdjust="spacingAndGlyphs" font-family="Liberation Sans, sans-serif">−20</text>
<line x1="42.5" y1="566.3" x2="42.5" y2="569.1" stroke="#000" stroke-width="0.8"/>
<text x="41.9" y="578.3" font-size="6.9" text-anchor="middle" fill="#111" textLength="13.3" lengthAdjust="spacingAndGlyphs" font-family="Liberation Sans, sans-serif">−40</text>
<line x1="107.0" y1="566.3" x2="107.0" y2="569.1" stroke="#000" stroke-width="0.8"/>
<text x="106.4" y="578.3" font-size="6.9" text-anchor="middle" fill="#111" textLength="13.3" lengthAdjust="spacingAndGlyphs" font-family="Liberation Sans, sans-serif">−20</text>
<line x1="171.5" y1="566.3" x2="171.5" y2="569.1" stroke="#000" stroke-width="0.8"/>
<text x="171.5" y="578.3" font-size="6.9" text-anchor="middle" fill="#111" textLength="4.3" lengthAdjust="spacingAndGlyphs" font-family="Liberation Sans, sans-serif">0</text>
<line x1="236.0" y1="566.3" x2="236.0" y2="569.1" stroke="#000" stroke-width="0.8"/>
<text x="236.0" y="578.3" font-size="6.9" text-anchor="middle" fill="#111" textLength="8.4" lengthAdjust="spacingAndGlyphs" font-family="Liberation Sans, sans-serif">20</text>
<text x="158.2" y="591.4" font-size="8.4" text-anchor="middle" fill="#111" textLength="16.2" lengthAdjust="spacingAndGlyphs" font-family="Liberation Sans, sans-serif">tSNE1</text>
<text transform="translate(14.1,466.5) rotate(-90)" font-size="8.8" text-anchor="middle" fill="#111" textLength="16.8" lengthAdjust="spacingAndGlyphs" font-family="Liberation Sans, sans-serif">tSNE2</text>
<path d="M51,384L54,380L60,378L70,376L75,377L77,384L76,390L72,394L66,400L56,399L51,394Z" fill="#9fe4fa"/>
<use href="#s_tall" x="57.6" y="378.5"/>
<use href="#s_tall" x="67.7" y="376.1"/>
<use href="#s_tall" x="64.2" y="385.2"/>
<use href="#s_tall" x="49.3" y="389.6"/>
<use href="#s_tall" x="48.7" y="387.3"/>
<use href="#s_tall" x="60.7" y="399.6"/>
<use href="#s_tall" x="51.4" y="380.8"/>
<use href="#s_tall" x="74.2" y="382.8"/>
<use href="#s_tall" x="57.1" y="399.3"/>
<use href="#s_tall" x="53.1" y="391.9"/>
<use href="#s_tall" x="67.4" y="385.4"/>
<use href="#s_tall" x="64.5" y="375.8"/>
<use href="#s_tall" x="68.7" y="387.1"/>
<use href="#s_tall" x="57.3" y="392.1"/>
<use href="#s_tall" x="61.6" y="383.2"/>
<use href="#s_tall" x="72.2" y="395.6"/>
<use href="#s_tall" x="63.8" y="401.1"/>
<use href="#s_tall" x="70.2" y="382.8"/>
<use href="#s_tall" x="60.5" y="397.4"/>
<use href="#s_tall" x="52.2" y="389.1"/>
<use href="#s_tall" x="48.7" y="394.6"/>
<use href="#s_tall" x="71.3" y="391.7"/>
<use href="#s_tall" x="69.1" y="392.3"/>
<use href="#s_tall" x="65.5" y="388.0"/>
<use href="#s_tall" x="62.2" y="394.5"/>
<use href="#s_tall" x="59.5" y="394.7"/>
<use href="#s_tall" x="56.2" y="386.8"/>
<use href="#s_tall" x="58.7" y="401.4"/>
<use href="#s_tall" x="54.8" y="388.9"/>
<use href="#s_tall" x="65.8" y="382.0"/>
<use href="#s_tall" x="59.7" y="386.2"/>
<use href="#s_tall" x="50.7" y="393.6"/>
<use href="#s_tall" x="54.0" y="378.9"/>
<use href="#s_tall" x="50.7" y="385.1"/>
<use href="#s_tall" x="66.6" y="378.4"/>
<use href="#s_tall" x="55.3" y="384.6"/>
<use href="#s_tall" x="62.0" y="388.9"/>
<use href="#s_tall" x="58.2" y="382.1"/>
<use href="#s_tall" x="73.3" y="378.8"/>
<use href="#s_tall" x="63.9" y="378.4"/>
<use href="#s_tall" x="63.9" y="404.3"/>
<use href="#s_tall" x="52.7" y="397.9"/>
<use href="#s_tall" x="64.1" y="398.1"/>
<use href="#s_tall" x="48.4" y="382.5"/>
<use href="#s_tall" x="55.6" y="395.4"/>
<use href="#s_tall" x="77.2" y="387.8"/>
<use href="#s_tall" x="77.2" y="385.2"/>
<use href="#s_tall" x="54.4" y="380.9"/>
<use href="#s_tall" x="66.9" y="401.9"/>
<use href="#s_tall" x="73.6" y="388.8"/>
<use href="#s_tall" x="67.8" y="398.7"/>
<use href="#s_tall" x="70.8" y="388.7"/>
<use href="#s_tall" x="70.0" y="379.1"/>
<use href="#s_tall" x="58.5" y="388.1"/>
<use href="#s_tall" x="60.6" y="402.4"/>
<use href="#s_tall" x="61.2" y="379.5"/>
<use href="#s_tall" x="57.6" y="390.0"/>
<use href="#s_tall" x="50.8" y="391.3"/>
<use href="#s_tall" x="76.8" y="381.9"/>
<use href="#s_tall" x="70.0" y="374.4"/>
<use href="#s_tall" x="66.9" y="389.8"/>
<use href="#s_tall" x="65.2" y="395.7"/>
<use href="#s_tall" x="63.9" y="381.2"/>
<use href="#s_tall" x="49.7" y="396.9"/>
<use href="#s_tall" x="77.7" y="390.9"/>
<use href="#s_tall" x="59.6" y="384.0"/>
<use href="#s_tall" x="68.7" y="395.4"/>
<use href="#s_tall" x="64.9" y="393.4"/>
<use href="#s_tall" x="62.0" y="377.5"/>
<use href="#s_tall" x="75.3" y="380.0"/>
<use href="#s_tall" x="70.9" y="393.9"/>
<use href="#s_tall" x="76.3" y="377.8"/>
<use href="#s_tall" x="67.9" y="383.2"/>
<use href="#s_tall" x="70.8" y="386.7"/>
<use href="#s_tall" x="60.4" y="390.2"/>
<use href="#s_tall" x="74.6" y="374.5"/>
<use href="#s_tall" x="73.0" y="381.0"/>
<use href="#s_tall" x="57.4" y="385.1"/>
<use href="#s_tall" x="71.8" y="376.3"/>
<use href="#s_tall" x="67.8" y="380.1"/>
<use href="#s_tall" x="52.6" y="395.5"/>
<use href="#s_tall" x="70.3" y="398.1"/>
<use href="#s_tall" x="74.6" y="391.1"/>
<use href="#s_tall" x="60.1" y="381.2"/>
<use href="#s_tall" x="57.9" y="397.2"/>
<use href="#s_tall" x="90.7" y="400.3"/>
<use href="#s_mef" x="131.7" y="398.1"/>
<use href="#s_mef" x="132.0" y="388.8"/>
<use href="#s_mef" x="129.2" y="391.5"/>
<use href="#s_mef" x="133.4" y="392.9"/>
<use href="#s_mef" x="124.2" y="394.8"/>
<use href="#s_mef" x="132.6" y="399.7"/>
<use href="#s_mef" x="123.7" y="399.1"/>
<use href="#s_mef" x="130.6" y="395.7"/>
<use href="#s_mef" x="131.2" y="400.3"/>
<use href="#s_mef" x="127.8" y="398.0"/>
<use href="#s_mef" x="127.2" y="396.2"/>
<use href="#s_mef" x="129.5" y="389.5"/>
<use href="#s_mef" x="131.7" y="394.7"/>
<use href="#s_mef" x="131.8" y="396.4"/>
<use href="#s_mef" x="125.9" y="397.7"/>
<use href="#s_mef" x="133.9" y="398.8"/>
<use href="#s_mef" x="134.4" y="397.6"/>
<use href="#s_mef" x="125.1" y="391.3"/>
<use href="#s_mef" x="134.5" y="394.5"/>
<use href="#s_mef" x="125.6" y="395.8"/>
<use href="#s_mef" x="129.0" y="388.0"/>
<use href="#s_mef" x="133.9" y="387.2"/>
<use href="#s_mef" x="122.7" y="392.5"/>
<use href="#s_mef" x="131.8" y="392.5"/>
<use href="#s_mef" x="121.4" y="394.7"/>
<use href="#s_mef" x="120.9" y="397.2"/>
<use href="#s_mef" x="126.6" y="390.9"/>
<use href="#s_mef" x="128.9" y="396.6"/>
<use href="#s_mef" x="122.2" y="398.1"/>
<use href="#s_mef" x="130.6" y="392.0"/>
<use href="#s_mef" x="133.1" y="395.8"/>
<use href="#s_mef" x="130.6" y="388.5"/>
<use href="#s_mef" x="122.7" y="395.0"/>
<use href="#s_mef" x="133.2" y="390.8"/>
<use href="#s_mef" x="128.1" y="400.2"/>
<use href="#s_mef" x="128.5" y="394.8"/>
<use href="#s_mef" x="126.7" y="399.8"/>
<use href="#s_mef" x="123.4" y="396.4"/>
<use href="#s_mef" x="127.8" y="393.5"/>
<use href="#s_mef" x="127.7" y="389.2"/>
<use href="#s_mef" x="94.8" y="401.4"/>
<use href="#s_tcf" x="127.4" y="408.9"/>
<use href="#s_tcf" x="117.6" y="407.4"/>
<use href="#s_tcf" x="115.5" y="407.3"/>
<use href="#s_tcf" x="116.0" y="410.8"/>
<use href="#s_tcf" x="118.7" y="413.2"/>
<use href="#s_tcf" x="123.7" y="409.0"/>
<use href="#s_tcf" x="123.1" y="403.8"/>
<use href="#s_tcf" x="123.6" y="407.4"/>
<use href="#s_tcf" x="114.5" y="415.2"/>
<use href="#s_tcf" x="116.9" y="405.9"/>
<use href="#s_tcf" x="122.6" y="415.3"/>
<use href="#s_tcf" x="123.9" y="417.0"/>
<use href="#s_tcf" x="126.4" y="416.2"/>
<use href="#s_tcf" x="120.9" y="414.7"/>
<use href="#s_tcf" x="118.9" y="416.8"/>
<use href="#s_tcf" x="121.4" y="407.6"/>
<use href="#s_tcf" x="114.5" y="405.7"/>
<use href="#s_tcf" x="120.1" y="411.1"/>
<use href="#s_tcf" x="121.1" y="416.5"/>
<use href="#s_tcf" x="117.6" y="409.9"/>
<use href="#s_tcf" x="123.2" y="413.1"/>
<use href="#s_tcf" x="124.9" y="413.0"/>
<use href="#s_tcf" x="116.8" y="416.5"/>
<use href="#s_tcf" x="114.0" y="410.1"/>
<use href="#s_tcf" x="120.4" y="418.2"/>
<use href="#s_tcf" x="115.9" y="412.4"/>
<use href="#s_tcf" x="128.5" y="411.8"/>
<use href="#s_tcf" x="110.7" y="412.1"/>
<use href="#s_tcf" x="126.9" y="412.2"/>
<use href="#s_tcf" x="129.3" y="410.3"/>
<use href="#s_tcf" x="109.8" y="409.4"/>
<use href="#s_tcf" x="122.2" y="417.7"/>
<use href="#s_tcf" x="125.3" y="406.4"/>
<use href="#s_tcf" x="125.2" y="404.9"/>
<use href="#s_tcf" x="116.2" y="414.5"/>
<use href="#s_tcf" x="117.8" y="415.4"/>
<use href="#s_tcf" x="119.5" y="406.7"/>
<use href="#s_tcf" x="126.5" y="410.5"/>
<use href="#s_tcf" x="113.4" y="414.1"/>
<use href="#s_tcf" x="118.2" y="411.4"/>
<use href="#s_tcf" x="115.0" y="408.9"/>
<use href="#s_tcf" x="126.4" y="414.2"/>
<use href="#s_tcf" x="111.8" y="408.5"/>
<use href="#s_tcf" x="112.5" y="410.3"/>
<use href="#s_tcf" x="119.2" y="408.7"/>
<use href="#s_tcf" x="123.5" y="422.0"/>
<use href="#s_tcf" x="136.1" y="467.0"/>
<use href="#s_kmt" x="113.6" y="441.5"/>
<use href="#s_kmt" x="107.2" y="428.3"/>
<use href="#s_kmt" x="110.0" y="444.5"/>
<use href="#s_kmt" x="95.4" y="438.9"/>
<use href="#s_kmt" x="92.2" y="442.0"/>
<use href="#s_kmt" x="97.1" y="458.3"/>
<use href="#s_kmt" x="108.6" y="431.0"/>
<use href="#s_kmt" x="102.3" y="434.0"/>
<use href="#s_kmt" x="110.5" y="434.3"/>
<use href="#s_kmt" x="113.1" y="436.1"/>
<use href="#s_kmt" x="113.9" y="443.4"/>
<use href="#s_kmt" x="92.8" y="439.8"/>
<use href="#s_kmt" x="105.4" y="428.1"/>
<use href="#s_kmt" x="92.6" y="453.1"/>
<use href="#s_kmt" x="106.6" y="442.2"/>
<use href="#s_kmt" x="106.7" y="450.6"/>
<use href="#s_kmt" x="113.2" y="445.7"/>
<use href="#s_kmt" x="110.7" y="438.8"/>
<use href="#s_kmt" x="116.5" y="441.5"/>
<use href="#s_kmt" x="98.7" y="429.1"/>
<use href="#s_kmt" x="98.8" y="446.1"/>
<use href="#s_kmt" x="101.3" y="443.0"/>
<use href="#s_kmt" x="90.6" y="450.9"/>
<use href="#s_kmt" x="97.2" y="450.7"/>
<use href="#s_kmt" x="99.2" y="452.3"/>
<use href="#s_kmt" x="103.5" y="443.6"/>
<use href="#s_kmt" x="104.3" y="423.5"/>
<use href="#s_kmt" x="94.9" y="454.9"/>
<use href="#s_kmt" x="106.1" y="456.6"/>
<use href="#s_kmt" x="99.4" y="439.3"/>
<use href="#s_kmt" x="94.6" y="435.9"/>
<use href="#s_kmt" x="107.4" y="437.1"/>
<use href="#s_kmt" x="104.1" y="425.4"/>
<use href="#s_kmt" x="117.3" y="447.6"/>
<use href="#s_kmt" x="107.7" y="433.2"/>
<use href="#s_kmt" x="104.4" y="459.1"/>
<use href="#s_kmt" x="103.7" y="439.8"/>
<use href="#s_kmt" x="96.7" y="448.2"/>
<use href="#s_kmt" x="95.5" y="441.1"/>
<use href="#s_kmt" x="105.3" y="448.3"/>
<use href="#s_kmt" x="93.3" y="450.7"/>
<use href="#s_kmt" x="96.9" y="432.2"/>
<use href="#s_kmt" x="93.9" y="442.9"/>
<use href="#s_kmt" x="96.4" y="453.1"/>
<use href="#s_kmt" x="115.2" y="440.0"/>
<use href="#s_kmt" x="101.1" y="451.7"/>
<use href="#s_kmt" x="110.9" y="452.0"/>
<use href="#s_kmt" x="111.5" y="441.4"/>
<use href="#s_kmt" x="112.4" y="450.6"/>
<use href="#s_kmt" x="101.5" y="440.7"/>
<use href="#s_kmt" x="99.3" y="435.4"/>
<use href="#s_kmt" x="105.7" y="426.2"/>
<use href="#s_kmt" x="100.6" y="458.6"/>
<use href="#s_kmt" x="101.1" y="447.3"/>
<use href="#s_kmt" x="104.0" y="454.8"/>
<use href="#s_kmt" x="116.0" y="449.9"/>
<use href="#s_kmt" x="107.3" y="446.5"/>
<use href="#s_kmt" x="105.5" y="438.9"/>
<use href="#s_kmt" x="106.7" y="454.5"/>
<use href="#s_kmt" x="110.1" y="436.6"/>
<use href="#s_kmt" x="101.4" y="437.9"/>
<use href="#s_kmt" x="105.8" y="460.5"/>
<use href="#s_kmt" x="102.9" y="460.1"/>
<use href="#s_kmt" x="99.9" y="425.3"/>
<use href="#s_kmt" x="101.2" y="455.7"/>
<use href="#s_kmt" x="103.2" y="431.7"/>
<use href="#s_kmt" x="101.5" y="427.9"/>
<use href="#s_kmt" x="116.1" y="445.9"/>
<use href="#s_kmt" x="98.7" y="432.4"/>
<use href="#s_kmt" x="106.6" y="431.1"/>
<use href="#s_kmt" x="99.3" y="448.6"/>
<use href="#s_kmt" x="105.3" y="434.9"/>
<use href="#s_kmt" x="98.5" y="442.4"/>
<use href="#s_kmt" x="100.9" y="449.7"/>
<use href="#s_kmt" x="90.3" y="453.9"/>
<use href="#s_kmt" x="88.5" y="450.2"/>
<use href="#s_kmt" x="95.2" y="444.2"/>
<use href="#s_kmt" x="100.2" y="430.6"/>
<use href="#s_kmt" x="109.8" y="449.1"/>
<use href="#s_kmt" x="97.6" y="454.8"/>
<use href="#s_kmt" x="104.6" y="452.7"/>
<use href="#s_kmt" x="92.2" y="449.0"/>
<use href="#s_kmt" x="87.6" y="453.2"/>
<use href="#s_kmt" x="109.2" y="429.1"/>
<use href="#s_kmt" x="112.4" y="439.5"/>
<use href="#s_nut" x="116.0" y="428.0"/>
<use href="#s_nut" x="118.5" y="429.0"/>
<use href="#s_nut" x="122.0" y="432.0"/>
<use href="#s_nut" x="126.0" y="426.6"/>
<use href="#s_hypo" x="127.5" y="428.0"/>
<use href="#s_hypo" x="130.0" y="430.0"/>
<use href="#s_hypo" x="132.0" y="427.0"/>
<use href="#s_hypo" x="133.0" y="432.0"/>
<use href="#s_hypo" x="129.0" y="434.0"/>
<use href="#s_hypo" x="131.5" y="436.0"/>
<use href="#s_hypo" x="134.0" y="438.0"/>
<use href="#s_hypo" x="136.0" y="430.0"/>
<use href="#s_hypo" x="130.0" y="440.0"/>
<use href="#s_hypo" x="135.0" y="434.0"/>
<use href="#s_hypo" x="173.8" y="426.5"/>
<use href="#s_pax" x="148.3" y="439.9"/>
<use href="#s_pax" x="153.7" y="431.3"/>
<use href="#s_pax" x="149.6" y="432.0"/>
<use href="#s_pax" x="162.9" y="422.2"/>
<use href="#s_pax" x="146.3" y="419.3"/>
<use href="#s_pax" x="157.5" y="438.0"/>
<use href="#s_pax" x="156.8" y="427.0"/>
<use href="#s_pax" x="149.7" y="447.9"/>
<use href="#s_pax" x="157.6" y="432.3"/>
<use href="#s_pax" x="143.7" y="439.9"/>
<use href="#s_pax" x="150.4" y="437.0"/>
<use href="#s_pax" x="144.4" y="422.7"/>
<use href="#s_pax" x="144.3" y="447.1"/>
<use href="#s_pax" x="147.0" y="436.7"/>
<use href="#s_pax" x="144.3" y="434.6"/>
<use href="#s_pax" x="155.5" y="419.2"/>
<use href="#s_pax" x="151.2" y="418.9"/>
<use href="#s_pax" x="154.6" y="441.8"/>
<use href="#s_pax" x="159.4" y="420.4"/>
<use href="#s_pax" x="150.9" y="422.4"/>
<use href="#s_pax" x="146.7" y="427.0"/>
<use href="#s_pax" x="145.6" y="442.9"/>
<use href="#s_pax" x="149.7" y="443.6"/>
<use href="#s_pax" x="153.4" y="447.5"/>
<use href="#s_pax" x="161.5" y="430.3"/>
<use href="#s_pax" x="150.2" y="426.4"/>
<use href="#s_pax" x="143.1" y="428.3"/>
<use href="#s_pax" x="162.7" y="426.1"/>
<use href="#s_pax" x="156.9" y="423.3"/>
<use href="#s_pax" x="153.5" y="424.6"/>
<use href="#s_pax" x="150.8" y="398.8"/>
<use href="#s_pax" x="146.4" y="414.6"/>
<use href="#s_pax" x="186.0" y="424.0"/>
<use href="#s_p80" x="150.1" y="407.4"/>
<use href="#s_p80" x="150.4" y="410.3"/>
<use href="#s_p80" x="152.8" y="407.5"/>
<use href="#s_p80" x="159.0" y="410.3"/>
<use href="#s_p80" x="151.9" y="403.8"/>
<use href="#s_p80" x="156.3" y="408.1"/>
<use href="#s_p80" x="154.2" y="410.1"/>
<use href="#s_p80" x="157.9" y="412.8"/>
<use href="#s_p80" x="155.0" y="405.6"/>
<use href="#s_znf" x="168.0" y="408.7"/>
<use href="#s_znf" x="180.3" y="406.5"/>
<use href="#s_znf" x="173.5" y="410.5"/>
<use href="#s_znf" x="176.5" y="413.5"/>
<use href="#s_znf" x="178.5" y="416.0"/>
<use href="#s_znf" x="176.3" y="418.5"/>
<use href="#s_znf" x="181.5" y="411.0"/>
<use href="#s_znf" x="171.0" y="410.5"/>
<use href="#s_znf" x="185.3" y="500.3"/>
<use href="#s_ph" x="152.1" y="477.4"/>
<use href="#s_ph" x="147.7" y="470.8"/>
<use href="#s_ph" x="179.0" y="471.8"/>
<use href="#s_ph" x="163.7" y="479.1"/>
<use href="#s_ph" x="161.0" y="488.1"/>
<use href="#s_ph" x="172.3" y="461.9"/>
<use href="#s_ph" x="150.7" y="468.0"/>
<use href="#s_ph" x="168.2" y="442.4"/>
<use href="#s_ph" x="178.3" y="465.9"/>
<use href="#s_ph" x="157.6" y="453.0"/>
<use href="#s_ph" x="153.5" y="465.3"/>
<use href="#s_ph" x="160.2" y="484.2"/>
<use href="#s_ph" x="157.1" y="495.6"/>
<use href="#s_ph" x="171.1" y="483.9"/>
<use href="#s_ph" x="176.6" y="455.4"/>
<use href="#s_ph" x="165.9" y="480.4"/>
<use href="#s_ph" x="178.6" y="478.7"/>
<use href="#s_ph" x="168.8" y="480.2"/>
<use href="#s_ph" x="170.3" y="470.2"/>
<use href="#s_ph" x="155.0" y="487.9"/>
<use href="#s_ph" x="159.3" y="457.0"/>
<use href="#s_ph" x="157.8" y="461.2"/>
<use href="#s_ph" x="167.9" y="449.2"/>
<use href="#s_ph" x="169.2" y="488.8"/>
<use href="#s_ph" x="163.3" y="484.9"/>
<use href="#s_ph" x="160.8" y="478.9"/>
<use href="#s_ph" x="143.1" y="478.2"/>
<use href="#s_ph" x="173.5" y="470.0"/>
<use href="#s_ph" x="171.2" y="478.3"/>
<use href="#s_ph" x="173.7" y="457.8"/>
<use href="#s_ph" x="169.5" y="437.3"/>
<use href="#s_ph" x="156.5" y="458.1"/>
<use href="#s_ph" x="164.2" y="453.2"/>
<use href="#s_ph" x="166.8" y="454.9"/>
<use href="#s_ph" x="175.1" y="459.8"/>
<use href="#s_ph" x="166.8" y="446.0"/>
<use href="#s_ph" x="165.2" y="450.0"/>
<use href="#s_ph" x="164.3" y="441.1"/>
<use href="#s_ph" x="157.2" y="489.9"/>
<use href="#s_ph" x="168.6" y="477.3"/>
<use href="#s_ph" x="161.8" y="463.1"/>
<use href="#s_ph" x="162.2" y="441.3"/>
<use href="#s_ph" x="166.9" y="463.4"/>
<use href="#s_ph" x="178.8" y="463.6"/>
<use href="#s_ph" x="179.0" y="460.7"/>
<use href="#s_ph" x="169.9" y="456.6"/>
<use href="#s_ph" x="147.4" y="465.9"/>
<use href="#s_ph" x="161.7" y="470.2"/>
<use href="#s_ph" x="170.1" y="475.1"/>
<use href="#s_ph" x="175.8" y="467.1"/>
<use href="#s_ph" x="173.1" y="443.1"/>
<use href="#s_ph" x="169.4" y="446.7"/>
<use href="#s_ph" x="163.7" y="470.7"/>
<use href="#s_ph" x="158.7" y="466.4"/>
<use href="#s_ph" x="154.6" y="473.1"/>
<use href="#s_ph" x="153.5" y="455.0"/>
<use href="#s_ph" x="177.6" y="469.3"/>
<use href="#s_ph" x="153.8" y="485.5"/>
<use href="#s_ph" x="156.7" y="465.7"/>
<use href="#s_ph" x="159.7" y="491.6"/>
<use href="#s_ph" x="179.2" y="447.8"/>
<use href="#s_ph" x="151.5" y="459.0"/>
<use href="#s_ph" x="162.9" y="455.1"/>
<use href="#s_ph" x="164.2" y="473.9"/>
<use href="#s_ph" x="177.9" y="482.9"/>
<use href="#s_ph" x="143.0" y="471.9"/>
<use href="#s_ph" x="150.1" y="482.9"/>
<use href="#s_ph" x="150.2" y="475.1"/>
<use href="#s_ph" x="174.9" y="474.9"/>
<use href="#s_ph" x="157.0" y="478.6"/>
<use href="#s_ph" x="145.5" y="469.4"/>
<use href="#s_ph" x="171.0" y="480.6"/>
<use href="#s_ph" x="180.9" y="462.2"/>
<use href="#s_ph" x="164.4" y="445.1"/>
<use href="#s_ph" x="171.3" y="489.3"/>
<use href="#s_ph" x="164.3" y="482.8"/>
<use href="#s_ph" x="166.9" y="440.7"/>
<use href="#s_ph" x="166.8" y="483.0"/>
<use href="#s_ph" x="148.8" y="462.2"/>
<use href="#s_ph" x="170.9" y="460.3"/>
<use href="#s_ph" x="143.0" y="480.7"/>
<use href="#s_ph" x="177.7" y="480.8"/>
<use href="#s_ph" x="162.3" y="480.6"/>
<use href="#s_ph" x="150.3" y="489.9"/>
<use href="#s_ph" x="146.5" y="473.1"/>
<use href="#s_ph" x="175.0" y="486.7"/>
<use href="#s_ph" x="169.3" y="453.5"/>
<use href="#s_ph" x="176.5" y="448.5"/>
<use href="#s_ph" x="154.2" y="468.9"/>
<use href="#s_ph" x="157.1" y="472.3"/>
<use href="#s_ph" x="177.1" y="484.8"/>
<use href="#s_ph" x="175.1" y="480.9"/>
<use href="#s_ph" x="176.8" y="471.3"/>
<use href="#s_ph" x="154.2" y="481.5"/>
<use href="#s_ph" x="160.2" y="474.9"/>
<use href="#s_ph" x="146.1" y="481.2"/>
<use href="#s_ph" x="162.0" y="452.1"/>
<use href="#s_ph" x="159.8" y="463.3"/>
<use href="#s_ph" x="159.7" y="445.0"/>
<use href="#s_ph" x="171.2" y="472.5"/>
<use href="#s_ph" x="168.8" y="483.6"/>
<use href="#s_ph" x="177.5" y="446.6"/>
<use href="#s_ph" x="182.1" y="451.3"/>
<use href="#s_ph" x="167.9" y="472.1"/>
<use href="#s_ph" x="173.5" y="464.6"/>
<use href="#s_ph" x="165.0" y="457.4"/>
<use href="#s_ph" x="160.0" y="472.9"/>
<use href="#s_ph" x="148.3" y="485.6"/>
<use href="#s_ph" x="168.2" y="444.6"/>
<use href="#s_ph" x="155.0" y="463.0"/>
<use href="#s_ph" x="176.4" y="476.2"/>
<use href="#s_ph" x="157.7" y="469.3"/>
<use href="#s_ph" x="143.0" y="485.2"/>
<use href="#s_ph" x="173.3" y="455.7"/>
<use href="#s_ph" x="168.4" y="467.4"/>
<use href="#s_ph" x="147.0" y="477.4"/>
<use href="#s_ph" x="180.4" y="456.9"/>
<use href="#s_ph" x="157.1" y="475.7"/>
<use href="#s_ph" x="166.6" y="465.8"/>
<use href="#s_ph" x="164.0" y="491.1"/>
<use href="#s_ph" x="165.3" y="460.4"/>
<use href="#s_ph" x="153.7" y="471.2"/>
<use href="#s_ph" x="159.0" y="482.0"/>
<use href="#s_ph" x="153.7" y="457.8"/>
<use href="#s_ph" x="165.8" y="470.0"/>
<use href="#s_ph" x="169.7" y="462.8"/>
<use href="#s_ph" x="161.2" y="459.2"/>
<use href="#s_ph" x="175.2" y="483.0"/>
<use href="#s_ph" x="172.8" y="451.1"/>
<use href="#s_ph" x="161.6" y="446.0"/>
<use href="#s_ph" x="155.9" y="467.8"/>
<use href="#s_ph" x="153.4" y="490.5"/>
<use href="#s_ph" x="179.7" y="453.1"/>
<use href="#s_ph" x="151.2" y="471.6"/>
<use href="#s_ph" x="151.1" y="486.1"/>
<use href="#s_ph" x="165.5" y="478.0"/>
<use href="#s_ph" x="152.2" y="483.6"/>
<use href="#s_ph" x="180.8" y="446.4"/>
<use href="#s_ph" x="149.7" y="477.8"/>
<use href="#s_ph" x="165.0" y="447.7"/>
<use href="#s_ph" x="160.1" y="448.6"/>
<use href="#s_ph" x="180.1" y="468.7"/>
<use href="#s_ph" x="147.1" y="483.5"/>
<use href="#s_ph" x="158.2" y="487.8"/>
<use href="#s_ph" x="176.1" y="451.4"/>
<use href="#s_ph" x="181.8" y="448.2"/>
<use href="#s_ph" x="161.5" y="456.9"/>
<use href="#s_ph" x="154.2" y="460.3"/>
<use href="#s_ph" x="165.7" y="439.0"/>
<use href="#s_ph" x="161.6" y="443.6"/>
<use href="#s_ph" x="163.3" y="476.1"/>
<use href="#s_ph" x="165.7" y="475.3"/>
<use href="#s_ph" x="172.4" y="446.0"/>
<use href="#s_ph" x="142.5" y="482.7"/>
<use href="#s_ph" x="179.8" y="450.3"/>
<use href="#s_ph" x="169.6" y="485.8"/>
<use href="#s_ph" x="160.0" y="468.1"/>
<use href="#s_ph" x="151.0" y="480.2"/>
<use href="#s_ph" x="147.3" y="468.6"/>
<use href="#s_ph" x="162.5" y="460.7"/>
<use href="#s_ph" x="175.5" y="462.5"/>
<use href="#s_ph" x="155.7" y="493.8"/>
<use href="#s_ph" x="156.6" y="485.1"/>
<use href="#s_ph" x="180.3" y="466.5"/>
<use href="#s_ph" x="170.6" y="434.6"/>
<use href="#s_ph" x="176.5" y="489.0"/>
<use href="#s_ph" x="178.5" y="492.0"/>
<use href="#s_ph" x="194.0" y="489.0"/>
<use href="#s_ph" x="196.0" y="493.0"/>
<use href="#s_ph" x="186.0" y="396.0"/>
<use href="#s_ph" x="189.0" y="399.0"/>
<use href="#s_ph" x="190.0" y="401.0"/>
<use href="#s_ph" x="157.6" y="497.0"/>
<use href="#s_ph" x="168.0" y="499.0"/>
<use href="#s_ph" x="170.0" y="501.0"/>
<use href="#s_ph" x="172.0" y="503.0"/>
<use href="#s_ph" x="166.0" y="502.0"/>
<use href="#s_hyp" x="191.4" y="436.0"/>
<use href="#s_hyp" x="193.1" y="429.6"/>
<use href="#s_hyp" x="192.8" y="453.8"/>
<use href="#s_hyp" x="213.6" y="423.0"/>
<use href="#s_hyp" x="207.2" y="435.2"/>
<use href="#s_hyp" x="201.5" y="455.7"/>
<use href="#s_hyp" x="214.6" y="424.7"/>
<use href="#s_hyp" x="210.3" y="452.3"/>
<use href="#s_hyp" x="204.5" y="426.5"/>
<use href="#s_hyp" x="210.7" y="456.6"/>
<use href="#s_hyp" x="194.3" y="444.1"/>
<use href="#s_hyp" x="218.2" y="428.3"/>
<use href="#s_hyp" x="198.1" y="429.5"/>
<use href="#s_hyp" x="218.0" y="445.0"/>
<use href="#s_hyp" x="202.3" y="430.3"/>
<use href="#s_hyp" x="204.7" y="413.7"/>
<use href="#s_hyp" x="216.8" y="426.4"/>
<use href="#s_hyp" x="208.5" y="432.6"/>
<use href="#s_hyp" x="190.5" y="443.1"/>
<use href="#s_hyp" x="206.6" y="414.9"/>
<use href="#s_hyp" x="216.2" y="446.6"/>
<use href="#s_hyp" x="207.5" y="422.3"/>
<use href="#s_hyp" x="218.3" y="440.9"/>
<use href="#s_hyp" x="210.0" y="447.5"/>
<use href="#s_hyp" x="192.6" y="446.8"/>
<use href="#s_hyp" x="204.5" y="444.0"/>
<use href="#s_hyp" x="195.3" y="435.7"/>
<use href="#s_hyp" x="209.2" y="459.0"/>
<use href="#s_hyp" x="202.1" y="437.6"/>
<use href="#s_hyp" x="212.7" y="459.6"/>
<use href="#s_hyp" x="196.8" y="431.2"/>
<use href="#s_hyp" x="217.0" y="435.1"/>
<use href="#s_hyp" x="208.7" y="424.8"/>
<use href="#s_hyp" x="206.3" y="431.7"/>
<use href="#s_hyp" x="208.3" y="438.9"/>
<use href="#s_hyp" x="202.6" y="428.0"/>
<use href="#s_hyp" x="199.1" y="451.5"/>
<use href="#s_hyp" x="215.7" y="418.9"/>
<use href="#s_hyp" x="199.0" y="426.2"/>
<use href="#s_hyp" x="213.1" y="442.4"/>
<use href="#s_hyp" x="195.5" y="439.2"/>
<use href="#s_hyp" x="203.2" y="421.5"/>
<use href="#s_hyp" x="210.3" y="439.1"/>
<use href="#s_hyp" x="192.3" y="431.4"/>
<use href="#s_hyp" x="221.6" y="446.0"/>
<use href="#s_hyp" x="189.2" y="439.8"/>
<use href="#s_hyp" x="219.1" y="422.8"/>
<use href="#s_hyp" x="214.7" y="433.4"/>
<use href="#s_hyp" x="206.2" y="419.0"/>
<use href="#s_hyp" x="206.6" y="448.0"/>
<use href="#s_hyp" x="199.7" y="449.7"/>
<use href="#s_hyp" x="204.3" y="433.1"/>
<use href="#s_hyp" x="195.3" y="454.2"/>
<use href="#s_hyp" x="208.5" y="419.2"/>
<use href="#s_hyp" x="193.1" y="437.3"/>
<use href="#s_hyp" x="205.4" y="452.4"/>
<use href="#s_hyp" x="197.2" y="434.9"/>
<use href="#s_hyp" x="205.7" y="428.1"/>
<use href="#s_hyp" x="198.9" y="437.3"/>
<use href="#s_hyp" x="203.0" y="441.6"/>
<use href="#s_hyp" x="214.9" y="456.5"/>
<use href="#s_hyp" x="212.3" y="417.1"/>
<use href="#s_hyp" x="194.7" y="426.6"/>
<use href="#s_hyp" x="209.5" y="435.3"/>
<use href="#s_hyp" x="213.1" y="439.5"/>
<use href="#s_hyp" x="207.8" y="453.1"/>
<use href="#s_hyp" x="204.1" y="449.0"/>
<use href="#s_hyp" x="197.6" y="423.4"/>
<use href="#s_hyp" x="217.1" y="420.3"/>
<use href="#s_hyp" x="206.9" y="458.6"/>
<use href="#s_hyp" x="204.5" y="423.9"/>
<use href="#s_hyp" x="214.2" y="430.1"/>
<use href="#s_hyp" x="212.0" y="431.6"/>
<use href="#s_hyp" x="222.0" y="429.7"/>
<use href="#s_hyp" x="207.5" y="455.0"/>
<use href="#s_hyp" x="192.9" y="442.7"/>
<use href="#s_hyp" x="211.6" y="419.8"/>
<use href="#s_hyp" x="212.2" y="428.9"/>
<use href="#s_hyp" x="202.1" y="432.5"/>
<use href="#s_hyp" x="197.5" y="454.4"/>
<use href="#s_hyp" x="209.1" y="428.3"/>
<use href="#s_hyp" x="191.6" y="449.6"/>
<use href="#s_hyp" x="223.1" y="433.6"/>
<use href="#s_hyp" x="220.3" y="442.9"/>
<use href="#s_hyp" x="211.6" y="462.6"/>
<use href="#s_hyp" x="211.9" y="447.6"/>
<use href="#s_hyp" x="214.7" y="441.0"/>
<use href="#s_hyp" x="197.4" y="438.6"/>
<use href="#s_hyp" x="194.8" y="433.3"/>
<use href="#s_hyp" x="195.2" y="441.9"/>
<use href="#s_hyp" x="219.2" y="437.7"/>
<use href="#s_hyp" x="220.7" y="432.2"/>
<use href="#s_hyp" x="212.9" y="426.6"/>
<use href="#s_hyp" x="213.3" y="421.1"/>
<use href="#s_hyp" x="189.2" y="435.5"/>
<use href="#s_hyp" x="207.4" y="446.0"/>
<use href="#s_hyp" x="202.2" y="425.6"/>
<use href="#s_hyp" x="197.3" y="441.4"/>
<use href="#s_hyp" x="202.5" y="452.8"/>
<use href="#s_hyp" x="221.3" y="435.6"/>
<use href="#s_hyp" x="204.2" y="458.7"/>
<use href="#s_hyp" x="218.3" y="455.6"/>
<use href="#s_hyp" x="222.1" y="443.9"/>
<use href="#s_hyp" x="222.1" y="421.2"/>
<use href="#s_hyp" x="213.1" y="451.4"/>
<use href="#s_hyp" x="199.6" y="442.6"/>
<use href="#s_hyp" x="200.8" y="424.2"/>
<use href="#s_hyp" x="217.1" y="438.2"/>
<use href="#s_hyp" x="218.6" y="425.7"/>
<use href="#s_hyp" x="219.0" y="430.8"/>
<use href="#s_hyp" x="200.2" y="433.5"/>
<use href="#s_hyp" x="195.8" y="428.5"/>
<use href="#s_hyp" x="202.6" y="435.7"/>
<use href="#s_hyp" x="209.2" y="417.3"/>
<use href="#s_hyp" x="214.5" y="449.0"/>
<use href="#s_hyp" x="210.0" y="454.3"/>
<use href="#s_hyp" x="199.6" y="422.4"/>
<use href="#s_hyp" x="216.3" y="452.7"/>
<use href="#s_hyp" x="213.6" y="435.9"/>
<use href="#s_hyp" x="210.7" y="426.7"/>
<use href="#s_hyp" x="210.5" y="442.3"/>
<use href="#s_hyp" x="217.4" y="432.6"/>
<use href="#s_hyp" x="197.5" y="444.8"/>
<use href="#s_hyp" x="199.9" y="439.3"/>
<use href="#s_hyp" x="215.3" y="443.4"/>
<use href="#s_hyp" x="222.9" y="437.8"/>
<use href="#s_hyp" x="190.4" y="432.8"/>
<use href="#s_hyp" x="215.1" y="439.0"/>
<use href="#s_hyp" x="200.4" y="431.2"/>
<use href="#s_hyp" x="221.5" y="425.1"/>
<use href="#s_hyp" x="200.2" y="428.4"/>
<use href="#s_hyp" x="211.2" y="436.4"/>
<use href="#s_hyp" x="192.9" y="427.5"/>
<use href="#s_hyp" x="212.7" y="444.6"/>
<use href="#s_hyp" x="211.1" y="415.2"/>
<use href="#s_hyp" x="195.9" y="449.1"/>
<use href="#s_hyp" x="214.3" y="453.9"/>
<use href="#s_hyp" x="195.2" y="446.0"/>
<use href="#s_hyp" x="208.0" y="450.5"/>
<use href="#s_hyp" x="220.2" y="450.0"/>
<use href="#s_hyp" x="203.7" y="455.7"/>
<use href="#s_hyp" x="222.4" y="427.8"/>
<use href="#s_hyp" x="204.1" y="438.7"/>
<use href="#s_hyp" x="206.5" y="437.6"/>
<use href="#s_hyp" x="208.7" y="456.8"/>
<use href="#s_hyp" x="218.9" y="447.4"/>
<use href="#s_hyp" x="205.1" y="441.1"/>
<use href="#s_hyp" x="209.9" y="445.0"/>
<use href="#s_hyp" x="208.5" y="441.5"/>
<use href="#s_hyp" x="200.2" y="447.3"/>
<use href="#s_hyp" x="226.8" y="441.0"/>
<use href="#s_hyp" x="227.0" y="444.0"/>
<use href="#s_hyp" x="222.0" y="460.0"/>
<use href="#s_hyp" x="218.0" y="462.0"/>
<use href="#s_hyp" x="199.0" y="491.0"/>
<use href="#s_iamp" x="199.6" y="460.3"/>
<use href="#s_iamp" x="187.5" y="462.8"/>
<use href="#s_iamp" x="187.2" y="454.2"/>
<use href="#s_iamp" x="203.4" y="463.3"/>
<use href="#s_iamp" x="194.9" y="471.5"/>
<use href="#s_iamp" x="182.1" y="452.9"/>
<use href="#s_iamp" x="198.4" y="458.4"/>
<use href="#s_iamp" x="188.3" y="474.5"/>
<use href="#s_iamp" x="192.4" y="467.1"/>
<use href="#s_iamp" x="190.3" y="479.6"/>
<use href="#s_iamp" x="190.2" y="471.7"/>
<use href="#s_iamp" x="182.9" y="470.6"/>
<use href="#s_iamp" x="185.2" y="461.7"/>
<use href="#s_iamp" x="188.9" y="467.1"/>
<use href="#s_iamp" x="200.7" y="470.0"/>
<use href="#s_iamp" x="197.0" y="466.4"/>
<use href="#s_iamp" x="190.8" y="456.4"/>
<use href="#s_iamp" x="181.4" y="462.3"/>
<use href="#s_iamp" x="183.6" y="462.5"/>
<use href="#s_iamp" x="191.9" y="453.0"/>
<use href="#s_iamp" x="198.8" y="467.0"/>
<use href="#s_iamp" x="191.9" y="459.6"/>
<use href="#s_iamp" x="189.2" y="469.0"/>
<use href="#s_iamp" x="189.2" y="461.0"/>
<use href="#s_iamp" x="185.0" y="477.9"/>
<use href="#s_iamp" x="207.0" y="466.8"/>
<use href="#s_iamp" x="193.9" y="457.1"/>
<use href="#s_iamp" x="186.2" y="466.8"/>
<use href="#s_iamp" x="188.1" y="478.9"/>
<use href="#s_iamp" x="184.7" y="464.7"/>
<use href="#s_iamp" x="189.9" y="454.0"/>
<use href="#s_iamp" x="185.6" y="458.9"/>
<use href="#s_iamp" x="194.2" y="462.4"/>
<use href="#s_iamp" x="192.7" y="480.2"/>
<use href="#s_iamp" x="191.1" y="474.3"/>
<use href="#s_iamp" x="194.8" y="469.0"/>
<use href="#s_iamp" x="197.8" y="464.1"/>
<use href="#s_iamp" x="196.7" y="460.5"/>
<use href="#s_iamp" x="185.2" y="473.2"/>
<use href="#s_iamp" x="182.9" y="458.5"/>
<use href="#s_iamp" x="184.3" y="467.6"/>
<use href="#s_iamp" x="190.1" y="465.3"/>
<use href="#s_iamp" x="198.0" y="462.0"/>
<use href="#s_iamp" x="202.0" y="466.0"/>
<use href="#s_iamp" x="204.6" y="467.7"/>
<use href="#s_iamp" x="190.5" y="438.6"/>
<use href="#s_iamp" x="200.0" y="458.0"/>
<use href="#s_dux" x="169.2" y="539.3"/>
<use href="#s_dux" x="151.0" y="532.4"/>
<use href="#s_dux" x="152.6" y="541.8"/>
<use href="#s_dux" x="161.7" y="537.7"/>
<use href="#s_dux" x="156.5" y="535.9"/>
<use href="#s_dux" x="151.5" y="545.3"/>
<use href="#s_dux" x="157.3" y="543.6"/>
<use href="#s_dux" x="155.4" y="538.8"/>
<use href="#s_dux" x="176.2" y="539.0"/>
<use href="#s_dux" x="171.0" y="537.1"/>
<use href="#s_dux" x="159.4" y="533.6"/>
<use href="#s_dux" x="149.1" y="540.4"/>
<use href="#s_dux" x="153.5" y="539.7"/>
<use href="#s_dux" x="168.1" y="551.7"/>
<use href="#s_dux" x="150.2" y="542.6"/>
<use href="#s_dux" x="174.0" y="550.9"/>
<use href="#s_dux" x="172.6" y="539.4"/>
<use href="#s_dux" x="174.0" y="547.2"/>
<use href="#s_dux" x="160.5" y="552.6"/>
<use href="#s_dux" x="155.7" y="531.9"/>
<use href="#s_dux" x="176.2" y="536.6"/>
<use href="#s_dux" x="163.9" y="554.1"/>
<use href="#s_dux" x="167.1" y="531.3"/>
<use href="#s_dux" x="147.9" y="547.1"/>
<use href="#s_dux" x="165.2" y="539.3"/>
<use href="#s_dux" x="153.5" y="552.9"/>
<use href="#s_dux" x="169.2" y="536.0"/>
<use href="#s_dux" x="166.8" y="548.6"/>
<use href="#s_dux" x="173.9" y="534.2"/>
<use href="#s_dux" x="161.7" y="544.8"/>
<use href="#s_dux" x="162.5" y="552.0"/>
<use href="#s_dux" x="170.6" y="547.6"/>
<use href="#s_dux" x="177.4" y="545.8"/>
<use href="#s_dux" x="168.6" y="554.7"/>
<use href="#s_dux" x="161.8" y="540.3"/>
<use href="#s_dux" x="159.1" y="542.4"/>
<use href="#s_dux" x="165.1" y="551.4"/>
<use href="#s_dux" x="158.6" y="545.2"/>
<use href="#s_dux" x="149.8" y="550.2"/>
<use href="#s_dux" x="153.0" y="534.7"/>
<use href="#s_dux" x="153.7" y="549.4"/>
<use href="#s_dux" x="160.5" y="547.3"/>
<use href="#s_dux" x="153.0" y="537.0"/>
<use href="#s_dux" x="167.3" y="541.2"/>
<use href="#s_dux" x="157.8" y="531.5"/>
<use href="#s_dux" x="165.0" y="545.7"/>
<use href="#s_dux" x="164.1" y="532.9"/>
<use href="#s_dux" x="162.6" y="548.6"/>
<use href="#s_dux" x="160.6" y="554.7"/>
<use href="#s_dux" x="157.7" y="553.1"/>
<use href="#s_dux" x="147.5" y="544.7"/>
<use href="#s_dux" x="157.5" y="540.1"/>
<use href="#s_dux" x="150.2" y="548.1"/>
<use href="#s_dux" x="164.1" y="535.9"/>
<use href="#s_dux" x="175.9" y="543.5"/>
<use href="#s_dux" x="171.1" y="532.6"/>
<use href="#s_dux" x="166.7" y="553.5"/>
<use href="#s_dux" x="153.9" y="546.3"/>
<use href="#s_dux" x="166.1" y="557.2"/>
<use href="#s_dux" x="173.7" y="555.9"/>
<use href="#s_dux" x="155.2" y="551.4"/>
<use href="#s_dux" x="164.8" y="542.7"/>
<use href="#s_dux" x="171.7" y="549.8"/>
<use href="#s_dux" x="156.1" y="554.8"/>
<use href="#s_dux" x="158.9" y="556.3"/>
<use href="#s_etv" x="221.8" y="532.6"/>
<use href="#s_etv" x="260.0" y="508.2"/>
<use href="#s_etv" x="231.7" y="531.7"/>
<use href="#s_etv" x="247.3" y="514.3"/>
<use href="#s_etv" x="238.8" y="551.9"/>
<use href="#s_etv" x="244.5" y="501.9"/>
<use href="#s_etv" x="232.4" y="550.0"/>
<use href="#s_etv" x="245.4" y="511.5"/>
<use href="#s_etv" x="244.3" y="535.7"/>
<use href="#s_etv" x="228.5" y="509.2"/>
<use href="#s_etv" x="233.2" y="516.9"/>
<use href="#s_etv" x="252.4" y="508.3"/>
<use href="#s_etv" x="249.1" y="498.7"/>
<use href="#s_etv" x="261.8" y="512.6"/>
<use href="#s_etv" x="241.5" y="520.3"/>
<use href="#s_etv" x="256.2" y="499.5"/>
<use href="#s_etv" x="255.3" y="542.4"/>
<use href="#s_etv" x="225.3" y="515.3"/>
<use href="#s_etv" x="238.9" y="534.9"/>
<use href="#s_etv" x="235.5" y="522.5"/>
<use href="#s_etv" x="236.0" y="529.6"/>
<use href="#s_etv" x="263.4" y="522.3"/>
<use href="#s_etv" x="229.4" y="526.5"/>
<use href="#s_etv" x="235.2" y="533.3"/>
<use href="#s_etv" x="237.3" y="521.0"/>
<use href="#s_etv" x="260.0" y="515.1"/>
<use href="#s_etv" x="256.7" y="530.6"/>
<use href="#s_etv" x="223.5" y="542.0"/>
<use href="#s_etv" x="222.1" y="535.6"/>
<use href="#s_etv" x="224.3" y="518.1"/>
<use href="#s_etv" x="255.6" y="520.3"/>
<use href="#s_etv" x="246.7" y="497.5"/>
<use href="#s_etv" x="225.4" y="538.7"/>
<use href="#s_etv" x="262.6" y="514.9"/>
<use href="#s_etv" x="257.2" y="513.0"/>
<use href="#s_etv" x="228.1" y="546.4"/>
<use href="#s_etv" x="249.1" y="551.8"/>
<use href="#s_etv" x="257.2" y="537.6"/>
<use href="#s_etv" x="236.8" y="547.7"/>
<use href="#s_etv" x="232.2" y="509.7"/>
<use href="#s_etv" x="238.5" y="532.3"/>
<use href="#s_etv" x="258.1" y="526.6"/>
<use href="#s_etv" x="228.2" y="521.7"/>
<use href="#s_etv" x="248.7" y="521.4"/>
<use href="#s_etv" x="233.0" y="528.2"/>
<use href="#s_etv" x="242.5" y="546.9"/>
<use href="#s_etv" x="239.7" y="529.4"/>
<use href="#s_etv" x="235.2" y="545.2"/>
<use href="#s_etv" x="234.5" y="535.5"/>
<use href="#s_etv" x="249.1" y="504.8"/>
<use href="#s_etv" x="249.7" y="543.0"/>
<use href="#s_etv" x="238.8" y="537.3"/>
<use href="#s_etv" x="242.8" y="511.2"/>
<use href="#s_etv" x="251.3" y="512.7"/>
<use href="#s_etv" x="258.9" y="539.6"/>
<use href="#s_etv" x="243.6" y="522.8"/>
<use href="#s_etv" x="235.6" y="526.9"/>
<use href="#s_etv" x="236.7" y="517.2"/>
<use href="#s_etv" x="231.7" y="534.3"/>
<use href="#s_etv" x="245.2" y="547.4"/>
<use href="#s_etv" x="246.5" y="522.2"/>
<use href="#s_etv" x="241.0" y="516.9"/>
<use href="#s_etv" x="237.9" y="513.1"/>
<use href="#s_etv" x="255.5" y="503.8"/>
<use href="#s_etv" x="222.8" y="524.8"/>
<use href="#s_etv" x="240.1" y="526.1"/>
<use href="#s_etv" x="226.1" y="533.8"/>
<use href="#s_etv" x="255.4" y="528.5"/>
<use href="#s_etv" x="242.7" y="498.4"/>
<use href="#s_etv" x="253.1" y="539.1"/>
<use href="#s_etv" x="230.7" y="536.4"/>
<use href="#s_etv" x="257.2" y="523.4"/>
<use href="#s_etv" x="236.3" y="507.8"/>
<use href="#s_etv" x="241.1" y="551.7"/>
<use href="#s_etv" x="230.7" y="514.4"/>
<use href="#s_etv" x="228.7" y="513.6"/>
<use href="#s_etv" x="259.1" y="520.6"/>
<use href="#s_etv" x="223.2" y="528.7"/>
<use href="#s_etv" x="244.2" y="507.7"/>
<use href="#s_etv" x="241.5" y="549.0"/>
<use href="#s_etv" x="252.1" y="495.5"/>
<use href="#s_etv" x="254.8" y="496.3"/>
<use href="#s_etv" x="267.2" y="513.2"/>
<use href="#s_etv" x="252.9" y="524.6"/>
<use href="#s_etv" x="227.5" y="529.6"/>
<use href="#s_etv" x="246.5" y="534.4"/>
<use href="#s_etv" x="242.1" y="502.8"/>
<use href="#s_etv" x="261.2" y="503.8"/>
<use href="#s_etv" x="244.2" y="529.1"/>
<use href="#s_etv" x="264.1" y="527.8"/>
<use href="#s_etv" x="236.8" y="510.8"/>
<use href="#s_etv" x="238.4" y="544.8"/>
<use href="#s_etv" x="224.7" y="523.7"/>
<use href="#s_etv" x="258.6" y="545.2"/>
<use href="#s_etv" x="237.2" y="540.6"/>
<use href="#s_etv" x="253.5" y="544.7"/>
<use href="#s_etv" x="252.7" y="535.6"/>
<use href="#s_etv" x="244.0" y="552.5"/>
<use href="#s_etv" x="246.3" y="538.1"/>
<use href="#s_etv" x="232.1" y="546.2"/>
<use href="#s_etv" x="228.9" y="503.8"/>
<use href="#s_etv" x="249.6" y="517.4"/>
<use href="#s_etv" x="266.1" y="520.4"/>
<use href="#s_etv" x="250.9" y="532.3"/>
<use href="#s_etv" x="223.4" y="520.2"/>
<use href="#s_etv" x="235.6" y="500.5"/>
<use href="#s_etv" x="228.3" y="537.1"/>
<use href="#s_etv" x="219.8" y="530.5"/>
<use href="#s_etv" x="255.0" y="511.7"/>
<use href="#s_etv" x="252.6" y="501.4"/>
<use href="#s_etv" x="228.5" y="518.0"/>
<use href="#s_etv" x="245.2" y="540.2"/>
<use href="#s_etv" x="233.6" y="506.9"/>
<use href="#s_etv" x="255.3" y="533.5"/>
<use href="#s_etv" x="249.1" y="529.2"/>
<use href="#s_etv" x="232.0" y="523.6"/>
<use href="#s_etv" x="255.7" y="516.0"/>
<use href="#s_etv" x="260.0" y="518.2"/>
<use href="#s_etv" x="251.1" y="526.4"/>
<use href="#s_etv" x="257.9" y="507.1"/>
<use href="#s_etv" x="247.1" y="517.9"/>
<use href="#s_etv" x="254.4" y="507.0"/>
<use href="#s_etv" x="264.8" y="507.2"/>
<use href="#s_etv" x="239.5" y="547.6"/>
<use href="#s_etv" x="235.9" y="542.8"/>
<use href="#s_etv" x="249.0" y="512.7"/>
<use href="#s_etv" x="224.9" y="545.3"/>
<use href="#s_etv" x="254.0" y="548.0"/>
<use href="#s_etv" x="259.2" y="530.2"/>
<use href="#s_etv" x="226.4" y="509.7"/>
<use href="#s_etv" x="242.5" y="538.4"/>
<use href="#s_etv" x="239.9" y="540.1"/>
<use href="#s_etv" x="236.3" y="550.2"/>
<use href="#s_etv" x="259.6" y="500.7"/>
<use href="#s_etv" x="227.5" y="515.5"/>
<use href="#s_etv" x="266.3" y="516.2"/>
<use href="#s_etv" x="257.2" y="501.7"/>
<use href="#s_etv" x="250.2" y="536.6"/>
<use href="#s_etv" x="251.5" y="522.4"/>
<use href="#s_etv" x="251.1" y="519.1"/>
<use href="#s_etv" x="227.3" y="527.3"/>
<use href="#s_etv" x="228.5" y="541.7"/>
<use href="#s_etv" x="232.4" y="552.4"/>
<use href="#s_etv" x="245.3" y="519.8"/>
<use href="#s_etv" x="242.9" y="533.2"/>
<use href="#s_etv" x="260.3" y="537.2"/>
<use href="#s_etv" x="220.2" y="523.4"/>
<use href="#s_etv" x="243.6" y="544.3"/>
<use href="#s_etv" x="258.9" y="534.8"/>
<use href="#s_etv" x="245.6" y="499.8"/>
<use href="#s_etv" x="250.5" y="547.8"/>
<use href="#s_etv" x="253.9" y="522.0"/>
<use href="#s_etv" x="263.6" y="519.8"/>
<use href="#s_etv" x="252.2" y="528.8"/>
<use href="#s_etv" x="247.2" y="525.3"/>
<use href="#s_etv" x="248.0" y="544.8"/>
<use href="#s_etv" x="220.7" y="519.5"/>
<use href="#s_etv" x="254.1" y="513.9"/>
<use href="#s_etv" x="230.9" y="543.6"/>
<use href="#s_etv" x="252.9" y="516.5"/>
<use href="#s_etv" x="230.8" y="541.3"/>
<use href="#s_etv" x="231.1" y="538.6"/>
<use href="#s_etv" x="248.8" y="501.0"/>
<use href="#s_etv" x="241.0" y="505.8"/>
<use href="#s_etv" x="244.8" y="526.1"/>
<use href="#s_etv" x="213.0" y="496.4"/>
<use href="#s_etv" x="214.0" y="528.3"/>
<use href="#s_etv" x="267.0" y="510.0"/>
<use href="#s_etv" x="262.0" y="499.0"/>
<use href="#s_etv" x="257.0" y="548.0"/>
<use href="#s_etv" x="233.0" y="554.0"/>
<use href="#s_ikz" x="206.6" y="509.8"/>
<use href="#s_oth" x="140.0" y="412.0"/>
<use href="#s_oth" x="138.6" y="419.6"/>
<use href="#s_oth" x="109.8" y="433.3"/>
<use href="#s_oth" x="117.5" y="445.8"/>
<use href="#s_oth" x="126.0" y="453.0"/>
<use href="#s_oth" x="128.0" y="445.8"/>
<use href="#s_oth" x="127.0" y="463.0"/>
<use href="#s_oth" x="132.7" y="450.4"/>
<use href="#s_oth" x="138.3" y="453.8"/>
<use href="#s_oth" x="126.6" y="463.4"/>
<use href="#s_oth" x="131.0" y="463.4"/>
<use href="#s_oth" x="129.2" y="466.8"/>
<use href="#s_oth" x="129.2" y="469.8"/>
<use href="#s_oth" x="131.4" y="475.5"/>
<use href="#s_oth" x="141.7" y="438.0"/>
<use href="#s_oth" x="164.0" y="411.0"/>
<use href="#s_oth" x="164.0" y="414.6"/>
<use href="#s_oth" x="167.4" y="430.4"/>
<use href="#s_oth" x="160.4" y="433.3"/>
<use href="#s_oth" x="182.6" y="427.4"/>
<use href="#s_oth" x="176.8" y="440.3"/>
<use href="#s_oth" x="188.5" y="419.2"/>
<use href="#s_oth" x="188.5" y="423.3"/>
<use href="#s_oth" x="192.9" y="414.0"/>
<use href="#s_oth" x="188.2" y="420.0"/>
<use href="#s_oth" x="198.7" y="421.6"/>
<use href="#s_oth" x="202.2" y="426.3"/>
<use href="#s_oth" x="182.3" y="428.0"/>
<use href="#s_oth" x="226.8" y="428.6"/>
<use href="#s_oth" x="199.3" y="442.0"/>
<use href="#s_oth" x="221.0" y="453.2"/>
<use href="#s_oth" x="199.3" y="457.3"/>
<use href="#s_oth" x="220.7" y="506.8"/>
<use href="#s_oth" x="204.0" y="528.3"/>
<use href="#s_oth" x="208.0" y="528.3"/>
<use href="#s_oth" x="212.0" y="528.3"/>
<use href="#s_oth" x="154.4" y="521.0"/>
<use href="#s_oth" x="186.0" y="478.0"/>
<use href="#s_oth" x="170.0" y="408.0"/>
<use href="#s_oth" x="193.0" y="455.0"/>
<rect x="181.2" y="482.8" width="3.8" height="3.8" fill="#e8101a"/>
<text x="295.8" y="373.8" font-size="7" font-weight="bold" font-family="Liberation Sans, sans-serif">Subtypes</text>
<use href="#s_ph" x="288.4" y="381.7"/>
<text x="295.8" y="384.1" font-size="6.85" fill="#111" font-family="Liberation Sans, sans-serif">Ph+ or Ph-like</text>
<use href="#s_dux" x="288.4" y="391.4"/>
<text x="295.8" y="393.8" font-size="6.85" fill="#111" font-family="Liberation Sans, sans-serif">DUX4 rearrangement</text>
<use href="#s_etv" x="288.4" y="401.1"/>
<text x="295.8" y="403.5" font-size="6.85" fill="#111" font-family="Liberation Sans, sans-serif">ETV6−RUNX1 or like</text>
<use href="#s_hyp" x="288.4" y="410.8"/>
<text x="295.8" y="413.2" font-size="6.85" fill="#111" font-family="Liberation Sans, sans-serif">Hyperdiploidy</text>
<use href="#s_hypo" x="288.4" y="420.5"/>
<text x="295.8" y="422.9" font-size="6.85" fill="#111" font-family="Liberation Sans, sans-serif">Hypodiploidy</text>
<use href="#s_iamp" x="288.4" y="430.2"/>
<text x="295.8" y="432.6" font-size="6.85" fill="#111" font-family="Liberation Sans, sans-serif">iAMP21</text>
<use href="#s_ikz" x="288.4" y="439.9"/>
<text x="295.8" y="442.3" font-size="6.85" fill="#111" font-family="Liberation Sans, sans-serif">IKZF1 N159Y</text>
<use href="#s_kmt" x="288.4" y="449.6"/>
<text x="295.8" y="452.0" font-size="6.85" fill="#111" font-family="Liberation Sans, sans-serif">KMT2A rearrangement</text>
<use href="#s_mef" x="288.4" y="459.3"/>
<text x="295.8" y="461.7" font-size="6.85" fill="#111" font-family="Liberation Sans, sans-serif">MEF2D rearrangement</text>
<use href="#s_nut" x="288.4" y="469.0"/>
<text x="295.8" y="471.4" font-size="6.85" fill="#111" font-family="Liberation Sans, sans-serif">NUTM1 rearrangement</text>
<use href="#s_oth" x="288.4" y="478.7"/>
<text x="295.8" y="481.1" font-size="6.85" fill="#111" font-family="Liberation Sans, sans-serif">Others</text>
<use href="#s_pax" x="288.4" y="488.4"/>
<text x="295.8" y="490.8" font-size="6.85" fill="#111" font-family="Liberation Sans, sans-serif">PAX5 alteration</text>
<use href="#s_p80" x="288.4" y="498.1"/>
<text x="295.8" y="500.5" font-size="6.85" fill="#111" font-family="Liberation Sans, sans-serif">PAX5 P80R</text>
<use href="#s_tall" x="288.4" y="507.8"/>
<text x="295.8" y="510.2" font-size="6.85" fill="#111" font-family="Liberation Sans, sans-serif">T−ALL</text>
<use href="#s_tcf" x="288.4" y="517.5"/>
<text x="295.8" y="519.9" font-size="6.85" fill="#111" font-family="Liberation Sans, sans-serif">TCF3−PBX1</text>
<use href="#s_znf" x="288.4" y="527.2"/>
<text x="295.8" y="529.6" font-size="6.85" fill="#111" font-family="Liberation Sans, sans-serif">ZNF384 rearrangement</text>
<rect x="451.8" y="366.8" width="60" height="29.6" fill="#d6d6d6"/>
<text x="482" y="375.8" font-size="7.3" font-weight="bold" text-anchor="middle" textLength="56" lengthAdjust="spacingAndGlyphs" fill="#111" font-family="Liberation Sans, sans-serif">Neural network</text>
<text x="482" y="384.7" font-size="7.3" font-weight="bold" text-anchor="middle" textLength="36.5" lengthAdjust="spacingAndGlyphs" fill="#111" font-family="Liberation Sans, sans-serif">prediction</text>
<text x="482" y="393.5" font-size="7.3" text-anchor="middle" textLength="34.4" lengthAdjust="spacingAndGlyphs" fill="#111" font-family="Liberation Sans, sans-serif">Probability</text>
<text x="448.5" y="389.2" font-size="7.1" font-weight="bold" text-anchor="end" fill="#111" font-family="Liberation Sans, sans-serif">Subtypes</text>
<rect x="451.8" y="398.10" width="60" height="10.47" fill="#f0f0f0"/>
<text x="482" y="406.30" font-size="7.8" text-anchor="middle" fill="#111" font-family="Liberation Sans, sans-serif">0.64</text>
<text x="416" y="405.90" font-size="6.9" text-anchor="middle" fill="#111" font-family="Liberation Sans, sans-serif">Ph+ or Ph-like</text>
<rect x="451.8" y="409.47" width="60" height="10.47" fill="#e2e2e2"/>
<text x="482" y="417.67" font-size="7.8" text-anchor="middle" fill="#111" font-family="Liberation Sans, sans-serif">0.01</text>
<text x="447.8" y="415.97" font-size="6.85" text-anchor="end" fill="#111" font-family="Liberation Sans, sans-serif">DUX4 rearrangement</text>
<rect x="451.8" y="420.84" width="60" height="10.47" fill="#f0f0f0"/>
<text x="482" y="429.04" font-size="7.8" text-anchor="middle" fill="#111" font-family="Liberation Sans, sans-serif">0</text>
<text x="447.8" y="427.34" font-size="6.85" text-anchor="end" fill="#111" font-family="Liberation Sans, sans-serif">ETV6−RUNX1 or like</text>
<rect x="451.8" y="432.21" width="60" height="10.47" fill="#e2e2e2"/>
<text x="482" y="440.41" font-size="7.8" text-anchor="middle" fill="#111" font-family="Liberation Sans, sans-serif">0.04</text>
<text x="447.8" y="438.71" font-size="6.85" text-anchor="end" fill="#111" font-family="Liberation Sans, sans-serif">Hyperdiploidy</text>
<rect x="451.8" y="443.58" width="60" height="10.47" fill="#f0f0f0"/>
<text x="482" y="451.78" font-size="7.8" text-anchor="middle" fill="#111" font-family="Liberation Sans, sans-serif">0</text>
<text x="447.8" y="450.08" font-size="6.85" text-anchor="end" fill="#111" font-family="Liberation Sans, sans-serif">Hypodiploidy</text>
<rect x="451.8" y="454.95" width="60" height="10.47" fill="#e2e2e2"/>
<text x="482" y="463.15" font-size="7.8" text-anchor="middle" fill="#111" font-family="Liberation Sans, sans-serif">0.27</text>
<text x="447.8" y="461.45" font-size="6.85" text-anchor="end" fill="#111" font-family="Liberation Sans, sans-serif">iAMP21</text>
<rect x="451.8" y="466.32" width="60" height="10.47" fill="#f0f0f0"/>
<text x="482" y="474.52" font-size="7.8" text-anchor="middle" fill="#111" font-family="Liberation Sans, sans-serif">0</text>
<text x="447.8" y="472.82" font-size="6.85" text-anchor="end" fill="#111" font-family="Liberation Sans, sans-serif">IKZF1 N159Y</text>
<rect x="451.8" y="477.69" width="60" height="10.47" fill="#e2e2e2"/>
<text x="482" y="485.89" font-size="7.8" text-anchor="middle" fill="#111" font-family="Liberation Sans, sans-serif">0</text>
<text x="447.8" y="484.19" font-size="6.85" text-anchor="end" fill="#111" font-family="Liberation Sans, sans-serif">KMT2A rearrangement</text>
<rect x="451.8" y="489.06" width="60" height="10.47" fill="#f0f0f0"/>
<text x="482" y="497.26" font-size="7.8" text-anchor="middle" fill="#111" font-family="Liberation Sans, sans-serif">0</text>
<text x="447.8" y="495.56" font-size="6.85" text-anchor="end" fill="#111" font-family="Liberation Sans, sans-serif">MEF2D rearrangement</text>
<rect x="451.8" y="500.43" width="60" height="10.47" fill="#e2e2e2"/>
<text x="482" y="508.63" font-size="7.8" text-anchor="middle" fill="#111" font-family="Liberation Sans, sans-serif">0</text>
<text x="447.8" y="506.93" font-size="6.85" text-anchor="end" fill="#111" font-family="Liberation Sans, sans-serif">NUTM1 rearrangement</text>
<rect x="451.8" y="511.80" width="60" height="10.47" fill="#f0f0f0"/>
<text x="482" y="520.00" font-size="7.8" text-anchor="middle" fill="#111" font-family="Liberation Sans, sans-serif">0</text>
<text x="447.8" y="518.30" font-size="6.85" text-anchor="end" fill="#111" font-family="Liberation Sans, sans-serif">Others</text>
<rect x="451.8" y="523.17" width="60" height="10.47" fill="#e2e2e2"/>
<text x="482" y="531.37" font-size="7.8" text-anchor="middle" fill="#111" font-family="Liberation Sans, sans-serif">0.01</text>
<text x="447.8" y="529.67" font-size="6.85" text-anchor="end" fill="#111" font-family="Liberation Sans, sans-serif">PAX5 alteration</text>
<rect x="451.8" y="534.54" width="60" height="10.47" fill="#f0f0f0"/>
<text x="482" y="542.74" font-size="7.8" text-anchor="middle" fill="#111" font-family="Liberation Sans, sans-serif">0</text>
<text x="447.8" y="541.04" font-size="6.85" text-anchor="end" fill="#111" font-family="Liberation Sans, sans-serif">PAX5 P80R</text>
<rect x="451.8" y="545.91" width="60" height="10.47" fill="#e2e2e2"/>
<text x="482" y="554.11" font-size="7.8" text-anchor="middle" fill="#111" font-family="Liberation Sans, sans-serif">0</text>
<text x="447.8" y="552.41" font-size="6.85" text-anchor="end" fill="#111" font-family="Liberation Sans, sans-serif">T−ALL</text>
<rect x="451.8" y="557.28" width="60" height="10.47" fill="#f0f0f0"/>
<text x="482" y="565.48" font-size="7.8" text-anchor="middle" fill="#111" font-family="Liberation Sans, sans-serif">0.01</text>
<text x="447.8" y="563.78" font-size="6.85" text-anchor="end" fill="#111" font-family="Liberation Sans, sans-serif">TCF3−PBX1</text>
<rect x="451.8" y="568.65" width="60" height="10.47" fill="#e2e2e2"/>
<text x="482" y="576.85" font-size="7.8" text-anchor="middle" fill="#111" font-family="Liberation Sans, sans-serif">0.01</text>
<text x="447.8" y="575.15" font-size="6.85" text-anchor="end" fill="#111" font-family="Liberation Sans, sans-serif">ZNF384 rearrangement</text>
<rect x="374.3" y="398.2" width="136.4" height="11.4" rx="2.5" fill="none" stroke="#e8202a" stroke-width="1.1"/>
<rect x="0.5" y="0.5" width="519" height="597" fill="none" stroke="#000" stroke-width="1.2"/>
</svg></body></html>
